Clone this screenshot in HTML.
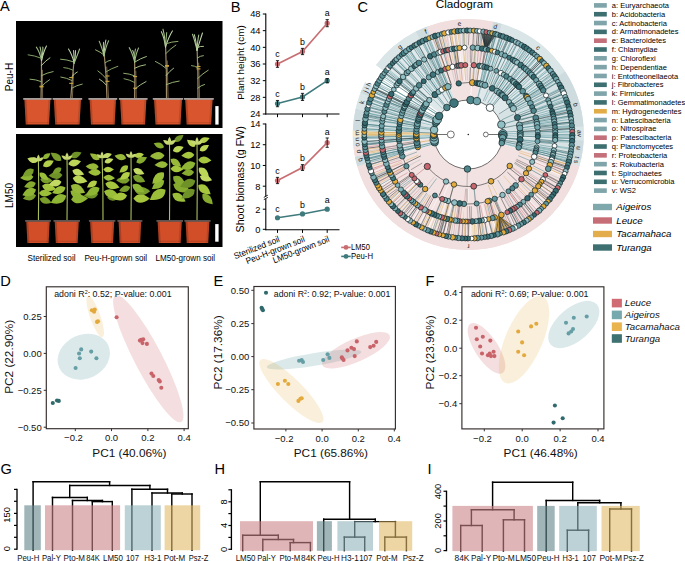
<!DOCTYPE html>
<html><head><meta charset="utf-8"><style>
html,body{margin:0;padding:0;background:#fff;}
body{width:685px;height:561px;overflow:hidden;}
svg{display:block;font-family:"Liberation Sans", sans-serif;}
</style></head><body>
<svg width="685" height="561" viewBox="0 0 685 561">
<rect width="685" height="561" fill="#fff"/>
<text x="0.1" y="11.3" font-size="14.6" text-anchor="start" fill="#000" >A</text>
<text x="230.8" y="12.3" font-size="14.6" text-anchor="start" fill="#000" >B</text>
<text x="357.4" y="11.8" font-size="14.6" text-anchor="start" fill="#000" >C</text>
<text x="0.2" y="286" font-size="14.6" text-anchor="start" fill="#000" >D</text>
<text x="213.6" y="286" font-size="14.6" text-anchor="start" fill="#000" >E</text>
<text x="425.6" y="285.8" font-size="14.6" text-anchor="start" fill="#000" >F</text>
<text x="0.6" y="474.3" font-size="14.6" text-anchor="start" fill="#000" >G</text>
<text x="214.6" y="474.3" font-size="14.6" text-anchor="start" fill="#000" >H</text>
<text x="427.6" y="474.3" font-size="14.6" text-anchor="start" fill="#000" >I</text>
<rect x="16" y="21" width="206.5" height="107" fill="#000" />
<rect x="16" y="134" width="206.5" height="113" fill="#000" />
<path d="M41 99 Q41.65 77.8 41.5 56.6" stroke="#a08c68" stroke-width="1.2" fill="none"/>
<path d="M42.6 99 L42.45 69.85" stroke="#8a7858" stroke-width="0.8" fill="none"/>
<path d="M41.5 60.6 Q39.75 51.88 36.34 47.16" stroke="#9cb982" stroke-width="1.05" fill="none" stroke-linecap="round"/>
<path d="M41.5 60.6 Q41.58 51.81 40.02 47.03" stroke="#a9c48e" stroke-width="1.05" fill="none" stroke-linecap="round"/>
<path d="M41.5 60.6 Q43.17 51.87 42.85 47.14" stroke="#b6cf9c" stroke-width="1.05" fill="none" stroke-linecap="round"/>
<path d="M41.5 60.6 Q43.76 51.34 46.44 46.08" stroke="#c2d7aa" stroke-width="1.05" fill="none" stroke-linecap="round"/>
<path d="M41.11 86.87 Q45.33 82.28 49.55 79.69" stroke="#95b274" stroke-width="0.95" fill="none" stroke-linecap="round"/>
<path d="M41.16 81.58 Q35.61 79.37 30.05 79.17" stroke="#95b274" stroke-width="0.95" fill="none" stroke-linecap="round"/>
<path d="M41.22 75.76 Q47.16 72.67 53.09 71.58" stroke="#95b274" stroke-width="0.95" fill="none" stroke-linecap="round"/>
<path d="M41.32 65.61 Q45.65 60.67 49.99 57.74" stroke="#b8cf98" stroke-width="0.95" fill="none" stroke-linecap="round"/>
<path d="M41.38 58.28 Q34.75 55.54 28.12 54.8" stroke="#88a86a" stroke-width="0.95" fill="none" stroke-linecap="round"/>
<line x1="39.5" y1="86.85" x2="43.5" y2="86.85" stroke="#c9a640" stroke-width="1.1"/>
<line x1="39.5" y1="86.24" x2="43.5" y2="86.24" stroke="#c9a640" stroke-width="1.1"/>
<path d="M70.7 99 Q72.25 79 74.2 59" stroke="#a08c68" stroke-width="1.2" fill="none"/>
<path d="M72.3 99 L73.65 71.5" stroke="#8a7858" stroke-width="0.8" fill="none"/>
<path d="M74.2 63 Q71.89 54 68.47 49" stroke="#c2d7aa" stroke-width="1.05" fill="none" stroke-linecap="round"/>
<path d="M74.2 63 Q74.03 54.76 73.57 50.53" stroke="#c2d7aa" stroke-width="1.05" fill="none" stroke-linecap="round"/>
<path d="M74.2 63 Q75.67 54.79 75.52 50.57" stroke="#b6cf9c" stroke-width="1.05" fill="none" stroke-linecap="round"/>
<path d="M74.2 63 Q77.87 54 79.58 49" stroke="#9cb982" stroke-width="1.05" fill="none" stroke-linecap="round"/>
<path d="M71.45 88.31 Q76.84 85.2 82.24 84.08" stroke="#95b274" stroke-width="0.95" fill="none" stroke-linecap="round"/>
<path d="M71.99 80.51 Q66.41 77.76 60.82 77.01" stroke="#95b274" stroke-width="0.95" fill="none" stroke-linecap="round"/>
<path d="M72.3 76.18 Q74.79 73.1 77.29 72.01" stroke="#b8cf98" stroke-width="0.95" fill="none" stroke-linecap="round"/>
<path d="M72.73 70.02 Q68.25 67.8 63.77 67.57" stroke="#88a86a" stroke-width="0.95" fill="none" stroke-linecap="round"/>
<path d="M73.3 61.79 Q66.94 59.49 60.59 59.19" stroke="#95b274" stroke-width="0.95" fill="none" stroke-linecap="round"/>
<line x1="69.2" y1="77.58" x2="73.2" y2="77.58" stroke="#c9a640" stroke-width="1.1"/>
<line x1="69.2" y1="83.33" x2="73.2" y2="83.33" stroke="#c9a640" stroke-width="1.1"/>
<path d="M107 99 Q106.6 75.4 104 51.8" stroke="#a08c68" stroke-width="1.2" fill="none"/>
<path d="M108.6 99 L106.7 66.55" stroke="#8a7858" stroke-width="0.8" fill="none"/>
<path d="M104 55.8 Q101.61 46.53 99.21 41.26" stroke="#9cb982" stroke-width="1.05" fill="none" stroke-linecap="round"/>
<path d="M104 55.8 Q103.01 47.03 103.58 42.26" stroke="#a9c48e" stroke-width="1.05" fill="none" stroke-linecap="round"/>
<path d="M104 55.8 Q104.54 45.9 105.91 40" stroke="#c2d7aa" stroke-width="1.05" fill="none" stroke-linecap="round"/>
<path d="M104 55.8 Q105.95 46.25 108.64 40.69" stroke="#9cb982" stroke-width="1.05" fill="none" stroke-linecap="round"/>
<path d="M106.29 85.04 Q102.86 81.11 99.43 79.19" stroke="#b8cf98" stroke-width="0.95" fill="none" stroke-linecap="round"/>
<path d="M105.95 78.41 Q101.94 73.68 97.93 70.94" stroke="#95b274" stroke-width="0.95" fill="none" stroke-linecap="round"/>
<path d="M105.63 72.05 Q111.73 68.17 117.83 66.29" stroke="#88a86a" stroke-width="0.95" fill="none" stroke-linecap="round"/>
<path d="M105.16 62.76 Q107.93 60.5 110.7 60.23" stroke="#95b274" stroke-width="0.95" fill="none" stroke-linecap="round"/>
<path d="M104.79 55.62 Q100.17 51.72 95.54 49.81" stroke="#9cb97a" stroke-width="0.95" fill="none" stroke-linecap="round"/>
<line x1="105.5" y1="75.99" x2="109.5" y2="75.99" stroke="#c9a640" stroke-width="1.1"/>
<line x1="105.5" y1="81.32" x2="109.5" y2="81.32" stroke="#c9a640" stroke-width="1.1"/>
<path d="M134.6 99 Q135.1 78.44 134.6 57.88" stroke="#a08c68" stroke-width="1.2" fill="none"/>
<path d="M136.2 99 L135.8 70.73" stroke="#8a7858" stroke-width="0.8" fill="none"/>
<path d="M134.6 61.88 Q132.37 52.74 129.19 47.6" stroke="#9cb982" stroke-width="1.05" fill="none" stroke-linecap="round"/>
<path d="M134.6 61.88 Q134.59 54.17 132.72 50.47" stroke="#a9c48e" stroke-width="1.05" fill="none" stroke-linecap="round"/>
<path d="M134.6 61.88 Q134.38 53.46 135.45 49.04" stroke="#9cb982" stroke-width="1.05" fill="none" stroke-linecap="round"/>
<path d="M134.6 61.88 Q136.18 52.92 138.55 47.96" stroke="#9cb982" stroke-width="1.05" fill="none" stroke-linecap="round"/>
<path d="M134.6 89.23 Q140.31 84.38 146.03 81.54" stroke="#aac78a" stroke-width="0.95" fill="none" stroke-linecap="round"/>
<path d="M134.6 82.43 Q129.3 79.57 124.01 78.7" stroke="#88a86a" stroke-width="0.95" fill="none" stroke-linecap="round"/>
<path d="M134.6 75.87 Q129.15 73.57 123.71 73.28" stroke="#95b274" stroke-width="0.95" fill="none" stroke-linecap="round"/>
<path d="M134.6 68.25 Q140.03 65.5 145.45 64.75" stroke="#aac78a" stroke-width="0.95" fill="none" stroke-linecap="round"/>
<path d="M134.6 62.18 Q140.49 58.33 146.38 56.49" stroke="#aac78a" stroke-width="0.95" fill="none" stroke-linecap="round"/>
<line x1="133.1" y1="76.58" x2="137.1" y2="76.58" stroke="#c9a640" stroke-width="1.1"/>
<line x1="133.1" y1="88.2" x2="137.1" y2="88.2" stroke="#c9a640" stroke-width="1.1"/>
<path d="M166.5 99 Q166.7 71 165.5 43" stroke="#a08c68" stroke-width="1.2" fill="none"/>
<path d="M168.1 99 L167.2 60.5" stroke="#8a7858" stroke-width="0.8" fill="none"/>
<path d="M165.5 47 Q164.16 37.33 161.37 31.66" stroke="#b6cf9c" stroke-width="1.05" fill="none" stroke-linecap="round"/>
<path d="M165.5 47 Q164.84 36.07 162.95 29.14" stroke="#a9c48e" stroke-width="1.05" fill="none" stroke-linecap="round"/>
<path d="M165.5 47 Q166.14 37.78 166.72 32.56" stroke="#9cb982" stroke-width="1.05" fill="none" stroke-linecap="round"/>
<path d="M165.5 47 Q168.53 36.96 172.39 30.92" stroke="#c2d7aa" stroke-width="1.05" fill="none" stroke-linecap="round"/>
<path d="M166.29 84.62 Q172.74 81.84 179.18 81.05" stroke="#9cb97a" stroke-width="0.95" fill="none" stroke-linecap="round"/>
<path d="M166.16 75.5 Q169.9 70.83 173.63 68.16" stroke="#aac78a" stroke-width="0.95" fill="none" stroke-linecap="round"/>
<path d="M166.06 68.37 Q160.75 63.89 155.44 61.42" stroke="#95b274" stroke-width="0.95" fill="none" stroke-linecap="round"/>
<path d="M165.85 53.53 Q170.86 48.3 175.88 45.07" stroke="#95b274" stroke-width="0.95" fill="none" stroke-linecap="round"/>
<path d="M165.71 43.86 Q171.83 41.61 177.94 41.36" stroke="#95b274" stroke-width="0.95" fill="none" stroke-linecap="round"/>
<line x1="165" y1="65.6" x2="169" y2="65.6" stroke="#c9a640" stroke-width="1.1"/>
<line x1="165" y1="66.17" x2="169" y2="66.17" stroke="#c9a640" stroke-width="1.1"/>
<path d="M198 99 Q198.2 72.6 197 46.2" stroke="#a08c68" stroke-width="1.2" fill="none"/>
<path d="M199.6 99 L198.7 62.7" stroke="#8a7858" stroke-width="0.8" fill="none"/>
<path d="M197 50.2 Q194.71 40.25 192.5 34.29" stroke="#a9c48e" stroke-width="1.05" fill="none" stroke-linecap="round"/>
<path d="M197 50.2 Q195.99 40.42 194.32 34.64" stroke="#b6cf9c" stroke-width="1.05" fill="none" stroke-linecap="round"/>
<path d="M197 50.2 Q197.55 40.62 198.73 35.05" stroke="#a9c48e" stroke-width="1.05" fill="none" stroke-linecap="round"/>
<path d="M197 50.2 Q200.37 39.6 202.48 33" stroke="#c2d7aa" stroke-width="1.05" fill="none" stroke-linecap="round"/>
<path d="M197.84 88.12 Q201.16 85.3 204.48 84.48" stroke="#9cb97a" stroke-width="0.95" fill="none" stroke-linecap="round"/>
<path d="M197.69 78.46 Q202.94 73.32 208.2 70.19" stroke="#9cb97a" stroke-width="0.95" fill="none" stroke-linecap="round"/>
<path d="M197.53 67.72 Q194.51 65.65 191.49 65.58" stroke="#88a86a" stroke-width="0.95" fill="none" stroke-linecap="round"/>
<path d="M197.38 57.95 Q200.36 55.79 203.35 55.62" stroke="#9cb97a" stroke-width="0.95" fill="none" stroke-linecap="round"/>
<path d="M197.22 47.61 Q200.34 45.97 203.46 46.32" stroke="#b8cf98" stroke-width="0.95" fill="none" stroke-linecap="round"/>
<line x1="196.5" y1="66.5" x2="200.5" y2="66.5" stroke="#c9a640" stroke-width="1.1"/>
<line x1="196.5" y1="68.88" x2="200.5" y2="68.88" stroke="#c9a640" stroke-width="1.1"/>
<path d="M24.4 99 L50.4 99 L49.04 124.4 L25.76 124.4 Z" fill="#d9552d"/>
<path d="M24.4 99 L26.4 99 L27.76 124.4 L25.76 124.4 Z" fill="#000" opacity="0.18"/>
<path d="M48.4 99 L50.4 99 L49.04 124.4 L47.04 124.4 Z" fill="#000" opacity="0.12"/>
<rect x="26.26" y="122.2" width="22.29" height="1" fill="#000" opacity="0.12"/>
<path d="M23.2 98.9 L51.6 98.9" stroke="#a59e9b" stroke-width="1.8"/>
<path d="M53.8 99 L81 99 L79.54 124.4 L55.26 124.4 Z" fill="#d9552d"/>
<path d="M53.8 99 L55.8 99 L57.26 124.4 L55.26 124.4 Z" fill="#000" opacity="0.18"/>
<path d="M79 99 L81 99 L79.54 124.4 L77.54 124.4 Z" fill="#000" opacity="0.12"/>
<rect x="55.76" y="122.2" width="23.27" height="1" fill="#000" opacity="0.12"/>
<path d="M52.6 98.9 L82.2 98.9" stroke="#a59e9b" stroke-width="1.8"/>
<path d="M89.6 99 L116 99 L114.61 124.4 L90.99 124.4 Z" fill="#d9552d"/>
<path d="M89.6 99 L91.6 99 L92.99 124.4 L90.99 124.4 Z" fill="#000" opacity="0.18"/>
<path d="M114 99 L116 99 L114.61 124.4 L112.61 124.4 Z" fill="#000" opacity="0.12"/>
<rect x="91.49" y="122.2" width="22.62" height="1" fill="#000" opacity="0.12"/>
<path d="M88.4 98.9 L117.2 98.9" stroke="#a59e9b" stroke-width="1.8"/>
<path d="M120.1 99 L146.4 99 L145.02 124.4 L121.48 124.4 Z" fill="#d9552d"/>
<path d="M120.1 99 L122.1 99 L123.48 124.4 L121.48 124.4 Z" fill="#000" opacity="0.18"/>
<path d="M144.4 99 L146.4 99 L145.02 124.4 L143.02 124.4 Z" fill="#000" opacity="0.12"/>
<rect x="121.98" y="122.2" width="22.53" height="1" fill="#000" opacity="0.12"/>
<path d="M118.9 98.9 L147.6 98.9" stroke="#a59e9b" stroke-width="1.8"/>
<path d="M154 99 L182 99 L180.46 124.4 L155.54 124.4 Z" fill="#d9552d"/>
<path d="M154 99 L156 99 L157.54 124.4 L155.54 124.4 Z" fill="#000" opacity="0.18"/>
<path d="M180 99 L182 99 L180.46 124.4 L178.46 124.4 Z" fill="#000" opacity="0.12"/>
<rect x="156.04" y="122.2" width="23.93" height="1" fill="#000" opacity="0.12"/>
<path d="M152.8 98.9 L183.2 98.9" stroke="#a59e9b" stroke-width="1.8"/>
<path d="M185.2 99 L212.6 99 L211.12 124.4 L186.68 124.4 Z" fill="#d9552d"/>
<path d="M185.2 99 L187.2 99 L188.68 124.4 L186.68 124.4 Z" fill="#000" opacity="0.18"/>
<path d="M210.6 99 L212.6 99 L211.12 124.4 L209.12 124.4 Z" fill="#000" opacity="0.12"/>
<rect x="187.18" y="122.2" width="23.44" height="1" fill="#000" opacity="0.12"/>
<path d="M184 98.9 L213.8 98.9" stroke="#a59e9b" stroke-width="1.8"/>
<path d="M38.4 221 Q39 189.5 38.4 158" stroke="#a9bf5a" stroke-width="1.1" fill="none"/>
<path d="M39.7 198.46 Q41.59 206.11 51.51 202.78 Q46.08 193.84 39.7 198.46 Z" fill="#7a9e2c"/>
<path d="M36.06 195.34 Q29.66 189.66 22.84 198.76 Q33.21 203.41 36.06 195.34 Z" fill="#7a9e2c"/>
<path d="M38.92 193.05 Q43.35 199.94 52 193.32 Q43.64 186.34 38.92 193.05 Z" fill="#9cbf3a"/>
<path d="M36 189.45 Q28.19 184.43 22.4 195.31 Q34.29 198.57 36 189.45 Z" fill="#8fb534"/>
<path d="M42.08 185.74 Q45.15 194.22 56.04 189.23 Q48.77 179.7 42.08 185.74 Z" fill="#a6c63e"/>
<path d="M35.76 182.91 Q29.52 178.34 24.16 187.08 Q33.87 190.4 35.76 182.91 Z" fill="#86ab2e"/>
<path d="M40.28 179.34 Q43.76 186.27 52.54 180.9 Q45.38 173.51 40.28 179.34 Z" fill="#7a9e2c"/>
<path d="M33.41 176.67 Q28 170.26 20.11 178.12 Q29.51 184.1 33.41 176.67 Z" fill="#8fb534"/>
<path d="M39.52 172.82 Q38.78 179.92 48.25 180.12 Q46.37 170.84 39.52 172.82 Z" fill="#9cbf3a"/>
<path d="M33.86 169.42 Q26.35 166 22.64 176.31 Q33.52 177.66 33.86 169.42 Z" fill="#7a9e2c"/>
<path d="M43.04 166.15 Q49.63 169.83 53.78 160.7 Q43.96 158.66 43.04 166.15 Z" fill="#b3cf4a"/>
<path d="M37.67 161.54 Q35.71 155.08 27.37 158.38 Q32.42 165.79 37.67 161.54 Z" fill="#c2da64"/>
<path d="M43.08 158.68 Q48.5 160.62 50.46 153.23 Q42.83 152.94 43.08 158.68 Z" fill="#8fb534"/>
<path d="M38.4 161 Q38.26 157.24 33.08 157.27 Q34.82 162.15 38.4 161 Z" fill="#c6d873"/>
<path d="M38.4 161 Q41.4 158.72 38.4 154.5 Q35.4 158.72 38.4 161 Z" fill="#c6d873"/>
<path d="M38.4 161 Q41.98 162.15 43.72 157.27 Q38.54 157.24 38.4 161 Z" fill="#c6d873"/>
<path d="M67 221 Q67.6 188.7 67 156.4" stroke="#a9bf5a" stroke-width="1.1" fill="none"/>
<path d="M71.14 199.42 Q77.64 207.83 88.07 198.31 Q76.49 190.23 71.14 199.42 Z" fill="#8fb534"/>
<path d="M66.3 195.83 Q57.25 190.15 50.71 202.76 Q64.45 206.36 66.3 195.83 Z" fill="#8fb534"/>
<path d="M70.49 191.05 Q71 200.19 83.03 198.52 Q78.76 187.14 70.49 191.05 Z" fill="#8fb534"/>
<path d="M65.53 187.56 Q57.98 182.56 52.19 193.09 Q63.73 196.43 65.53 187.56 Z" fill="#9cbf3a"/>
<path d="M70.83 185.47 Q71.99 195.48 85.11 192.84 Q79.66 180.62 70.83 185.47 Z" fill="#98b83a"/>
<path d="M61.43 181.63 Q55.42 176.09 48.75 184.65 Q58.56 189.28 61.43 181.63 Z" fill="#c2da64"/>
<path d="M72.75 177.9 Q76.03 186.8 87.45 181.5 Q79.77 171.52 72.75 177.9 Z" fill="#bcd658"/>
<path d="M62.42 174.97 Q57.2 168.05 48.61 175.71 Q57.97 182.41 62.42 174.97 Z" fill="#6f9228"/>
<path d="M72.35 170.48 Q74.35 178.07 84.17 174.6 Q78.63 165.77 72.35 170.48 Z" fill="#c2da64"/>
<path d="M61.37 167.91 Q55.32 165.26 52.48 173.55 Q61.19 174.51 61.37 167.91 Z" fill="#7a9e2c"/>
<path d="M68.29 164.32 Q74.41 169.82 81.02 161.13 Q71.08 156.59 68.29 164.32 Z" fill="#bcd658"/>
<path d="M61.35 160.44 Q61.58 152.28 50.76 152.87 Q53.71 163.3 61.35 160.44 Z" fill="#7a9e2c"/>
<path d="M70.66 156.93 Q76.81 161.03 81.57 152.44 Q72.14 149.69 70.66 156.93 Z" fill="#6f9228"/>
<path d="M67 159.4 Q66.85 155.45 61.41 155.49 Q63.24 160.61 67 159.4 Z" fill="#c6d873"/>
<path d="M67 159.4 Q70.15 157.01 67 152.58 Q63.85 157.01 67 159.4 Z" fill="#c6d873"/>
<path d="M67 159.4 Q70.76 160.61 72.59 155.49 Q67.15 155.45 67 159.4 Z" fill="#c6d873"/>
<path d="M103 221 Q103.3 188 102 155" stroke="#a9bf5a" stroke-width="1.1" fill="none"/>
<path d="M107.24 197.64 Q112.31 204.17 120.4 196.76 Q111.39 190.49 107.24 197.64 Z" fill="#6f9228"/>
<path d="M98.14 194.01 Q92.19 187.14 83.75 195.76 Q94.01 202.1 98.14 194.01 Z" fill="#6f9228"/>
<path d="M104.08 191.36 Q106.68 201.07 119.25 196.58 Q112.1 185.3 104.08 191.36 Z" fill="#9cbf3a"/>
<path d="M99.53 188.12 Q91.11 183.56 86 195.2 Q98.47 197.63 99.53 188.12 Z" fill="#8fb534"/>
<path d="M105.31 183.62 Q108.3 192.34 119.51 187.43 Q112.26 177.57 105.31 183.62 Z" fill="#a6c63e"/>
<path d="M96.98 181.35 Q90.32 178.21 86.9 187.38 Q96.59 188.71 96.98 181.35 Z" fill="#b3cf4a"/>
<path d="M103.52 177.36 Q107.06 183.63 114.97 178.26 Q107.99 171.73 103.52 177.36 Z" fill="#9cbf3a"/>
<path d="M100.9 172.69 Q96.77 165.75 88.04 171.98 Q96.03 179.13 100.9 172.69 Z" fill="#9cbf3a"/>
<path d="M103.31 169.61 Q107.09 175.12 113.97 169.52 Q107 164.04 103.31 169.61 Z" fill="#b3cf4a"/>
<path d="M98.7 166.91 Q94.51 159.87 85.65 166.18 Q93.75 173.44 98.7 166.91 Z" fill="#98b83a"/>
<path d="M104.54 162.2 Q109.32 165.67 113.39 158.97 Q105.96 156.46 104.54 162.2 Z" fill="#c2da64"/>
<path d="M99.56 159.61 Q99.35 152.48 89.94 153.53 Q93.03 162.48 99.56 159.61 Z" fill="#98b83a"/>
<path d="M103.07 156.77 Q107.65 160.33 111.85 153.88 Q104.64 151.2 103.07 156.77 Z" fill="#c2da64"/>
<path d="M102 158 Q101.86 154.24 96.68 154.27 Q98.42 159.15 102 158 Z" fill="#c6d873"/>
<path d="M102 158 Q105 155.72 102 151.5 Q99 155.72 102 158 Z" fill="#c6d873"/>
<path d="M102 158 Q105.58 159.15 107.32 154.27 Q102.14 154.24 102 158 Z" fill="#c6d873"/>
<path d="M131 221 Q131.6 187.75 131 154.5" stroke="#a9bf5a" stroke-width="1.1" fill="none"/>
<path d="M133.41 198.6 Q139.18 207.13 149.83 198.56 Q139.13 190.05 133.41 198.6 Z" fill="#a6c63e"/>
<path d="M127.08 195.4 Q120.43 188.45 111.95 198.01 Q123.14 204.18 127.08 195.4 Z" fill="#a6c63e"/>
<path d="M134.93 191.04 Q140.22 199.01 150.2 191.13 Q140.32 183.14 134.93 191.04 Z" fill="#7a9e2c"/>
<path d="M130.2 187.01 Q124.23 182.61 119.06 191 Q128.37 194.2 130.2 187.01 Z" fill="#7a9e2c"/>
<path d="M132.41 184.65 Q132.7 193.52 144.4 192.18 Q140.52 181.05 132.41 184.65 Z" fill="#8fb534"/>
<path d="M129.78 179.99 Q124.91 173.07 116.28 180.26 Q125.2 187.1 129.78 179.99 Z" fill="#7a9e2c"/>
<path d="M133.03 176.15 Q134.36 184.46 145.2 181.8 Q140.23 171.8 133.03 176.15 Z" fill="#7a9e2c"/>
<path d="M129.95 172.6 Q122.9 169.76 119.91 179.39 Q129.97 180.2 129.95 172.6 Z" fill="#b3cf4a"/>
<path d="M133.33 169.22 Q134.67 176.66 144.37 174.09 Q139.73 165.18 133.33 169.22 Z" fill="#c2da64"/>
<path d="M128.06 165.68 Q121.42 163.6 119.39 172.61 Q128.63 172.62 128.06 165.68 Z" fill="#a6c63e"/>
<path d="M136.32 162.49 Q142.74 166.29 147.07 157.37 Q137.42 155.11 136.32 162.49 Z" fill="#86ab2e"/>
<path d="M126.18 158.27 Q123.39 151.32 114.49 155.77 Q120.79 163.47 126.18 158.27 Z" fill="#98b83a"/>
<path d="M134.38 156.32 Q138.85 160.5 143.89 154.13 Q136.57 150.61 134.38 156.32 Z" fill="#b3cf4a"/>
<path d="M131 157.5 Q130.86 153.74 125.68 153.77 Q127.42 158.65 131 157.5 Z" fill="#c6d873"/>
<path d="M131 157.5 Q134 155.22 131 151 Q128 155.22 131 157.5 Z" fill="#c6d873"/>
<path d="M131 157.5 Q134.58 158.65 136.32 153.77 Q131.14 153.74 131 157.5 Z" fill="#c6d873"/>
<path d="M169.5 221 Q170.1 181.25 169.5 141.5" stroke="#a9bf5a" stroke-width="1.1" fill="none"/>
<path d="M172.37 193.87 Q173.05 203.39 185.58 201.46 Q180.95 189.66 172.37 193.87 Z" fill="#9cbf3a"/>
<path d="M165.54 189.86 Q154.77 185.15 149.71 199.91 Q165.23 201.61 165.54 189.86 Z" fill="#9cbf3a"/>
<path d="M173.24 184.3 Q175.56 195.48 190.1 191.2 Q182.72 177.95 173.24 184.3 Z" fill="#86ab2e"/>
<path d="M164.2 180.55 Q155.53 177.05 151.85 188.91 Q164.22 189.9 164.2 180.55 Z" fill="#8fb534"/>
<path d="M173.15 176.59 Q172.85 186.2 185.61 185.55 Q182.17 173.24 173.15 176.59 Z" fill="#86ab2e"/>
<path d="M163.89 172.52 Q154.04 170.38 152.29 183.66 Q165.63 182.45 163.89 172.52 Z" fill="#9cbf3a"/>
<path d="M170.61 168.45 Q174.54 175.41 183.32 169.46 Q175.58 162.19 170.61 168.45 Z" fill="#a6c63e"/>
<path d="M167.87 164.26 Q162.75 157.62 154.52 165.12 Q163.64 171.5 167.87 164.26 Z" fill="#98b83a"/>
<path d="M170.64 159.03 Q170.4 167.12 181.13 166.55 Q178.22 156.2 170.64 159.03 Z" fill="#98b83a"/>
<path d="M164.48 155.47 Q159.05 148.15 149.96 156.13 Q159.75 163.25 164.48 155.47 Z" fill="#98b83a"/>
<path d="M172.88 150.98 Q178.77 155.14 183.63 146.9 Q174.52 143.96 172.88 150.98 Z" fill="#bcd658"/>
<path d="M164.04 147.13 Q162.4 140.42 153.69 143.33 Q158.44 151.18 164.04 147.13 Z" fill="#86ab2e"/>
<path d="M174.42 141.57 Q180.98 143.99 183.47 135.05 Q174.2 134.58 174.42 141.57 Z" fill="#6f9228"/>
<path d="M169.5 144.5 Q169.33 139.99 163.11 140.03 Q165.2 145.88 169.5 144.5 Z" fill="#c6d873"/>
<path d="M169.5 144.5 Q173.1 141.77 169.5 136.7 Q165.9 141.77 169.5 144.5 Z" fill="#c6d873"/>
<path d="M169.5 144.5 Q173.8 145.88 175.89 140.03 Q169.67 139.99 169.5 144.5 Z" fill="#c6d873"/>
<path d="M197 221 Q197.6 181.25 197 141.5" stroke="#a9bf5a" stroke-width="1.1" fill="none"/>
<path d="M202.53 194.1 Q200.84 202.98 212.78 204.25 Q211.4 192.32 202.53 194.1 Z" fill="#86ab2e"/>
<path d="M194.79 189.71 Q185.59 185.77 181.37 198.38 Q194.6 199.72 194.79 189.71 Z" fill="#6f9228"/>
<path d="M198.37 184.89 Q197.81 194.56 210.67 194.25 Q207.54 181.77 198.37 184.89 Z" fill="#a6c63e"/>
<path d="M195.37 180.64 Q186.8 174.81 180.02 186.8 Q193.21 190.78 195.37 180.64 Z" fill="#6f9228"/>
<path d="M199.87 176.33 Q202.09 184.06 212.08 180.27 Q206.19 171.36 199.87 176.33 Z" fill="#c2da64"/>
<path d="M194.08 171.9 Q188.83 166.02 181.62 173.62 Q190.61 178.98 194.08 171.9 Z" fill="#86ab2e"/>
<path d="M198.9 167.68 Q197.45 176.3 209.02 177.28 Q207.43 165.78 198.9 167.68 Z" fill="#bcd658"/>
<path d="M195.37 163.04 Q187.28 157.51 180.85 168.82 Q193.29 172.62 195.37 163.04 Z" fill="#8fb534"/>
<path d="M198.25 159.68 Q202.46 166.81 211.45 160.46 Q203.28 153.09 198.25 159.68 Z" fill="#a6c63e"/>
<path d="M194.32 154.86 Q189.28 148.44 181.34 155.82 Q190.28 161.94 194.32 154.86 Z" fill="#a6c63e"/>
<path d="M199.68 150.77 Q205.91 153.63 209.01 145.07 Q199.98 143.92 199.68 150.77 Z" fill="#bcd658"/>
<path d="M195.2 146.52 Q195.78 139.9 186.96 139.86 Q188.85 148.47 195.2 146.52 Z" fill="#bcd658"/>
<path d="M199.37 141.75 Q204.9 145.77 209.62 138.02 Q201.02 135.11 199.37 141.75 Z" fill="#b3cf4a"/>
<path d="M197 144.5 Q196.84 140.17 190.88 140.21 Q192.88 145.83 197 144.5 Z" fill="#c6d873"/>
<path d="M197 144.5 Q200.45 141.88 197 137.03 Q193.55 141.88 197 144.5 Z" fill="#c6d873"/>
<path d="M197 144.5 Q201.12 145.83 203.12 140.21 Q197.16 140.17 197 144.5 Z" fill="#c6d873"/>
<path d="M26.3 221 L49.7 221 L48.58 243 L27.42 243 Z" fill="#d24e29"/>
<path d="M26.3 221 L28.3 221 L29.42 243 L27.42 243 Z" fill="#000" opacity="0.18"/>
<path d="M47.7 221 L49.7 221 L48.58 243 L46.58 243 Z" fill="#000" opacity="0.12"/>
<rect x="27.92" y="240.8" width="20.16" height="1" fill="#000" opacity="0.12"/>
<path d="M25.1 220.9 L50.9 220.9" stroke="#5e5552" stroke-width="1.8"/>
<path d="M54.7 221 L78.8 221 L77.61 243 L55.88 243 Z" fill="#d24e29"/>
<path d="M54.7 221 L56.7 221 L57.88 243 L55.88 243 Z" fill="#000" opacity="0.18"/>
<path d="M76.8 221 L78.8 221 L77.61 243 L75.61 243 Z" fill="#000" opacity="0.12"/>
<rect x="56.38" y="240.8" width="20.73" height="1" fill="#000" opacity="0.12"/>
<path d="M53.5 220.9 L80 220.9" stroke="#5e5552" stroke-width="1.8"/>
<path d="M90.1 221 L114.2 221 L113.02 243 L91.29 243 Z" fill="#d24e29"/>
<path d="M90.1 221 L92.1 221 L93.29 243 L91.29 243 Z" fill="#000" opacity="0.18"/>
<path d="M112.2 221 L114.2 221 L113.02 243 L111.02 243 Z" fill="#000" opacity="0.12"/>
<rect x="91.79" y="240.8" width="20.73" height="1" fill="#000" opacity="0.12"/>
<path d="M88.9 220.9 L115.4 220.9" stroke="#5e5552" stroke-width="1.8"/>
<path d="M118.6 221 L141.2 221 L140.15 243 L119.65 243 Z" fill="#d24e29"/>
<path d="M118.6 221 L120.6 221 L121.65 243 L119.65 243 Z" fill="#000" opacity="0.18"/>
<path d="M139.2 221 L141.2 221 L140.15 243 L138.15 243 Z" fill="#000" opacity="0.12"/>
<rect x="120.15" y="240.8" width="19.5" height="1" fill="#000" opacity="0.12"/>
<path d="M117.4 220.9 L142.4 220.9" stroke="#5e5552" stroke-width="1.8"/>
<path d="M157.6 221 L181.8 221 L180.61 243 L158.79 243 Z" fill="#d24e29"/>
<path d="M157.6 221 L159.6 221 L160.79 243 L158.79 243 Z" fill="#000" opacity="0.18"/>
<path d="M179.8 221 L181.8 221 L180.61 243 L178.61 243 Z" fill="#000" opacity="0.12"/>
<rect x="159.29" y="240.8" width="20.81" height="1" fill="#000" opacity="0.12"/>
<path d="M156.4 220.9 L183 220.9" stroke="#5e5552" stroke-width="1.8"/>
<path d="M185.6 221 L209.4 221 L208.24 243 L186.76 243 Z" fill="#d24e29"/>
<path d="M185.6 221 L187.6 221 L188.76 243 L186.76 243 Z" fill="#000" opacity="0.18"/>
<path d="M207.4 221 L209.4 221 L208.24 243 L206.24 243 Z" fill="#000" opacity="0.12"/>
<rect x="187.26" y="240.8" width="20.48" height="1" fill="#000" opacity="0.12"/>
<path d="M184.4 220.9 L210.6 220.9" stroke="#5e5552" stroke-width="1.8"/>
<rect x="215.3" y="106.1" width="3.3" height="18.5" fill="#fff" />
<rect x="215.2" y="224.1" width="3.4" height="17.6" fill="#fff" />
<text x="27.5" y="260.5" font-size="8.2" text-anchor="start" fill="#000" textLength="48" lengthAdjust="spacingAndGlyphs" >Sterilized soil</text>
<text x="84.4" y="260.5" font-size="8.2" text-anchor="start" fill="#000" textLength="62.8" lengthAdjust="spacingAndGlyphs" >Peu-H-grown soil</text>
<text x="155.6" y="260.5" font-size="8.2" text-anchor="start" fill="#000" textLength="59.5" lengthAdjust="spacingAndGlyphs" >LM50-grown soil</text>
<text x="0" y="0" font-size="10" text-anchor="middle" fill="#000" transform="translate(13.2 77) rotate(-90)">Peu-H</text>
<text x="0" y="0" font-size="10" text-anchor="middle" fill="#000" transform="translate(13.2 195.5) rotate(-90)">LM50</text>
<line x1="265.8" y1="13.5" x2="265.8" y2="114.5" stroke="#000" stroke-width="1.1" />
<line x1="265.3" y1="114" x2="339.5" y2="114" stroke="#000" stroke-width="1.1" />
<line x1="262.8" y1="114" x2="265.8" y2="114" stroke="#000" stroke-width="1" />
<text x="260.5" y="117.3" font-size="9.3" text-anchor="end" fill="#000" >24</text>
<line x1="262.8" y1="97.33" x2="265.8" y2="97.33" stroke="#000" stroke-width="1" />
<text x="260.5" y="100.63" font-size="9.3" text-anchor="end" fill="#000" >28</text>
<line x1="262.8" y1="80.67" x2="265.8" y2="80.67" stroke="#000" stroke-width="1" />
<text x="260.5" y="83.97" font-size="9.3" text-anchor="end" fill="#000" >32</text>
<line x1="262.8" y1="64" x2="265.8" y2="64" stroke="#000" stroke-width="1" />
<text x="260.5" y="67.3" font-size="9.3" text-anchor="end" fill="#000" >36</text>
<line x1="262.8" y1="47.33" x2="265.8" y2="47.33" stroke="#000" stroke-width="1" />
<text x="260.5" y="50.63" font-size="9.3" text-anchor="end" fill="#000" >40</text>
<line x1="262.8" y1="30.67" x2="265.8" y2="30.67" stroke="#000" stroke-width="1" />
<text x="260.5" y="33.97" font-size="9.3" text-anchor="end" fill="#000" >44</text>
<line x1="262.8" y1="14" x2="265.8" y2="14" stroke="#000" stroke-width="1" />
<text x="260.5" y="17.3" font-size="9.3" text-anchor="end" fill="#000" >48</text>
<line x1="277.5" y1="114" x2="277.5" y2="117.2" stroke="#000" stroke-width="1" />
<line x1="302.5" y1="114" x2="302.5" y2="117.2" stroke="#000" stroke-width="1" />
<line x1="327.2" y1="114" x2="327.2" y2="117.2" stroke="#000" stroke-width="1" />
<text x="0" y="0" font-size="9.9" text-anchor="middle" fill="#000" transform="translate(243.8 62.5) rotate(-90)">Plant height (cm)</text>
<polyline points="277.5,64 302.5,51.5 327.2,23.17" fill="none" stroke="#c86e72" stroke-width="1.6"/>
<circle cx="277.5" cy="64" r="2.6" fill="#c86e72" stroke="none" stroke-width="0" />
<line x1="277.5" y1="60.67" x2="277.5" y2="67.33" stroke="#111" stroke-width="0.9" />
<line x1="275.9" y1="60.67" x2="279.1" y2="60.67" stroke="#111" stroke-width="0.9" />
<line x1="275.9" y1="67.33" x2="279.1" y2="67.33" stroke="#111" stroke-width="0.9" />
<text x="277.5" y="57.47" font-size="8.8" text-anchor="middle" fill="#000" >c</text>
<circle cx="302.5" cy="51.5" r="2.6" fill="#c86e72" stroke="none" stroke-width="0" />
<line x1="302.5" y1="48.38" x2="302.5" y2="54.62" stroke="#111" stroke-width="0.9" />
<line x1="300.9" y1="48.38" x2="304.1" y2="48.38" stroke="#111" stroke-width="0.9" />
<line x1="300.9" y1="54.62" x2="304.1" y2="54.62" stroke="#111" stroke-width="0.9" />
<text x="302.5" y="45.17" font-size="8.8" text-anchor="middle" fill="#000" >b</text>
<circle cx="327.2" cy="23.17" r="2.6" fill="#c86e72" stroke="none" stroke-width="0" />
<line x1="327.2" y1="19.62" x2="327.2" y2="26.71" stroke="#111" stroke-width="0.9" />
<line x1="325.6" y1="19.62" x2="328.8" y2="19.62" stroke="#111" stroke-width="0.9" />
<line x1="325.6" y1="26.71" x2="328.8" y2="26.71" stroke="#111" stroke-width="0.9" />
<text x="327.2" y="16.43" font-size="8.8" text-anchor="middle" fill="#000" >a</text>
<polyline points="277.5,103.58 302.5,96.92 327.2,80.67" fill="none" stroke="#3f7a7c" stroke-width="1.6"/>
<circle cx="277.5" cy="103.58" r="2.6" fill="#3f7a7c" stroke="none" stroke-width="0" />
<line x1="277.5" y1="100.46" x2="277.5" y2="106.71" stroke="#111" stroke-width="0.9" />
<line x1="275.9" y1="100.46" x2="279.1" y2="100.46" stroke="#111" stroke-width="0.9" />
<line x1="275.9" y1="106.71" x2="279.1" y2="106.71" stroke="#111" stroke-width="0.9" />
<text x="277.5" y="97.26" font-size="8.8" text-anchor="middle" fill="#000" >c</text>
<circle cx="302.5" cy="96.92" r="2.6" fill="#3f7a7c" stroke="none" stroke-width="0" />
<line x1="302.5" y1="93.37" x2="302.5" y2="100.46" stroke="#111" stroke-width="0.9" />
<line x1="300.9" y1="93.37" x2="304.1" y2="93.37" stroke="#111" stroke-width="0.9" />
<line x1="300.9" y1="100.46" x2="304.1" y2="100.46" stroke="#111" stroke-width="0.9" />
<text x="302.5" y="90.17" font-size="8.8" text-anchor="middle" fill="#000" >b</text>
<circle cx="327.2" cy="80.67" r="2.6" fill="#3f7a7c" stroke="none" stroke-width="0" />
<line x1="327.2" y1="78.58" x2="327.2" y2="82.75" stroke="#111" stroke-width="0.9" />
<line x1="325.6" y1="78.58" x2="328.8" y2="78.58" stroke="#111" stroke-width="0.9" />
<line x1="325.6" y1="82.75" x2="328.8" y2="82.75" stroke="#111" stroke-width="0.9" />
<text x="327.2" y="75.38" font-size="8.8" text-anchor="middle" fill="#000" >a</text>
<line x1="265.8" y1="123.5" x2="265.8" y2="196.2" stroke="#000" stroke-width="1.1" />
<line x1="265.8" y1="199" x2="265.8" y2="230.2" stroke="#000" stroke-width="1.1" />
<path d="M263.8 197.4 l4 -2.2 M263.8 199.6 l4 -2.2" stroke="#000" stroke-width="0.9"/>
<line x1="265.3" y1="229.7" x2="339.5" y2="229.7" stroke="#000" stroke-width="1.1" />
<line x1="262.8" y1="123.98" x2="265.8" y2="123.98" stroke="#000" stroke-width="1" />
<text x="260.5" y="127.28" font-size="9.3" text-anchor="end" fill="#000" >14</text>
<line x1="262.8" y1="144.72" x2="265.8" y2="144.72" stroke="#000" stroke-width="1" />
<text x="260.5" y="148.02" font-size="9.3" text-anchor="end" fill="#000" >12</text>
<line x1="262.8" y1="165.46" x2="265.8" y2="165.46" stroke="#000" stroke-width="1" />
<text x="260.5" y="168.76" font-size="9.3" text-anchor="end" fill="#000" >10</text>
<line x1="262.8" y1="186.2" x2="265.8" y2="186.2" stroke="#000" stroke-width="1" />
<text x="260.5" y="189.5" font-size="9.3" text-anchor="end" fill="#000" >8</text>
<line x1="262.8" y1="209.2" x2="265.8" y2="209.2" stroke="#000" stroke-width="1" />
<text x="260.5" y="212.5" font-size="9.3" text-anchor="end" fill="#000" >2</text>
<line x1="262.8" y1="229.3" x2="265.8" y2="229.3" stroke="#000" stroke-width="1" />
<text x="260.5" y="232.6" font-size="9.3" text-anchor="end" fill="#000" >0</text>
<line x1="277.5" y1="229.7" x2="277.5" y2="232.9" stroke="#000" stroke-width="1" />
<line x1="302.5" y1="229.7" x2="302.5" y2="232.9" stroke="#000" stroke-width="1" />
<line x1="327.2" y1="229.7" x2="327.2" y2="232.9" stroke="#000" stroke-width="1" />
<text x="0" y="0" font-size="10.7" text-anchor="middle" fill="#000" transform="translate(244.4 179.3) rotate(-90)">Shoot biomass (g FW)</text>
<polyline points="277.5,180.5 302.5,167.53 327.2,142.65" fill="none" stroke="#c86e72" stroke-width="1.6"/>
<circle cx="277.5" cy="180.5" r="2.6" fill="#c86e72" stroke="none" stroke-width="0" />
<line x1="277.5" y1="177.39" x2="277.5" y2="183.61" stroke="#111" stroke-width="0.9" />
<line x1="275.9" y1="177.39" x2="279.1" y2="177.39" stroke="#111" stroke-width="0.9" />
<line x1="275.9" y1="183.61" x2="279.1" y2="183.61" stroke="#111" stroke-width="0.9" />
<text x="277.5" y="174.19" font-size="8.8" text-anchor="middle" fill="#000" >c</text>
<circle cx="302.5" cy="167.53" r="2.6" fill="#c86e72" stroke="none" stroke-width="0" />
<line x1="302.5" y1="164.63" x2="302.5" y2="170.44" stroke="#111" stroke-width="0.9" />
<line x1="300.9" y1="164.63" x2="304.1" y2="164.63" stroke="#111" stroke-width="0.9" />
<line x1="300.9" y1="170.44" x2="304.1" y2="170.44" stroke="#111" stroke-width="0.9" />
<text x="302.5" y="161.43" font-size="8.8" text-anchor="middle" fill="#000" >b</text>
<circle cx="327.2" cy="142.65" r="2.6" fill="#c86e72" stroke="none" stroke-width="0" />
<line x1="327.2" y1="137.98" x2="327.2" y2="147.31" stroke="#111" stroke-width="0.9" />
<line x1="325.6" y1="137.98" x2="328.8" y2="137.98" stroke="#111" stroke-width="0.9" />
<line x1="325.6" y1="147.31" x2="328.8" y2="147.31" stroke="#111" stroke-width="0.9" />
<text x="327.2" y="134.78" font-size="8.8" text-anchor="middle" fill="#000" >a</text>
<polyline points="277.5,217.74 302.5,213.92 327.2,209.2" fill="none" stroke="#3f7a7c" stroke-width="1.6"/>
<circle cx="277.5" cy="217.74" r="2.6" fill="#3f7a7c" stroke="none" stroke-width="0" />
<text x="277.5" y="211.94" font-size="8.8" text-anchor="middle" fill="#000" >c</text>
<circle cx="302.5" cy="213.92" r="2.6" fill="#3f7a7c" stroke="none" stroke-width="0" />
<text x="302.5" y="208.12" font-size="8.8" text-anchor="middle" fill="#000" >b</text>
<circle cx="327.2" cy="209.2" r="2.6" fill="#3f7a7c" stroke="none" stroke-width="0" />
<text x="327.2" y="203.4" font-size="8.8" text-anchor="middle" fill="#000" >a</text>
<text x="0" y="0" font-size="8.9" text-anchor="end" fill="#000" textLength="48.5" lengthAdjust="spacingAndGlyphs" transform="translate(280.3 241.4) rotate(-21.5)">Sterilized soil</text>
<text x="0" y="0" font-size="8.9" text-anchor="end" fill="#000" textLength="62.5" lengthAdjust="spacingAndGlyphs" transform="translate(305.4 241.4) rotate(-21.5)">Peu-H-grown soil</text>
<text x="0" y="0" font-size="8.9" text-anchor="end" fill="#000" textLength="60" lengthAdjust="spacingAndGlyphs" transform="translate(330 241.4) rotate(-21.5)">LM50-grown soil</text>
<line x1="341.2" y1="247.4" x2="350.7" y2="247.4" stroke="#c86e72" stroke-width="1.6" />
<circle cx="346" cy="247.4" r="2.4" fill="#c86e72" stroke="none" stroke-width="0" />
<text x="351.1" y="250.2" font-size="8.2" text-anchor="start" fill="#000" textLength="18.8" lengthAdjust="spacingAndGlyphs" >LM50</text>
<line x1="341.2" y1="256.4" x2="350.7" y2="256.4" stroke="#3f7a7c" stroke-width="1.6" />
<circle cx="346" cy="256.4" r="2.4" fill="#3f7a7c" stroke="none" stroke-width="0" />
<text x="351.1" y="259.2" font-size="8.2" text-anchor="start" fill="#000" textLength="21.9" lengthAdjust="spacingAndGlyphs" >Peu-H</text>
<path d="M583.52 126.44 A115.5 115.5 0 0 1 583.78 136.52 L502.29 135.09 A34 34 0 0 0 502.22 132.13 Z" fill="#dfe8ea"/>
<path d="M583.52 126.44 A115.5 115.5 0 0 1 583.78 136.52 L574.78 136.36 A106.5 106.5 0 0 0 574.54 127.07 Z" fill="#dae5e7"/>
<path d="M583.78 136.52 A115.5 115.5 0 0 1 583.64 140.54 L502.25 136.28 A34 34 0 0 0 502.29 135.09 Z" fill="#dfe8ea"/>
<path d="M583.78 136.52 A115.5 115.5 0 0 1 583.64 140.54 L574.65 140.07 A106.5 106.5 0 0 0 574.78 136.36 Z" fill="#dae5e7"/>
<path d="M583.64 140.54 A115.5 115.5 0 0 1 582.05 154.56 L501.78 140.4 A34 34 0 0 0 502.25 136.28 Z" fill="#d7e2e4"/>
<path d="M583.64 140.54 A115.5 115.5 0 0 1 582.05 154.56 L573.18 152.99 A106.5 106.5 0 0 0 574.65 140.07 Z" fill="#cfdcdf"/>
<path d="M582.05 154.56 A115.5 115.5 0 0 1 580.84 160.48 L501.43 142.15 A34 34 0 0 0 501.78 140.4 Z" fill="#d7e2e4"/>
<path d="M582.05 154.56 A115.5 115.5 0 0 1 580.84 160.48 L572.07 158.46 A106.5 106.5 0 0 0 573.18 152.99 Z" fill="#cfdcdf"/>
<path d="M580.84 160.48 A115.5 115.5 0 0 1 579.33 166.34 L500.98 143.87 A34 34 0 0 0 501.43 142.15 Z" fill="#dfe8ea"/>
<path d="M580.84 160.48 A115.5 115.5 0 0 1 579.33 166.34 L570.67 163.86 A106.5 106.5 0 0 0 572.07 158.46 Z" fill="#dae5e7"/>
<path d="M579.33 166.34 A115.5 115.5 0 0 1 357.27 166.34 L435.62 143.87 A34 34 0 0 0 500.98 143.87 Z" fill="#f3e2e2"/>
<path d="M579.33 166.34 A115.5 115.5 0 0 1 357.27 166.34 L365.93 163.86 A106.5 106.5 0 0 0 570.67 163.86 Z" fill="#f1dede"/>
<path d="M357.27 166.34 A115.5 115.5 0 0 1 354.92 156.54 L434.92 140.99 A34 34 0 0 0 435.62 143.87 Z" fill="#d7e2e4"/>
<path d="M357.27 166.34 A115.5 115.5 0 0 1 354.92 156.54 L363.76 154.82 A106.5 106.5 0 0 0 365.93 163.86 Z" fill="#cfdcdf"/>
<path d="M354.92 156.54 A115.5 115.5 0 0 1 353.43 146.57 L434.49 138.05 A34 34 0 0 0 434.92 140.99 Z" fill="#f3e2e2"/>
<path d="M354.92 156.54 A115.5 115.5 0 0 1 353.43 146.57 L362.38 145.63 A106.5 106.5 0 0 0 363.76 154.82 Z" fill="#f1dede"/>
<path d="M353.43 146.57 A115.5 115.5 0 0 1 352.96 140.54 L434.35 136.28 A34 34 0 0 0 434.49 138.05 Z" fill="#dfe8ea"/>
<path d="M353.43 146.57 A115.5 115.5 0 0 1 352.96 140.54 L361.95 140.07 A106.5 106.5 0 0 0 362.38 145.63 Z" fill="#dae5e7"/>
<path d="M352.96 140.54 A115.5 115.5 0 0 1 352.82 136.52 L434.31 135.09 A34 34 0 0 0 434.35 136.28 Z" fill="#dfe8ea"/>
<path d="M352.96 140.54 A115.5 115.5 0 0 1 352.82 136.52 L361.82 136.36 A106.5 106.5 0 0 0 361.95 140.07 Z" fill="#dae5e7"/>
<path d="M352.82 136.52 A115.5 115.5 0 0 1 352.87 130.47 L434.32 133.31 A34 34 0 0 0 434.31 135.09 Z" fill="#f8ebcf"/>
<path d="M352.82 136.52 A115.5 115.5 0 0 1 352.87 130.47 L361.86 130.78 A106.5 106.5 0 0 0 361.82 136.36 Z" fill="#f6e6c4"/>
<path d="M352.87 130.47 A115.5 115.5 0 0 1 355.76 108.52 L435.17 126.85 A34 34 0 0 0 434.32 133.31 Z" fill="#d7e2e4"/>
<path d="M352.87 130.47 A115.5 115.5 0 0 1 355.76 108.52 L364.53 110.54 A106.5 106.5 0 0 0 361.86 130.78 Z" fill="#cfdcdf"/>
<path d="M355.76 108.52 A115.5 115.5 0 0 1 360.47 93.11 L436.56 122.32 A34 34 0 0 0 435.17 126.85 Z" fill="#dfe8ea"/>
<path d="M355.76 108.52 A115.5 115.5 0 0 1 360.47 93.11 L368.87 96.33 A106.5 106.5 0 0 0 364.53 110.54 Z" fill="#dae5e7"/>
<path d="M360.47 93.11 A115.5 115.5 0 0 1 361.98 89.37 L437 121.22 A34 34 0 0 0 436.56 122.32 Z" fill="#d7e2e4"/>
<path d="M360.47 93.11 A115.5 115.5 0 0 1 361.98 89.37 L370.27 92.89 A106.5 106.5 0 0 0 368.87 96.33 Z" fill="#cfdcdf"/>
<path d="M361.98 89.37 A115.5 115.5 0 0 1 363.62 85.69 L437.49 120.13 A34 34 0 0 0 437 121.22 Z" fill="#dfe8ea"/>
<path d="M361.98 89.37 A115.5 115.5 0 0 1 363.62 85.69 L371.78 89.49 A106.5 106.5 0 0 0 370.27 92.89 Z" fill="#dae5e7"/>
<path d="M363.62 85.69 A115.5 115.5 0 0 1 365.39 82.06 L438.01 119.06 A34 34 0 0 0 437.49 120.13 Z" fill="#dfe8ea"/>
<path d="M363.62 85.69 A115.5 115.5 0 0 1 365.39 82.06 L373.41 86.15 A106.5 106.5 0 0 0 371.78 89.49 Z" fill="#dae5e7"/>
<path d="M365.39 82.06 A115.5 115.5 0 0 1 376.06 64.99 L441.15 114.04 A34 34 0 0 0 438.01 119.06 Z" fill="#ffffff"/>
<path d="M365.39 82.06 A115.5 115.5 0 0 1 376.06 64.99 L383.25 70.41 A106.5 106.5 0 0 0 373.41 86.15 Z" fill="#ffffff"/>
<path d="M376.06 64.99 A115.5 115.5 0 0 1 415.86 31.59 L452.86 104.21 A34 34 0 0 0 441.15 114.04 Z" fill="#dfe8ea"/>
<path d="M376.06 64.99 A115.5 115.5 0 0 1 415.86 31.59 L419.95 39.61 A106.5 106.5 0 0 0 383.25 70.41 Z" fill="#dae5e7"/>
<path d="M415.86 31.59 A115.5 115.5 0 0 1 426.91 26.67 L456.12 102.76 A34 34 0 0 0 452.86 104.21 Z" fill="#d7e2e4"/>
<path d="M415.86 31.59 A115.5 115.5 0 0 1 426.91 26.67 L430.13 35.07 A106.5 106.5 0 0 0 419.95 39.61 Z" fill="#cfdcdf"/>
<path d="M426.91 26.67 A115.5 115.5 0 0 1 493.3 21.74 L475.66 101.31 A34 34 0 0 0 456.12 102.76 Z" fill="#f3e2e2"/>
<path d="M426.91 26.67 A115.5 115.5 0 0 1 493.3 21.74 L491.35 30.52 A106.5 106.5 0 0 0 430.13 35.07 Z" fill="#f1dede"/>
<path d="M493.3 21.74 A115.5 115.5 0 0 1 502.07 24.05 L478.24 101.99 A34 34 0 0 0 475.66 101.31 Z" fill="#d7e2e4"/>
<path d="M493.3 21.74 A115.5 115.5 0 0 1 502.07 24.05 L499.44 32.65 A106.5 106.5 0 0 0 491.35 30.52 Z" fill="#cfdcdf"/>
<path d="M502.07 24.05 A115.5 115.5 0 0 1 565.17 71.59 L496.81 115.98 A34 34 0 0 0 478.24 101.99 Z" fill="#dfe8ea"/>
<path d="M502.07 24.05 A115.5 115.5 0 0 1 565.17 71.59 L557.62 76.5 A106.5 106.5 0 0 0 499.44 32.65 Z" fill="#dae5e7"/>
<path d="M565.17 71.59 A115.5 115.5 0 0 1 583.52 126.44 L502.22 132.13 A34 34 0 0 0 496.81 115.98 Z" fill="#d7e2e4"/>
<path d="M565.17 71.59 A115.5 115.5 0 0 1 583.52 126.44 L574.54 127.07 A106.5 106.5 0 0 0 557.62 76.5 Z" fill="#cfdcdf"/>
<line x1="502.79" y1="133.91" x2="520.29" y2="133.61" stroke="#6ea6ac" stroke-width="0.7"/>
<line x1="520.26" y1="132.39" x2="537.74" y2="131.67" stroke="#6ea6ac" stroke-width="0.7"/>
<line x1="520.3" y1="134.84" x2="537.8" y2="134.96" stroke="#6ea6ac" stroke-width="0.7"/>
<line x1="537.74" y1="131.67" x2="555.23" y2="130.96" stroke="#5f979d" stroke-width="0.7"/>
<line x1="537.8" y1="134.96" x2="555.3" y2="135.08" stroke="#6ea6ac" stroke-width="0.7"/>
<line x1="555.17" y1="129.66" x2="572.14" y2="128.71" stroke="#3f6f74" stroke-width="0.7"/>
<line x1="555.27" y1="132.27" x2="572.27" y2="131.83" stroke="#7fb3b8" stroke-width="0.7"/>
<line x1="555.3" y1="135.08" x2="572.3" y2="135.19" stroke="#7fb3b8" stroke-width="0.7"/>
<line x1="502.78" y1="135.63" x2="520.27" y2="136.21" stroke="#6ea6ac" stroke-width="0.7"/>
<line x1="520.27" y1="136.21" x2="537.76" y2="136.78" stroke="#3f6f74" stroke-width="0.7"/>
<line x1="537.76" y1="136.78" x2="555.25" y2="137.36" stroke="#7fb3b8" stroke-width="0.7"/>
<line x1="555.25" y1="137.36" x2="572.24" y2="137.92" stroke="#6ea6ac" stroke-width="0.7"/>
<line x1="502.64" y1="137.87" x2="520.05" y2="139.58" stroke="#3f6f74" stroke-width="0.7"/>
<line x1="520.05" y1="139.58" x2="537.47" y2="141.28" stroke="#6ea6ac" stroke-width="0.7"/>
<line x1="537.47" y1="141.28" x2="554.88" y2="142.99" stroke="#4b8086" stroke-width="0.7"/>
<line x1="555.13" y1="140.02" x2="572.09" y2="141.09" stroke="#3f6f74" stroke-width="0.7"/>
<line x1="554.54" y1="145.96" x2="571.39" y2="148.2" stroke="#7fb3b8" stroke-width="0.7"/>
<line x1="502.12" y1="141.31" x2="519.28" y2="144.77" stroke="#4b8086" stroke-width="0.7"/>
<line x1="519.42" y1="144.01" x2="536.63" y2="147.21" stroke="#5f979d" stroke-width="0.7"/>
<line x1="519.12" y1="145.52" x2="536.22" y2="149.23" stroke="#6ea6ac" stroke-width="0.7"/>
<line x1="536.63" y1="147.21" x2="553.83" y2="150.41" stroke="#6ea6ac" stroke-width="0.7"/>
<line x1="536.22" y1="149.23" x2="553.32" y2="152.94" stroke="#5f979d" stroke-width="0.7"/>
<line x1="553.83" y1="150.41" x2="570.55" y2="153.52" stroke="#6ea6ac" stroke-width="0.7"/>
<line x1="553.32" y1="152.94" x2="569.94" y2="156.54" stroke="#3f6f74" stroke-width="0.7"/>
<line x1="501.71" y1="143.1" x2="518.66" y2="147.47" stroke="#7fb3b8" stroke-width="0.7"/>
<line x1="518.66" y1="147.47" x2="535.6" y2="151.83" stroke="#3f6f74" stroke-width="0.7"/>
<line x1="535.81" y1="151" x2="552.81" y2="155.15" stroke="#4b8086" stroke-width="0.7"/>
<line x1="535.38" y1="152.66" x2="552.28" y2="157.24" stroke="#7fb3b8" stroke-width="0.7"/>
<line x1="552.81" y1="155.15" x2="569.33" y2="159.19" stroke="#6ea6ac" stroke-width="0.7"/>
<line x1="552.28" y1="157.24" x2="568.69" y2="161.68" stroke="#3f6f74" stroke-width="0.7"/>
<line x1="467.43" y1="168.99" x2="466.99" y2="186.48" stroke="#a0a0a0" stroke-width="0.7"/>
<line x1="509.72" y1="165.94" x2="523.65" y2="176.53" stroke="#c9858a" stroke-width="0.7"/>
<line x1="491.05" y1="181.26" x2="498.71" y2="196.99" stroke="#ffffff" stroke-width="0.7"/>
<line x1="473.74" y1="186.21" x2="475.58" y2="203.62" stroke="#a0a0a0" stroke-width="0.7"/>
<line x1="453.97" y1="184.49" x2="449.14" y2="201.31" stroke="#a0a0a0" stroke-width="0.7"/>
<line x1="446.01" y1="181.48" x2="438.5" y2="197.29" stroke="#c9858a" stroke-width="0.7"/>
<line x1="427.3" y1="166.48" x2="413.5" y2="177.24" stroke="#c9858a" stroke-width="0.7"/>
<line x1="534.17" y1="156.68" x2="550.75" y2="162.26" stroke="#6d6262" stroke-width="0.7"/>
<line x1="532.18" y1="161.88" x2="548.27" y2="168.77" stroke="#ffffff" stroke-width="0.7"/>
<line x1="528.91" y1="168.51" x2="544.17" y2="177.08" stroke="#5c8e93" stroke-width="0.7"/>
<line x1="526.01" y1="173.23" x2="540.54" y2="182.98" stroke="#ffffff" stroke-width="0.7"/>
<line x1="521.47" y1="179.25" x2="534.86" y2="190.52" stroke="#d8b060" stroke-width="0.7"/>
<line x1="515.57" y1="185.44" x2="527.48" y2="198.27" stroke="#ffffff" stroke-width="0.7"/>
<line x1="512.34" y1="188.27" x2="523.43" y2="201.81" stroke="#6d6262" stroke-width="0.7"/>
<line x1="508.38" y1="191.28" x2="518.48" y2="205.57" stroke="#c9858a" stroke-width="0.7"/>
<line x1="502.55" y1="194.97" x2="511.18" y2="210.2" stroke="#a0a0a0" stroke-width="0.7"/>
<line x1="494.75" y1="198.77" x2="501.41" y2="214.95" stroke="#6d6262" stroke-width="0.7"/>
<line x1="489.44" y1="200.71" x2="494.76" y2="217.38" stroke="#a0a0a0" stroke-width="0.7"/>
<line x1="487.74" y1="201.22" x2="492.64" y2="218.03" stroke="#c9858a" stroke-width="0.7"/>
<line x1="476.61" y1="203.5" x2="478.7" y2="220.88" stroke="#a0a0a0" stroke-width="0.7"/>
<line x1="463.99" y1="203.87" x2="462.9" y2="221.33" stroke="#d8b060" stroke-width="0.7"/>
<line x1="459.58" y1="203.45" x2="457.38" y2="220.81" stroke="#6d6262" stroke-width="0.7"/>
<line x1="454.41" y1="202.6" x2="450.91" y2="219.74" stroke="#3f3f3f" stroke-width="0.7"/>
<line x1="448.02" y1="200.97" x2="442.91" y2="217.71" stroke="#ffffff" stroke-width="0.7"/>
<line x1="445.09" y1="200.01" x2="439.25" y2="216.51" stroke="#ffffff" stroke-width="0.7"/>
<line x1="442.19" y1="198.91" x2="435.62" y2="215.13" stroke="#5c8e93" stroke-width="0.7"/>
<line x1="434.91" y1="195.46" x2="426.51" y2="210.81" stroke="#6d6262" stroke-width="0.7"/>
<line x1="425.18" y1="189" x2="414.32" y2="202.73" stroke="#a0a0a0" stroke-width="0.7"/>
<line x1="420.28" y1="184.74" x2="408.19" y2="197.39" stroke="#a0a0a0" stroke-width="0.7"/>
<line x1="417.86" y1="182.31" x2="405.16" y2="194.35" stroke="#d8b060" stroke-width="0.7"/>
<line x1="416.64" y1="181" x2="403.64" y2="192.7" stroke="#ffffff" stroke-width="0.7"/>
<line x1="414.44" y1="178.43" x2="400.88" y2="189.49" stroke="#a0a0a0" stroke-width="0.7"/>
<line x1="411.77" y1="174.94" x2="397.54" y2="185.12" stroke="#6d6262" stroke-width="0.7"/>
<line x1="406.44" y1="166.19" x2="390.87" y2="174.17" stroke="#d8b060" stroke-width="0.7"/>
<line x1="402.32" y1="156.32" x2="385.7" y2="161.82" stroke="#6d6262" stroke-width="0.7"/>
<line x1="551.6" y1="159.61" x2="567.87" y2="164.52" stroke="#d8b060" stroke-width="0.7"/>
<line x1="550.83" y1="162.03" x2="566.96" y2="167.4" stroke="#3f3f3f" stroke-width="0.7"/>
<line x1="549.74" y1="165.11" x2="565.65" y2="171.09" stroke="#6d6262" stroke-width="0.7"/>
<line x1="548.27" y1="168.77" x2="563.89" y2="175.47" stroke="#d8b060" stroke-width="0.7"/>
<line x1="545.32" y1="174.96" x2="560.37" y2="182.87" stroke="#6d6262" stroke-width="0.7"/>
<line x1="542.96" y1="179.16" x2="557.55" y2="187.89" stroke="#6d6262" stroke-width="0.7"/>
<line x1="541.44" y1="181.61" x2="555.73" y2="190.81" stroke="#3f3f3f" stroke-width="0.7"/>
<line x1="539.62" y1="184.33" x2="553.55" y2="194.07" stroke="#3f3f3f" stroke-width="0.7"/>
<line x1="538.24" y1="186.24" x2="551.91" y2="196.35" stroke="#c9858a" stroke-width="0.7"/>
<line x1="534.88" y1="190.5" x2="547.89" y2="201.44" stroke="#6d6262" stroke-width="0.7"/>
<line x1="531.19" y1="194.62" x2="543.48" y2="206.36" stroke="#3f3f3f" stroke-width="0.7"/>
<line x1="527.48" y1="198.27" x2="539.04" y2="210.73" stroke="#ffffff" stroke-width="0.7"/>
<line x1="523.43" y1="201.81" x2="534.2" y2="214.96" stroke="#3f3f3f" stroke-width="0.7"/>
<line x1="519.88" y1="204.56" x2="529.96" y2="218.25" stroke="#5c8e93" stroke-width="0.7"/>
<line x1="517.06" y1="206.55" x2="526.58" y2="220.63" stroke="#c9858a" stroke-width="0.7"/>
<line x1="514.7" y1="208.09" x2="523.77" y2="222.47" stroke="#3f3f3f" stroke-width="0.7"/>
<line x1="512.49" y1="209.44" x2="521.13" y2="224.08" stroke="#c9858a" stroke-width="0.7"/>
<line x1="510.17" y1="210.76" x2="518.35" y2="225.67" stroke="#5c8e93" stroke-width="0.7"/>
<line x1="507.24" y1="212.3" x2="514.85" y2="227.5" stroke="#ffffff" stroke-width="0.7"/>
<line x1="501.41" y1="214.95" x2="507.89" y2="230.67" stroke="#a0a0a0" stroke-width="0.7"/>
<line x1="494.76" y1="217.38" x2="499.93" y2="233.57" stroke="#d8b060" stroke-width="0.7"/>
<line x1="492.64" y1="218.03" x2="497.39" y2="234.35" stroke="#ffffff" stroke-width="0.7"/>
<line x1="488.52" y1="219.12" x2="492.47" y2="235.65" stroke="#5c8e93" stroke-width="0.7"/>
<line x1="484.51" y1="219.98" x2="487.68" y2="236.68" stroke="#5c8e93" stroke-width="0.7"/>
<line x1="482.01" y1="220.41" x2="484.69" y2="237.2" stroke="#d8b060" stroke-width="0.7"/>
<line x1="479.29" y1="220.8" x2="481.43" y2="237.67" stroke="#d8b060" stroke-width="0.7"/>
<line x1="476.03" y1="221.16" x2="477.54" y2="238.09" stroke="#ffffff" stroke-width="0.7"/>
<line x1="472.32" y1="221.41" x2="473.1" y2="238.39" stroke="#d8b060" stroke-width="0.7"/>
<line x1="467.99" y1="221.5" x2="467.93" y2="238.5" stroke="#3f3f3f" stroke-width="0.7"/>
<line x1="465.83" y1="221.46" x2="465.34" y2="238.46" stroke="#c9858a" stroke-width="0.7"/>
<line x1="462.97" y1="221.34" x2="461.93" y2="238.3" stroke="#5c8e93" stroke-width="0.7"/>
<line x1="459.9" y1="221.09" x2="458.26" y2="238.01" stroke="#5c8e93" stroke-width="0.7"/>
<line x1="457.38" y1="220.81" x2="455.25" y2="237.68" stroke="#a0a0a0" stroke-width="0.7"/>
<line x1="455.14" y1="220.5" x2="452.57" y2="237.3" stroke="#ffffff" stroke-width="0.7"/>
<line x1="451.76" y1="219.91" x2="448.53" y2="236.6" stroke="#3f3f3f" stroke-width="0.7"/>
<line x1="449.72" y1="219.49" x2="446.09" y2="236.1" stroke="#6d6262" stroke-width="0.7"/>
<line x1="447.05" y1="218.87" x2="442.9" y2="235.35" stroke="#3f3f3f" stroke-width="0.7"/>
<line x1="444.04" y1="218.05" x2="439.3" y2="234.37" stroke="#a0a0a0" stroke-width="0.7"/>
<line x1="441.79" y1="217.36" x2="436.61" y2="233.55" stroke="#6d6262" stroke-width="0.7"/>
<line x1="439.25" y1="216.51" x2="433.57" y2="232.53" stroke="#5c8e93" stroke-width="0.7"/>
<line x1="436.88" y1="215.63" x2="430.74" y2="231.48" stroke="#ffffff" stroke-width="0.7"/>
<line x1="434.36" y1="214.61" x2="427.73" y2="230.26" stroke="#ffffff" stroke-width="0.7"/>
<line x1="431.52" y1="213.34" x2="424.33" y2="228.75" stroke="#3f3f3f" stroke-width="0.7"/>
<line x1="429.33" y1="212.28" x2="421.72" y2="227.48" stroke="#d8b060" stroke-width="0.7"/>
<line x1="426.67" y1="210.9" x2="418.54" y2="225.82" stroke="#ffffff" stroke-width="0.7"/>
<line x1="424.48" y1="209.66" x2="415.92" y2="224.34" stroke="#6d6262" stroke-width="0.7"/>
<line x1="420.79" y1="207.38" x2="411.51" y2="221.62" stroke="#ffffff" stroke-width="0.7"/>
<line x1="417.59" y1="205.19" x2="407.68" y2="219.01" stroke="#5c8e93" stroke-width="0.7"/>
<line x1="415.36" y1="203.53" x2="405.01" y2="217.02" stroke="#ffffff" stroke-width="0.7"/>
<line x1="413.05" y1="201.7" x2="402.25" y2="214.84" stroke="#6d6262" stroke-width="0.7"/>
<line x1="411.4" y1="200.32" x2="400.29" y2="213.18" stroke="#5c8e93" stroke-width="0.7"/>
<line x1="409.4" y1="198.53" x2="397.89" y2="211.04" stroke="#a0a0a0" stroke-width="0.7"/>
<line x1="407" y1="196.24" x2="395.02" y2="208.3" stroke="#3f3f3f" stroke-width="0.7"/>
<line x1="405.16" y1="194.35" x2="392.82" y2="206.05" stroke="#6d6262" stroke-width="0.7"/>
<line x1="403.64" y1="192.7" x2="391" y2="204.08" stroke="#a0a0a0" stroke-width="0.7"/>
<line x1="400.88" y1="189.49" x2="387.71" y2="200.23" stroke="#d8b060" stroke-width="0.7"/>
<line x1="397.54" y1="185.12" x2="383.71" y2="195.01" stroke="#3f3f3f" stroke-width="0.7"/>
<line x1="395.09" y1="181.5" x2="380.78" y2="190.68" stroke="#6d6262" stroke-width="0.7"/>
<line x1="393.06" y1="178.18" x2="378.36" y2="186.71" stroke="#ffffff" stroke-width="0.7"/>
<line x1="391.22" y1="174.85" x2="376.16" y2="182.73" stroke="#6d6262" stroke-width="0.7"/>
<line x1="390.12" y1="172.66" x2="374.84" y2="180.12" stroke="#5c8e93" stroke-width="0.7"/>
<line x1="388.99" y1="170.26" x2="373.49" y2="177.25" stroke="#5c8e93" stroke-width="0.7"/>
<line x1="387.63" y1="167.08" x2="371.87" y2="173.45" stroke="#c9858a" stroke-width="0.7"/>
<line x1="386.33" y1="163.66" x2="370.31" y2="169.36" stroke="#c9858a" stroke-width="0.7"/>
<line x1="385.11" y1="159.97" x2="368.86" y2="164.94" stroke="#3f3f3f" stroke-width="0.7"/>
<line x1="434.66" y1="142.18" x2="417.6" y2="146.07" stroke="#4b8086" stroke-width="0.7"/>
<line x1="417.87" y1="147.18" x2="400.9" y2="151.45" stroke="#3f6f74" stroke-width="0.7"/>
<line x1="417.36" y1="144.95" x2="400.22" y2="148.47" stroke="#4b8086" stroke-width="0.7"/>
<line x1="401.16" y1="152.45" x2="384.25" y2="156.97" stroke="#6ea6ac" stroke-width="0.7"/>
<line x1="400.65" y1="150.44" x2="383.62" y2="154.45" stroke="#4b8086" stroke-width="0.7"/>
<line x1="400.22" y1="148.47" x2="383.08" y2="151.99" stroke="#3f6f74" stroke-width="0.7"/>
<line x1="384.25" y1="156.97" x2="367.83" y2="161.36" stroke="#3f6f74" stroke-width="0.7"/>
<line x1="383.62" y1="154.45" x2="367.07" y2="158.35" stroke="#7fb3b8" stroke-width="0.7"/>
<line x1="383.08" y1="151.99" x2="366.42" y2="155.4" stroke="#6ea6ac" stroke-width="0.7"/>
<line x1="434.22" y1="139.84" x2="416.93" y2="142.55" stroke="#d8b060" stroke-width="0.7"/>
<line x1="416.93" y1="142.55" x2="399.64" y2="145.26" stroke="#6d6262" stroke-width="0.7"/>
<line x1="399.64" y1="145.26" x2="382.35" y2="147.97" stroke="#5c8e93" stroke-width="0.7"/>
<line x1="382.63" y1="149.66" x2="365.89" y2="152.62" stroke="#d8b060" stroke-width="0.7"/>
<line x1="382.1" y1="146.29" x2="365.26" y2="148.59" stroke="#3f3f3f" stroke-width="0.7"/>
<line x1="433.91" y1="137.3" x2="416.47" y2="138.72" stroke="#5f979d" stroke-width="0.7"/>
<line x1="416.53" y1="139.4" x2="399.11" y2="141.05" stroke="#6ea6ac" stroke-width="0.7"/>
<line x1="416.42" y1="138.04" x2="398.96" y2="139.24" stroke="#4b8086" stroke-width="0.7"/>
<line x1="399.11" y1="141.05" x2="381.69" y2="142.71" stroke="#4b8086" stroke-width="0.7"/>
<line x1="398.96" y1="139.24" x2="381.5" y2="140.43" stroke="#5f979d" stroke-width="0.7"/>
<line x1="381.69" y1="142.71" x2="364.76" y2="144.31" stroke="#3f6f74" stroke-width="0.7"/>
<line x1="381.5" y1="140.43" x2="364.54" y2="141.59" stroke="#5f979d" stroke-width="0.7"/>
<line x1="433.82" y1="135.54" x2="416.32" y2="136.07" stroke="#7fb3b8" stroke-width="0.7"/>
<line x1="416.32" y1="136.07" x2="398.83" y2="136.6" stroke="#3f6f74" stroke-width="0.7"/>
<line x1="398.83" y1="136.6" x2="381.34" y2="137.13" stroke="#5f979d" stroke-width="0.7"/>
<line x1="381.34" y1="137.13" x2="364.35" y2="137.64" stroke="#6ea6ac" stroke-width="0.7"/>
<line x1="433.8" y1="134.2" x2="416.3" y2="134.04" stroke="#d8a850" stroke-width="0.7"/>
<line x1="416.3" y1="134.04" x2="398.8" y2="133.89" stroke="#d8a850" stroke-width="0.7"/>
<line x1="398.8" y1="134.92" x2="381.3" y2="135.02" stroke="#d8a850" stroke-width="0.7"/>
<line x1="398.82" y1="132.86" x2="381.32" y2="132.45" stroke="#d8a850" stroke-width="0.7"/>
<line x1="381.3" y1="135.02" x2="364.3" y2="135.13" stroke="#d8a850" stroke-width="0.7"/>
<line x1="381.32" y1="132.45" x2="364.33" y2="132.04" stroke="#d8a850" stroke-width="0.7"/>
<line x1="434.1" y1="129.93" x2="416.76" y2="127.61" stroke="#5f979d" stroke-width="0.7"/>
<line x1="416.38" y1="131.68" x2="398.9" y2="130.73" stroke="#4b8086" stroke-width="0.7"/>
<line x1="416.56" y1="129.34" x2="399.14" y2="127.6" stroke="#4b8086" stroke-width="0.7"/>
<line x1="417.02" y1="125.87" x2="399.76" y2="122.96" stroke="#6ea6ac" stroke-width="0.7"/>
<line x1="417.45" y1="123.6" x2="400.34" y2="119.94" stroke="#4b8086" stroke-width="0.7"/>
<line x1="398.9" y1="130.73" x2="381.43" y2="129.79" stroke="#7fb3b8" stroke-width="0.7"/>
<line x1="399.14" y1="127.6" x2="381.73" y2="125.86" stroke="#4b8086" stroke-width="0.7"/>
<line x1="399.58" y1="124.1" x2="382.28" y2="121.48" stroke="#7fb3b8" stroke-width="0.7"/>
<line x1="399.97" y1="121.83" x2="382.76" y2="118.63" stroke="#3f6f74" stroke-width="0.7"/>
<line x1="400.34" y1="119.94" x2="383.23" y2="116.27" stroke="#7fb3b8" stroke-width="0.7"/>
<line x1="381.43" y1="129.79" x2="364.45" y2="128.86" stroke="#7fb3b8" stroke-width="0.7"/>
<line x1="381.73" y1="125.86" x2="364.81" y2="124.18" stroke="#4b8086" stroke-width="0.7"/>
<line x1="382.28" y1="121.48" x2="365.47" y2="118.93" stroke="#3f6f74" stroke-width="0.7"/>
<line x1="382.76" y1="118.63" x2="366.04" y2="115.53" stroke="#4b8086" stroke-width="0.7"/>
<line x1="383.23" y1="116.27" x2="366.61" y2="112.71" stroke="#6ea6ac" stroke-width="0.7"/>
<line x1="435.43" y1="124.01" x2="418.76" y2="118.69" stroke="#3f6f74" stroke-width="0.7"/>
<line x1="418.13" y1="120.81" x2="401.25" y2="116.2" stroke="#4b8086" stroke-width="0.7"/>
<line x1="418.81" y1="118.55" x2="402.15" y2="113.18" stroke="#6ea6ac" stroke-width="0.7"/>
<line x1="419.43" y1="116.73" x2="402.98" y2="110.75" stroke="#7fb3b8" stroke-width="0.7"/>
<line x1="401.25" y1="116.2" x2="384.37" y2="111.6" stroke="#7fb3b8" stroke-width="0.7"/>
<line x1="402.15" y1="113.18" x2="385.49" y2="107.82" stroke="#3f6f74" stroke-width="0.7"/>
<line x1="402.98" y1="110.75" x2="386.54" y2="104.77" stroke="#6ea6ac" stroke-width="0.7"/>
<line x1="384.37" y1="111.6" x2="367.97" y2="107.12" stroke="#3f6f74" stroke-width="0.7"/>
<line x1="385.49" y1="107.82" x2="369.31" y2="102.6" stroke="#3f6f74" stroke-width="0.7"/>
<line x1="386.54" y1="104.77" x2="370.56" y2="98.96" stroke="#6ea6ac" stroke-width="0.7"/>
<line x1="436.35" y1="121.48" x2="420.14" y2="114.88" stroke="#7fb3b8" stroke-width="0.7"/>
<line x1="420.14" y1="114.88" x2="403.94" y2="108.28" stroke="#5f979d" stroke-width="0.7"/>
<line x1="403.94" y1="108.28" x2="387.73" y2="101.67" stroke="#3f6f74" stroke-width="0.7"/>
<line x1="387.73" y1="101.67" x2="371.99" y2="95.26" stroke="#4b8086" stroke-width="0.7"/>
<line x1="436.81" y1="120.41" x2="420.84" y2="113.26" stroke="#3f6f74" stroke-width="0.7"/>
<line x1="420.84" y1="113.26" x2="404.86" y2="106.11" stroke="#5f979d" stroke-width="0.7"/>
<line x1="404.86" y1="106.11" x2="388.89" y2="98.96" stroke="#4b8086" stroke-width="0.7"/>
<line x1="388.89" y1="98.96" x2="373.37" y2="92.01" stroke="#4b8086" stroke-width="0.7"/>
<line x1="437.23" y1="119.5" x2="421.47" y2="111.9" stroke="#3f6f74" stroke-width="0.7"/>
<line x1="421.47" y1="111.9" x2="405.71" y2="104.29" stroke="#7fb3b8" stroke-width="0.7"/>
<line x1="405.71" y1="104.29" x2="389.95" y2="96.69" stroke="#7fb3b8" stroke-width="0.7"/>
<line x1="389.95" y1="96.69" x2="374.64" y2="89.3" stroke="#6ea6ac" stroke-width="0.7"/>
<line x1="439.15" y1="116.04" x2="424.37" y2="106.68" stroke="#5f979d" stroke-width="0.7"/>
<line x1="422.26" y1="110.32" x2="406.77" y2="102.18" stroke="#4b8086" stroke-width="0.7"/>
<line x1="423.78" y1="107.63" x2="408.8" y2="98.59" stroke="#5f979d" stroke-width="0.7"/>
<line x1="425.41" y1="105.09" x2="410.98" y2="95.2" stroke="#3f6f74" stroke-width="0.7"/>
<line x1="426.3" y1="103.84" x2="412.16" y2="93.53" stroke="#6ea6ac" stroke-width="0.7"/>
<line x1="406.77" y1="102.18" x2="391.28" y2="94.05" stroke="#3f6f74" stroke-width="0.7"/>
<line x1="408.8" y1="98.59" x2="393.81" y2="89.55" stroke="#4b8086" stroke-width="0.7"/>
<line x1="410.98" y1="95.2" x2="396.55" y2="85.3" stroke="#3f6f74" stroke-width="0.7"/>
<line x1="412.16" y1="93.53" x2="398.03" y2="83.21" stroke="#7fb3b8" stroke-width="0.7"/>
<line x1="391.28" y1="94.05" x2="376.23" y2="86.14" stroke="#4b8086" stroke-width="0.7"/>
<line x1="393.81" y1="89.55" x2="379.26" y2="80.76" stroke="#3f6f74" stroke-width="0.7"/>
<line x1="396.55" y1="85.3" x2="382.53" y2="75.69" stroke="#4b8086" stroke-width="0.7"/>
<line x1="398.03" y1="83.21" x2="384.29" y2="73.19" stroke="#6ea6ac" stroke-width="0.7"/>
<line x1="446.87" y1="107.47" x2="435.99" y2="93.75" stroke="#4b8086" stroke-width="0.7"/>
<line x1="429.3" y1="100.11" x2="416.17" y2="88.53" stroke="#6ea6ac" stroke-width="0.7"/>
<line x1="434.93" y1="94.62" x2="423.7" y2="81.2" stroke="#7fb3b8" stroke-width="0.7"/>
<line x1="438.75" y1="91.71" x2="428.81" y2="77.31" stroke="#4b8086" stroke-width="0.7"/>
<line x1="441.91" y1="89.7" x2="433.03" y2="74.62" stroke="#7fb3b8" stroke-width="0.7"/>
<line x1="413.36" y1="91.93" x2="399.53" y2="81.21" stroke="#6ea6ac" stroke-width="0.7"/>
<line x1="416.2" y1="88.5" x2="403.08" y2="76.92" stroke="#7fb3b8" stroke-width="0.7"/>
<line x1="419.16" y1="85.35" x2="406.78" y2="72.98" stroke="#7fb3b8" stroke-width="0.7"/>
<line x1="423.7" y1="81.2" x2="412.47" y2="67.77" stroke="#5f979d" stroke-width="0.7"/>
<line x1="428.81" y1="77.31" x2="418.86" y2="62.91" stroke="#4b8086" stroke-width="0.7"/>
<line x1="433.03" y1="74.62" x2="424.14" y2="59.54" stroke="#7fb3b8" stroke-width="0.7"/>
<line x1="399.53" y1="81.21" x2="386.09" y2="70.8" stroke="#4b8086" stroke-width="0.7"/>
<line x1="403.08" y1="76.92" x2="390.34" y2="65.66" stroke="#5f979d" stroke-width="0.7"/>
<line x1="406.78" y1="72.98" x2="394.76" y2="60.96" stroke="#4b8086" stroke-width="0.7"/>
<line x1="408.24" y1="71.56" x2="396.5" y2="59.26" stroke="#4b8086" stroke-width="0.7"/>
<line x1="411.37" y1="68.72" x2="400.24" y2="55.86" stroke="#4b8086" stroke-width="0.7"/>
<line x1="414.27" y1="66.31" x2="403.71" y2="52.99" stroke="#5f979d" stroke-width="0.7"/>
<line x1="416.25" y1="64.78" x2="406.08" y2="51.16" stroke="#6ea6ac" stroke-width="0.7"/>
<line x1="418.86" y1="62.91" x2="409.2" y2="48.92" stroke="#6ea6ac" stroke-width="0.7"/>
<line x1="424.14" y1="59.54" x2="415.52" y2="44.89" stroke="#7fb3b8" stroke-width="0.7"/>
<line x1="453.98" y1="103.11" x2="446.72" y2="87.19" stroke="#7fb3b8" stroke-width="0.7"/>
<line x1="445.49" y1="87.77" x2="437.81" y2="72.04" stroke="#5f979d" stroke-width="0.7"/>
<line x1="447.97" y1="86.64" x2="441.13" y2="70.53" stroke="#3f6f74" stroke-width="0.7"/>
<line x1="437.81" y1="72.04" x2="430.13" y2="56.32" stroke="#3f6f74" stroke-width="0.7"/>
<line x1="441.13" y1="70.53" x2="434.28" y2="54.43" stroke="#5f979d" stroke-width="0.7"/>
<line x1="430.13" y1="56.32" x2="422.68" y2="41.04" stroke="#7fb3b8" stroke-width="0.7"/>
<line x1="434.28" y1="54.43" x2="427.64" y2="38.78" stroke="#7fb3b8" stroke-width="0.7"/>
<line x1="470.53" y1="100.07" x2="471.66" y2="82.61" stroke="#ffffff" stroke-width="0.7"/>
<line x1="458.69" y1="83.4" x2="455.46" y2="66.2" stroke="#a0a0a0" stroke-width="0.7"/>
<line x1="472.44" y1="82.67" x2="473.84" y2="65.22" stroke="#d8b060" stroke-width="0.7"/>
<line x1="476.57" y1="83.16" x2="479.35" y2="65.88" stroke="#6d6262" stroke-width="0.7"/>
<line x1="478.9" y1="83.59" x2="482.47" y2="66.46" stroke="#ffffff" stroke-width="0.7"/>
<line x1="445.28" y1="68.92" x2="439.48" y2="52.41" stroke="#c9858a" stroke-width="0.7"/>
<line x1="448.25" y1="67.96" x2="443.2" y2="51.2" stroke="#5c8e93" stroke-width="0.7"/>
<line x1="452.57" y1="66.8" x2="448.61" y2="49.76" stroke="#c9858a" stroke-width="0.7"/>
<line x1="456.97" y1="65.93" x2="454.12" y2="48.66" stroke="#3f3f3f" stroke-width="0.7"/>
<line x1="459.03" y1="65.62" x2="456.69" y2="48.28" stroke="#6d6262" stroke-width="0.7"/>
<line x1="461.25" y1="65.36" x2="459.47" y2="47.95" stroke="#ffffff" stroke-width="0.7"/>
<line x1="465.31" y1="65.06" x2="464.56" y2="47.58" stroke="#ffffff" stroke-width="0.7"/>
<line x1="473.84" y1="65.22" x2="475.23" y2="47.78" stroke="#5c8e93" stroke-width="0.7"/>
<line x1="479.35" y1="65.88" x2="482.13" y2="48.61" stroke="#c9858a" stroke-width="0.7"/>
<line x1="482.47" y1="66.46" x2="486.04" y2="49.33" stroke="#6d6262" stroke-width="0.7"/>
<line x1="438.3" y1="52.83" x2="432.44" y2="36.88" stroke="#a0a0a0" stroke-width="0.7"/>
<line x1="440.67" y1="52" x2="435.27" y2="35.88" stroke="#5c8e93" stroke-width="0.7"/>
<line x1="443.2" y1="51.2" x2="438.29" y2="34.92" stroke="#a0a0a0" stroke-width="0.7"/>
<line x1="446.04" y1="50.4" x2="441.69" y2="33.96" stroke="#5c8e93" stroke-width="0.7"/>
<line x1="448.25" y1="49.84" x2="444.34" y2="33.3" stroke="#c9858a" stroke-width="0.7"/>
<line x1="451.56" y1="49.13" x2="448.29" y2="32.44" stroke="#ffffff" stroke-width="0.7"/>
<line x1="454.12" y1="48.66" x2="451.35" y2="31.89" stroke="#d8b060" stroke-width="0.7"/>
<line x1="456.69" y1="48.28" x2="454.42" y2="31.43" stroke="#d8b060" stroke-width="0.7"/>
<line x1="459.47" y1="47.95" x2="457.75" y2="31.04" stroke="#d8b060" stroke-width="0.7"/>
<line x1="464.56" y1="47.58" x2="463.83" y2="30.6" stroke="#5c8e93" stroke-width="0.7"/>
<line x1="472.77" y1="47.61" x2="473.64" y2="30.64" stroke="#6d6262" stroke-width="0.7"/>
<line x1="477.7" y1="48.01" x2="479.53" y2="31.11" stroke="#a0a0a0" stroke-width="0.7"/>
<line x1="482.13" y1="48.61" x2="484.83" y2="31.82" stroke="#d8b060" stroke-width="0.7"/>
<line x1="486.04" y1="49.33" x2="489.51" y2="32.68" stroke="#5c8e93" stroke-width="0.7"/>
<line x1="476.92" y1="101.09" x2="481.29" y2="84.15" stroke="#5f979d" stroke-width="0.7"/>
<line x1="480.25" y1="83.89" x2="484.27" y2="66.86" stroke="#6ea6ac" stroke-width="0.7"/>
<line x1="482.32" y1="84.43" x2="487.04" y2="67.57" stroke="#5f979d" stroke-width="0.7"/>
<line x1="484.27" y1="66.86" x2="488.29" y2="49.83" stroke="#4b8086" stroke-width="0.7"/>
<line x1="487.04" y1="67.57" x2="491.76" y2="50.72" stroke="#5f979d" stroke-width="0.7"/>
<line x1="488.29" y1="49.83" x2="492.19" y2="33.28" stroke="#3f6f74" stroke-width="0.7"/>
<line x1="491.76" y1="50.72" x2="496.34" y2="34.35" stroke="#3f6f74" stroke-width="0.7"/>
<line x1="489.98" y1="107.66" x2="500.97" y2="94.04" stroke="#5f979d" stroke-width="0.7"/>
<line x1="484.99" y1="85.25" x2="490.61" y2="68.68" stroke="#3f6f74" stroke-width="0.7"/>
<line x1="492.28" y1="88.36" x2="500.35" y2="72.83" stroke="#5f979d" stroke-width="0.7"/>
<line x1="496.89" y1="91.06" x2="506.51" y2="76.45" stroke="#3f6f74" stroke-width="0.7"/>
<line x1="499.58" y1="92.96" x2="510.11" y2="78.98" stroke="#3f6f74" stroke-width="0.7"/>
<line x1="501.56" y1="94.53" x2="512.75" y2="81.07" stroke="#4b8086" stroke-width="0.7"/>
<line x1="502.71" y1="95.51" x2="514.29" y2="82.39" stroke="#6ea6ac" stroke-width="0.7"/>
<line x1="505.13" y1="97.79" x2="517.53" y2="85.44" stroke="#7fb3b8" stroke-width="0.7"/>
<line x1="508.98" y1="102.11" x2="522.67" y2="91.21" stroke="#5f979d" stroke-width="0.7"/>
<line x1="511.43" y1="105.45" x2="525.94" y2="95.67" stroke="#3f6f74" stroke-width="0.7"/>
<line x1="490.61" y1="68.68" x2="496.22" y2="52.1" stroke="#5f979d" stroke-width="0.7"/>
<line x1="496.25" y1="70.87" x2="503.29" y2="54.84" stroke="#4b8086" stroke-width="0.7"/>
<line x1="500.94" y1="73.14" x2="509.16" y2="57.69" stroke="#7fb3b8" stroke-width="0.7"/>
<line x1="503.73" y1="74.71" x2="512.65" y2="59.65" stroke="#4b8086" stroke-width="0.7"/>
<line x1="506.51" y1="76.45" x2="516.13" y2="61.83" stroke="#6ea6ac" stroke-width="0.7"/>
<line x1="510.11" y1="78.98" x2="520.64" y2="65" stroke="#3f6f74" stroke-width="0.7"/>
<line x1="512.75" y1="81.07" x2="523.94" y2="67.62" stroke="#7fb3b8" stroke-width="0.7"/>
<line x1="514.29" y1="82.39" x2="525.87" y2="69.27" stroke="#6ea6ac" stroke-width="0.7"/>
<line x1="516.12" y1="84.07" x2="528.17" y2="71.37" stroke="#6ea6ac" stroke-width="0.7"/>
<line x1="517.5" y1="85.42" x2="529.89" y2="73.06" stroke="#3f6f74" stroke-width="0.7"/>
<line x1="518.91" y1="86.87" x2="531.65" y2="74.87" stroke="#7fb3b8" stroke-width="0.7"/>
<line x1="522.67" y1="91.21" x2="536.36" y2="80.31" stroke="#5f979d" stroke-width="0.7"/>
<line x1="525.94" y1="95.67" x2="540.45" y2="85.89" stroke="#6ea6ac" stroke-width="0.7"/>
<line x1="495.03" y1="51.71" x2="500.25" y2="35.53" stroke="#4b8086" stroke-width="0.7"/>
<line x1="497.41" y1="52.51" x2="503.1" y2="36.49" stroke="#4b8086" stroke-width="0.7"/>
<line x1="501.57" y1="54.11" x2="508.07" y2="38.41" stroke="#3f6f74" stroke-width="0.7"/>
<line x1="504.99" y1="55.61" x2="512.16" y2="40.2" stroke="#5f979d" stroke-width="0.7"/>
<line x1="509.16" y1="57.69" x2="517.14" y2="42.68" stroke="#6ea6ac" stroke-width="0.7"/>
<line x1="512.65" y1="59.65" x2="521.32" y2="45.03" stroke="#6ea6ac" stroke-width="0.7"/>
<line x1="515.06" y1="61.13" x2="524.19" y2="46.8" stroke="#6ea6ac" stroke-width="0.7"/>
<line x1="517.2" y1="62.54" x2="526.76" y2="48.48" stroke="#7fb3b8" stroke-width="0.7"/>
<line x1="520.64" y1="65" x2="530.87" y2="51.42" stroke="#3f6f74" stroke-width="0.7"/>
<line x1="523.94" y1="67.62" x2="534.82" y2="54.55" stroke="#6ea6ac" stroke-width="0.7"/>
<line x1="525.87" y1="69.27" x2="537.11" y2="56.52" stroke="#3f6f74" stroke-width="0.7"/>
<line x1="528.17" y1="71.37" x2="539.86" y2="59.04" stroke="#3f6f74" stroke-width="0.7"/>
<line x1="529.89" y1="73.06" x2="541.93" y2="61.05" stroke="#5f979d" stroke-width="0.7"/>
<line x1="531.65" y1="74.87" x2="544.03" y2="63.22" stroke="#5f979d" stroke-width="0.7"/>
<line x1="533.64" y1="77.06" x2="546.41" y2="65.83" stroke="#4b8086" stroke-width="0.7"/>
<line x1="536.22" y1="80.14" x2="549.5" y2="69.51" stroke="#7fb3b8" stroke-width="0.7"/>
<line x1="539.05" y1="83.87" x2="552.87" y2="73.98" stroke="#5f979d" stroke-width="0.7"/>
<line x1="540.45" y1="85.89" x2="554.55" y2="76.39" stroke="#4b8086" stroke-width="0.7"/>
<line x1="501.36" y1="124.62" x2="518.12" y2="119.61" stroke="#4b8086" stroke-width="0.7"/>
<line x1="513.4" y1="108.62" x2="528.58" y2="99.91" stroke="#4b8086" stroke-width="0.7"/>
<line x1="517.46" y1="117.54" x2="534" y2="111.83" stroke="#4b8086" stroke-width="0.7"/>
<line x1="519.44" y1="125.1" x2="536.66" y2="121.94" stroke="#3f6f74" stroke-width="0.7"/>
<line x1="519.89" y1="127.95" x2="537.25" y2="125.74" stroke="#5f979d" stroke-width="0.7"/>
<line x1="527.02" y1="97.32" x2="541.8" y2="87.95" stroke="#3f6f74" stroke-width="0.7"/>
<line x1="528.17" y1="99.21" x2="543.25" y2="90.32" stroke="#7fb3b8" stroke-width="0.7"/>
<line x1="530.4" y1="103.28" x2="546.03" y2="95.42" stroke="#5f979d" stroke-width="0.7"/>
<line x1="532.16" y1="107.07" x2="548.24" y2="100.16" stroke="#5f979d" stroke-width="0.7"/>
<line x1="533.62" y1="110.77" x2="550.07" y2="104.8" stroke="#4b8086" stroke-width="0.7"/>
<line x1="535.76" y1="117.8" x2="552.75" y2="113.59" stroke="#5f979d" stroke-width="0.7"/>
<line x1="536.66" y1="121.94" x2="553.87" y2="118.78" stroke="#4b8086" stroke-width="0.7"/>
<line x1="537.03" y1="124.18" x2="554.33" y2="121.58" stroke="#5f979d" stroke-width="0.7"/>
<line x1="537.43" y1="127.32" x2="554.83" y2="125.51" stroke="#3f6f74" stroke-width="0.7"/>
<line x1="541.8" y1="87.95" x2="556.16" y2="78.86" stroke="#3f6f74" stroke-width="0.7"/>
<line x1="543.25" y1="90.32" x2="557.89" y2="81.68" stroke="#5f979d" stroke-width="0.7"/>
<line x1="546.03" y1="95.42" x2="561.22" y2="87.79" stroke="#6ea6ac" stroke-width="0.7"/>
<line x1="548.24" y1="100.16" x2="563.86" y2="93.45" stroke="#3f6f74" stroke-width="0.7"/>
<line x1="549.41" y1="103.04" x2="565.26" y2="96.9" stroke="#7fb3b8" stroke-width="0.7"/>
<line x1="550.69" y1="106.57" x2="566.79" y2="101.11" stroke="#4b8086" stroke-width="0.7"/>
<line x1="552.06" y1="110.98" x2="568.43" y2="106.38" stroke="#4b8086" stroke-width="0.7"/>
<line x1="552.74" y1="113.54" x2="569.24" y2="109.44" stroke="#4b8086" stroke-width="0.7"/>
<line x1="553.37" y1="116.29" x2="570" y2="112.73" stroke="#3f6f74" stroke-width="0.7"/>
<line x1="553.87" y1="118.78" x2="570.59" y2="115.7" stroke="#3f6f74" stroke-width="0.7"/>
<line x1="554.33" y1="121.58" x2="571.15" y2="119.05" stroke="#6ea6ac" stroke-width="0.7"/>
<line x1="554.67" y1="124.08" x2="571.55" y2="122.05" stroke="#3f6f74" stroke-width="0.7"/>
<line x1="554.97" y1="126.93" x2="571.91" y2="125.45" stroke="#7fb3b8" stroke-width="0.7"/>
<line x1="504.91" y1="131.97" x2="518" y2="131.39" stroke="#467f85" stroke-width="0.55"/>
<line x1="504.84" y1="137.97" x2="517.9" y2="138.93" stroke="#3a6c71" stroke-width="0.55"/>
<line x1="504.51" y1="140.48" x2="517.48" y2="142.35" stroke="#2f5a5e" stroke-width="0.55"/>
<line x1="503.98" y1="143.1" x2="516.71" y2="146.2" stroke="#70a8ae" stroke-width="0.55"/>
<line x1="432.87" y1="144.06" x2="420.24" y2="147.56" stroke="#467f85" stroke-width="0.55"/>
<line x1="431.67" y1="136.76" x2="418.59" y2="137.46" stroke="#70a8ae" stroke-width="0.55"/>
<line x1="431.63" y1="133.07" x2="418.54" y2="132.48" stroke="#2f5a5e" stroke-width="0.55"/>
<line x1="432.09" y1="128.52" x2="419.15" y2="126.47" stroke="#5a949a" stroke-width="0.55"/>
<line x1="432.72" y1="125.51" x2="419.98" y2="122.47" stroke="#70a8ae" stroke-width="0.55"/>
<line x1="433.31" y1="123.42" x2="420.88" y2="119.28" stroke="#3a6c71" stroke-width="0.55"/>
<line x1="434.82" y1="119.47" x2="422.84" y2="114.16" stroke="#5a949a" stroke-width="0.55"/>
<line x1="436" y1="117.07" x2="424.4" y2="110.99" stroke="#3a6c71" stroke-width="0.55"/>
<line x1="437.33" y1="114.81" x2="426.25" y2="107.82" stroke="#5a949a" stroke-width="0.55"/>
<line x1="438.19" y1="113.52" x2="427.45" y2="106.02" stroke="#3a6c71" stroke-width="0.55"/>
<line x1="442.35" y1="108.55" x2="433.14" y2="99.23" stroke="#70a8ae" stroke-width="0.55"/>
<line x1="444.56" y1="106.51" x2="436.27" y2="96.37" stroke="#467f85" stroke-width="0.55"/>
<line x1="448.74" y1="103.45" x2="441.64" y2="92.44" stroke="#3a6c71" stroke-width="0.55"/>
<line x1="451.47" y1="101.89" x2="445.6" y2="90.17" stroke="#2f5a5e" stroke-width="0.55"/>
<line x1="453.09" y1="101.1" x2="447.45" y2="89.27" stroke="#2f5a5e" stroke-width="0.55"/>
<line x1="483.24" y1="100.98" x2="488.48" y2="88.97" stroke="#5a949a" stroke-width="0.55"/>
<line x1="484.73" y1="101.68" x2="490.48" y2="89.91" stroke="#70a8ae" stroke-width="0.55"/>
<line x1="487.51" y1="103.23" x2="494.35" y2="92.06" stroke="#467f85" stroke-width="0.55"/>
<line x1="489.4" y1="104.47" x2="496.68" y2="93.58" stroke="#70a8ae" stroke-width="0.55"/>
<line x1="492.38" y1="106.81" x2="500.81" y2="96.77" stroke="#2f5a5e" stroke-width="0.55"/>
<line x1="498.82" y1="114.12" x2="509.87" y2="107.08" stroke="#3a6c71" stroke-width="0.55"/>
<line x1="501.92" y1="119.78" x2="513.8" y2="114.26" stroke="#467f85" stroke-width="0.55"/>
<line x1="504.36" y1="127.67" x2="517.2" y2="125.08" stroke="#2f5a5e" stroke-width="0.55"/>
<line x1="522.4" y1="131.27" x2="535.5" y2="130.86" stroke="#467f85" stroke-width="0.55"/>
<line x1="522.49" y1="133.23" x2="535.58" y2="133.05" stroke="#5a949a" stroke-width="0.55"/>
<line x1="522.19" y1="140.3" x2="535.22" y2="141.63" stroke="#5a949a" stroke-width="0.55"/>
<line x1="522.04" y1="141.54" x2="535" y2="143.48" stroke="#467f85" stroke-width="0.55"/>
<line x1="521.76" y1="143.41" x2="534.75" y2="145.13" stroke="#467f85" stroke-width="0.55"/>
<line x1="520.99" y1="147.22" x2="533.74" y2="150.19" stroke="#3a6c71" stroke-width="0.55"/>
<line x1="519.93" y1="151" x2="532.46" y2="154.83" stroke="#e0c080" stroke-width="0.55"/>
<line x1="519.35" y1="152.71" x2="531.69" y2="157.11" stroke="#d8b060" stroke-width="0.55"/>
<line x1="518.18" y1="155.7" x2="530.33" y2="160.61" stroke="#5c8e93" stroke-width="0.55"/>
<line x1="516.47" y1="159.35" x2="528.24" y2="165.1" stroke="#6d6262" stroke-width="0.55"/>
<line x1="515.77" y1="160.66" x2="527.4" y2="166.7" stroke="#6d6262" stroke-width="0.55"/>
<line x1="514.86" y1="162.25" x2="526" y2="169.14" stroke="#6d6262" stroke-width="0.55"/>
<line x1="514.22" y1="163.29" x2="525.3" y2="170.28" stroke="#5c8e93" stroke-width="0.55"/>
<line x1="512" y1="166.57" x2="522.42" y2="174.5" stroke="#bdbdbd" stroke-width="0.55"/>
<line x1="507.33" y1="172.11" x2="516.8" y2="181.16" stroke="#3f3f3f" stroke-width="0.55"/>
<line x1="503.42" y1="175.78" x2="512.16" y2="185.54" stroke="#e0c080" stroke-width="0.55"/>
<line x1="497.69" y1="180.04" x2="504.65" y2="191.14" stroke="#5c8e93" stroke-width="0.55"/>
<line x1="491.58" y1="183.45" x2="497.45" y2="195.16" stroke="#d8b060" stroke-width="0.55"/>
<line x1="488.26" y1="184.89" x2="493.01" y2="197.1" stroke="#d8b060" stroke-width="0.55"/>
<line x1="474.28" y1="188.37" x2="475.39" y2="201.43" stroke="#5c8e93" stroke-width="0.55"/>
<line x1="468.38" y1="188.7" x2="468.17" y2="201.8" stroke="#ffffff" stroke-width="0.55"/>
<line x1="466.99" y1="188.68" x2="467.05" y2="201.79" stroke="#6d6262" stroke-width="0.55"/>
<line x1="465.65" y1="188.64" x2="464.76" y2="201.71" stroke="#c9858a" stroke-width="0.55"/>
<line x1="448.23" y1="184.85" x2="443.18" y2="196.94" stroke="#ffffff" stroke-width="0.55"/>
<line x1="444.81" y1="183.34" x2="439.22" y2="195.2" stroke="#3f3f3f" stroke-width="0.55"/>
<line x1="436.62" y1="178.48" x2="428.84" y2="189.02" stroke="#5c8e93" stroke-width="0.55"/>
<line x1="434.36" y1="176.76" x2="425.95" y2="186.8" stroke="#bdbdbd" stroke-width="0.55"/>
<line x1="422.22" y1="163.03" x2="410.98" y2="169.76" stroke="#6d6262" stroke-width="0.55"/>
<line x1="420.27" y1="159.61" x2="408.71" y2="165.78" stroke="#bdbdbd" stroke-width="0.55"/>
<line x1="418.24" y1="155.29" x2="406.23" y2="160.52" stroke="#d8b060" stroke-width="0.55"/>
<line x1="416.98" y1="151.94" x2="404.72" y2="156.57" stroke="#5c8e93" stroke-width="0.55"/>
<line x1="416.3" y1="149.79" x2="403.7" y2="153.38" stroke="#ffffff" stroke-width="0.55"/>
<line x1="415.57" y1="147.06" x2="402.84" y2="150.14" stroke="#3a6c71" stroke-width="0.55"/>
<line x1="415.19" y1="145.34" x2="402.36" y2="147.95" stroke="#70a8ae" stroke-width="0.55"/>
<line x1="414.79" y1="143.09" x2="401.92" y2="145.61" stroke="#5c8e93" stroke-width="0.55"/>
<line x1="414.56" y1="141.56" x2="401.61" y2="143.53" stroke="#6d6262" stroke-width="0.55"/>
<line x1="414.29" y1="139.07" x2="401.28" y2="140.64" stroke="#5a949a" stroke-width="0.55"/>
<line x1="414.2" y1="137.75" x2="401.12" y2="138.49" stroke="#5a949a" stroke-width="0.55"/>
<line x1="414.11" y1="135.61" x2="401.01" y2="135.69" stroke="#70a8ae" stroke-width="0.55"/>
<line x1="414.12" y1="132.89" x2="401.02" y2="132.77" stroke="#c89840" stroke-width="0.55"/>
<line x1="414.26" y1="130.38" x2="401.22" y2="129.08" stroke="#467f85" stroke-width="0.55"/>
<line x1="414.38" y1="128.97" x2="401.38" y2="127.35" stroke="#70a8ae" stroke-width="0.55"/>
<line x1="414.6" y1="127.15" x2="401.65" y2="125.15" stroke="#5a949a" stroke-width="0.55"/>
<line x1="414.9" y1="125.25" x2="401.97" y2="123.14" stroke="#2f5a5e" stroke-width="0.55"/>
<line x1="415.16" y1="123.82" x2="402.25" y2="121.59" stroke="#5a949a" stroke-width="0.55"/>
<line x1="415.75" y1="121.23" x2="403.14" y2="117.67" stroke="#70a8ae" stroke-width="0.55"/>
<line x1="415.97" y1="120.4" x2="403.38" y2="116.75" stroke="#3a6c71" stroke-width="0.55"/>
<line x1="416.44" y1="118.75" x2="403.88" y2="115.03" stroke="#3a6c71" stroke-width="0.55"/>
<line x1="416.99" y1="117.04" x2="404.59" y2="112.81" stroke="#2f5a5e" stroke-width="0.55"/>
<line x1="417.73" y1="115.01" x2="405.42" y2="110.51" stroke="#2f5a5e" stroke-width="0.55"/>
<line x1="418.52" y1="113.06" x2="406.62" y2="107.57" stroke="#467f85" stroke-width="0.55"/>
<line x1="419.33" y1="111.27" x2="407.52" y2="105.6" stroke="#3a6c71" stroke-width="0.55"/>
<line x1="420.03" y1="109.86" x2="408.46" y2="103.7" stroke="#70a8ae" stroke-width="0.55"/>
<line x1="420.95" y1="108.12" x2="409.45" y2="101.85" stroke="#2f5a5e" stroke-width="0.55"/>
<line x1="421.57" y1="107.04" x2="410.5" y2="100.02" stroke="#3a6c71" stroke-width="0.55"/>
<line x1="422.67" y1="105.25" x2="411.88" y2="97.8" stroke="#467f85" stroke-width="0.55"/>
<line x1="423.47" y1="104.04" x2="412.51" y2="96.87" stroke="#2f5a5e" stroke-width="0.55"/>
<line x1="424.59" y1="102.46" x2="414.29" y2="94.34" stroke="#5a949a" stroke-width="0.55"/>
<line x1="425.51" y1="101.23" x2="415.38" y2="92.92" stroke="#467f85" stroke-width="0.55"/>
<line x1="426.72" y1="99.73" x2="416.97" y2="90.97" stroke="#5a949a" stroke-width="0.55"/>
<line x1="427.98" y1="98.28" x2="418.44" y2="89.29" stroke="#3a6c71" stroke-width="0.55"/>
<line x1="430.49" y1="95.67" x2="421.45" y2="86.19" stroke="#467f85" stroke-width="0.55"/>
<line x1="431.76" y1="94.47" x2="423.11" y2="84.63" stroke="#5a949a" stroke-width="0.55"/>
<line x1="433.1" y1="93.29" x2="424.62" y2="83.3" stroke="#467f85" stroke-width="0.55"/>
<line x1="434.52" y1="92.11" x2="426.4" y2="81.83" stroke="#70a8ae" stroke-width="0.55"/>
<line x1="436.32" y1="90.74" x2="428.33" y2="80.36" stroke="#5a949a" stroke-width="0.55"/>
<line x1="437.25" y1="90.08" x2="429.57" y2="79.46" stroke="#3a6c71" stroke-width="0.55"/>
<line x1="438.74" y1="89.07" x2="431.58" y2="78.1" stroke="#70a8ae" stroke-width="0.55"/>
<line x1="440.51" y1="87.97" x2="433.51" y2="76.89" stroke="#5a949a" stroke-width="0.55"/>
<line x1="442.38" y1="86.9" x2="435.77" y2="75.58" stroke="#467f85" stroke-width="0.55"/>
<line x1="443.44" y1="86.34" x2="437.67" y2="74.57" stroke="#3a6c71" stroke-width="0.55"/>
<line x1="445.19" y1="85.47" x2="439.86" y2="73.5" stroke="#3a6c71" stroke-width="0.55"/>
<line x1="446.9" y1="84.71" x2="441.82" y2="72.63" stroke="#5a949a" stroke-width="0.55"/>
<line x1="448.25" y1="84.15" x2="443.22" y2="72.05" stroke="#467f85" stroke-width="0.55"/>
<line x1="450.68" y1="83.25" x2="446.71" y2="70.76" stroke="#6d6262" stroke-width="0.55"/>
<line x1="454.88" y1="81.99" x2="451.87" y2="69.24" stroke="#bdbdbd" stroke-width="0.55"/>
<line x1="456.61" y1="81.58" x2="454.14" y2="68.71" stroke="#c9858a" stroke-width="0.55"/>
<line x1="460.63" y1="80.85" x2="459.05" y2="67.84" stroke="#e0c080" stroke-width="0.55"/>
<line x1="462.27" y1="80.64" x2="461.12" y2="67.58" stroke="#c9858a" stroke-width="0.55"/>
<line x1="464.63" y1="80.42" x2="464.06" y2="67.33" stroke="#ffffff" stroke-width="0.55"/>
<line x1="465.68" y1="80.36" x2="464.6" y2="67.3" stroke="#d8b060" stroke-width="0.55"/>
<line x1="467.45" y1="80.31" x2="467.12" y2="67.21" stroke="#bdbdbd" stroke-width="0.55"/>
<line x1="469.87" y1="80.32" x2="470.38" y2="67.23" stroke="#3f3f3f" stroke-width="0.55"/>
<line x1="473.28" y1="80.53" x2="474.26" y2="67.46" stroke="#5c8e93" stroke-width="0.55"/>
<line x1="475.15" y1="80.74" x2="477.04" y2="67.77" stroke="#bdbdbd" stroke-width="0.55"/>
<line x1="476.86" y1="80.98" x2="478.57" y2="67.99" stroke="#d8b060" stroke-width="0.55"/>
<line x1="478.3" y1="81.23" x2="480.28" y2="68.27" stroke="#ffffff" stroke-width="0.55"/>
<line x1="480.19" y1="81.62" x2="482.91" y2="68.8" stroke="#5a949a" stroke-width="0.55"/>
<line x1="482.29" y1="82.14" x2="485.23" y2="69.36" stroke="#467f85" stroke-width="0.55"/>
<line x1="483.48" y1="82.47" x2="486.79" y2="69.79" stroke="#70a8ae" stroke-width="0.55"/>
<line x1="485.3" y1="83.03" x2="489.16" y2="70.51" stroke="#3a6c71" stroke-width="0.55"/>
<line x1="487.34" y1="83.76" x2="492.22" y2="71.6" stroke="#5a949a" stroke-width="0.55"/>
<line x1="488.91" y1="84.37" x2="493.74" y2="72.19" stroke="#467f85" stroke-width="0.55"/>
<line x1="490.65" y1="85.12" x2="495.64" y2="73" stroke="#2f5a5e" stroke-width="0.55"/>
<line x1="492.14" y1="85.82" x2="498.02" y2="74.12" stroke="#467f85" stroke-width="0.55"/>
<line x1="493.72" y1="86.63" x2="499.81" y2="75.03" stroke="#2f5a5e" stroke-width="0.55"/>
<line x1="495.3" y1="87.5" x2="501.88" y2="76.17" stroke="#5a949a" stroke-width="0.55"/>
<line x1="496.37" y1="88.13" x2="503.35" y2="77.05" stroke="#3a6c71" stroke-width="0.55"/>
<line x1="498.38" y1="89.41" x2="505.55" y2="78.45" stroke="#467f85" stroke-width="0.55"/>
<line x1="499.6" y1="90.25" x2="506.81" y2="79.31" stroke="#5a949a" stroke-width="0.55"/>
<line x1="501.17" y1="91.41" x2="508.96" y2="80.87" stroke="#5a949a" stroke-width="0.55"/>
<line x1="502.63" y1="92.56" x2="510.68" y2="82.22" stroke="#3a6c71" stroke-width="0.55"/>
<line x1="503.79" y1="93.53" x2="512.45" y2="83.71" stroke="#467f85" stroke-width="0.55"/>
<line x1="505.44" y1="95.03" x2="514.35" y2="85.42" stroke="#467f85" stroke-width="0.55"/>
<line x1="506.74" y1="96.29" x2="515.77" y2="86.8" stroke="#467f85" stroke-width="0.55"/>
<line x1="508.05" y1="97.65" x2="517.93" y2="89.05" stroke="#5a949a" stroke-width="0.55"/>
<line x1="509.21" y1="98.95" x2="519.4" y2="90.71" stroke="#5a949a" stroke-width="0.55"/>
<line x1="511.18" y1="101.34" x2="521.45" y2="93.22" stroke="#467f85" stroke-width="0.55"/>
<line x1="512.37" y1="102.95" x2="522.85" y2="95.09" stroke="#70a8ae" stroke-width="0.55"/>
<line x1="513.64" y1="104.8" x2="524.4" y2="97.32" stroke="#3a6c71" stroke-width="0.55"/>
<line x1="514.5" y1="106.16" x2="525.54" y2="99.1" stroke="#3a6c71" stroke-width="0.55"/>
<line x1="515.45" y1="107.77" x2="526.87" y2="101.34" stroke="#5a949a" stroke-width="0.55"/>
<line x1="516.28" y1="109.28" x2="527.81" y2="103.08" stroke="#5a949a" stroke-width="0.55"/>
<line x1="516.87" y1="110.44" x2="528.79" y2="105" stroke="#467f85" stroke-width="0.55"/>
<line x1="518.29" y1="113.55" x2="530.49" y2="108.79" stroke="#5a949a" stroke-width="0.55"/>
<line x1="519.06" y1="115.5" x2="531.19" y2="110.54" stroke="#2f5a5e" stroke-width="0.55"/>
<line x1="519.57" y1="116.92" x2="532.08" y2="113.01" stroke="#2f5a5e" stroke-width="0.55"/>
<line x1="520.36" y1="119.41" x2="533.07" y2="116.22" stroke="#3a6c71" stroke-width="0.55"/>
<line x1="520.57" y1="120.15" x2="533.15" y2="116.52" stroke="#2f5a5e" stroke-width="0.55"/>
<line x1="521.24" y1="122.86" x2="533.97" y2="119.78" stroke="#467f85" stroke-width="0.55"/>
<line x1="521.44" y1="123.81" x2="534.31" y2="121.41" stroke="#3a6c71" stroke-width="0.55"/>
<line x1="521.74" y1="125.43" x2="534.61" y2="123.01" stroke="#70a8ae" stroke-width="0.55"/>
<line x1="522.08" y1="127.8" x2="535.05" y2="125.9" stroke="#5a949a" stroke-width="0.55"/>
<line x1="522.28" y1="129.67" x2="535.32" y2="128.38" stroke="#70a8ae" stroke-width="0.55"/>
<line x1="539.88" y1="130.35" x2="552.93" y2="129.08" stroke="#70a8ae" stroke-width="0.55"/>
<line x1="539.95" y1="131.8" x2="553.04" y2="131.2" stroke="#3a6c71" stroke-width="0.55"/>
<line x1="539.99" y1="133.32" x2="553.08" y2="132.62" stroke="#5a949a" stroke-width="0.55"/>
<line x1="539.99" y1="135.79" x2="553.08" y2="136.12" stroke="#70a8ae" stroke-width="0.55"/>
<line x1="539.96" y1="136.98" x2="553.03" y2="137.97" stroke="#5a949a" stroke-width="0.55"/>
<line x1="539.83" y1="139.43" x2="552.86" y2="140.84" stroke="#3a6c71" stroke-width="0.55"/>
<line x1="539.73" y1="140.74" x2="552.81" y2="141.55" stroke="#2f5a5e" stroke-width="0.55"/>
<line x1="539.56" y1="142.42" x2="552.61" y2="143.61" stroke="#3a6c71" stroke-width="0.55"/>
<line x1="539.24" y1="144.89" x2="552.18" y2="146.98" stroke="#5a949a" stroke-width="0.55"/>
<line x1="538.95" y1="146.72" x2="551.88" y2="148.86" stroke="#467f85" stroke-width="0.55"/>
<line x1="538.63" y1="148.45" x2="551.51" y2="150.87" stroke="#70a8ae" stroke-width="0.55"/>
<line x1="538.31" y1="149.98" x2="551.01" y2="153.21" stroke="#5a949a" stroke-width="0.55"/>
<line x1="537.95" y1="151.51" x2="550.69" y2="154.57" stroke="#467f85" stroke-width="0.55"/>
<line x1="537.5" y1="153.27" x2="550.18" y2="156.56" stroke="#2f5a5e" stroke-width="0.55"/>
<line x1="536.83" y1="155.57" x2="549.18" y2="159.98" stroke="#6d6262" stroke-width="0.55"/>
<line x1="536.24" y1="157.4" x2="548.82" y2="161.11" stroke="#d8b060" stroke-width="0.55"/>
<line x1="535.71" y1="158.93" x2="547.96" y2="163.58" stroke="#6d6262" stroke-width="0.55"/>
<line x1="534.86" y1="161.17" x2="546.8" y2="166.58" stroke="#ffffff" stroke-width="0.55"/>
<line x1="534.38" y1="162.32" x2="546.44" y2="167.45" stroke="#c9858a" stroke-width="0.55"/>
<line x1="532.86" y1="165.7" x2="544.57" y2="171.57" stroke="#5c8e93" stroke-width="0.55"/>
<line x1="532.01" y1="167.4" x2="543.65" y2="173.41" stroke="#d8b060" stroke-width="0.55"/>
<line x1="529.03" y1="172.61" x2="539.95" y2="179.86" stroke="#bdbdbd" stroke-width="0.55"/>
<line x1="528.21" y1="173.89" x2="539.18" y2="181.06" stroke="#c9858a" stroke-width="0.55"/>
<line x1="527.33" y1="175.2" x2="538.2" y2="182.51" stroke="#3f3f3f" stroke-width="0.55"/>
<line x1="525.93" y1="177.16" x2="536.8" y2="184.49" stroke="#3f3f3f" stroke-width="0.55"/>
<line x1="525.18" y1="178.16" x2="535.23" y2="186.58" stroke="#c9858a" stroke-width="0.55"/>
<line x1="524.12" y1="179.5" x2="534.59" y2="187.38" stroke="#5c8e93" stroke-width="0.55"/>
<line x1="521.58" y1="182.48" x2="531.1" y2="191.49" stroke="#5c8e93" stroke-width="0.55"/>
<line x1="520.27" y1="183.89" x2="529.37" y2="193.34" stroke="#e0c080" stroke-width="0.55"/>
<line x1="518.03" y1="186.15" x2="526.86" y2="195.84" stroke="#d8b060" stroke-width="0.55"/>
<line x1="516.69" y1="187.41" x2="525.81" y2="196.82" stroke="#c9858a" stroke-width="0.55"/>
<line x1="513.9" y1="189.83" x2="522.02" y2="200.11" stroke="#ffffff" stroke-width="0.55"/>
<line x1="512.47" y1="190.98" x2="520.98" y2="200.95" stroke="#c9858a" stroke-width="0.55"/>
<line x1="510.71" y1="192.32" x2="518.41" y2="202.91" stroke="#6d6262" stroke-width="0.55"/>
<line x1="509.3" y1="193.32" x2="517.07" y2="203.87" stroke="#c9858a" stroke-width="0.55"/>
<line x1="507.53" y1="194.51" x2="514.31" y2="205.73" stroke="#5c8e93" stroke-width="0.55"/>
<line x1="505.99" y1="195.5" x2="512.42" y2="206.92" stroke="#c9858a" stroke-width="0.55"/>
<line x1="504.66" y1="196.3" x2="511.05" y2="207.73" stroke="#bdbdbd" stroke-width="0.55"/>
<line x1="501.05" y1="198.28" x2="506.88" y2="210.02" stroke="#3f3f3f" stroke-width="0.55"/>
<line x1="496.32" y1="200.5" x2="501.55" y2="212.51" stroke="#5c8e93" stroke-width="0.55"/>
<line x1="494.47" y1="201.25" x2="499.76" y2="213.25" stroke="#3f3f3f" stroke-width="0.55"/>
<line x1="492.94" y1="201.83" x2="497.17" y2="214.23" stroke="#e0c080" stroke-width="0.55"/>
<line x1="490.95" y1="202.53" x2="494.98" y2="214.99" stroke="#c9858a" stroke-width="0.55"/>
<line x1="489.96" y1="202.85" x2="493.4" y2="215.5" stroke="#3f3f3f" stroke-width="0.55"/>
<line x1="487.19" y1="203.67" x2="490.25" y2="216.41" stroke="#5c8e93" stroke-width="0.55"/>
<line x1="485.79" y1="204.03" x2="489.19" y2="216.69" stroke="#e0c080" stroke-width="0.55"/>
<line x1="484.53" y1="204.34" x2="487.67" y2="217.06" stroke="#c9858a" stroke-width="0.55"/>
<line x1="482.63" y1="204.75" x2="484.89" y2="217.66" stroke="#ffffff" stroke-width="0.55"/>
<line x1="480.35" y1="205.18" x2="483.03" y2="218.01" stroke="#c9858a" stroke-width="0.55"/>
<line x1="479.15" y1="205.37" x2="480.74" y2="218.38" stroke="#3f3f3f" stroke-width="0.55"/>
<line x1="477.38" y1="205.62" x2="479.45" y2="218.56" stroke="#bdbdbd" stroke-width="0.55"/>
<line x1="471.24" y1="206.14" x2="471.27" y2="219.25" stroke="#6d6262" stroke-width="0.55"/>
<line x1="469.41" y1="206.19" x2="469.95" y2="219.28" stroke="#6d6262" stroke-width="0.55"/>
<line x1="467.34" y1="206.19" x2="467.36" y2="219.29" stroke="#c9858a" stroke-width="0.55"/>
<line x1="463.82" y1="206.06" x2="462.7" y2="219.11" stroke="#ffffff" stroke-width="0.55"/>
<line x1="461.86" y1="205.91" x2="460.21" y2="218.91" stroke="#c9858a" stroke-width="0.55"/>
<line x1="459.99" y1="205.72" x2="458.64" y2="218.75" stroke="#c9858a" stroke-width="0.55"/>
<line x1="458.31" y1="205.5" x2="456.26" y2="218.44" stroke="#c9858a" stroke-width="0.55"/>
<line x1="456.26" y1="205.18" x2="454.15" y2="218.11" stroke="#d8b060" stroke-width="0.55"/>
<line x1="454.54" y1="204.87" x2="451.59" y2="217.64" stroke="#e0c080" stroke-width="0.55"/>
<line x1="453.2" y1="204.59" x2="449.95" y2="217.29" stroke="#5c8e93" stroke-width="0.55"/>
<line x1="451.12" y1="204.11" x2="447.99" y2="216.83" stroke="#ffffff" stroke-width="0.55"/>
<line x1="449.52" y1="203.7" x2="446.03" y2="216.32" stroke="#d8b060" stroke-width="0.55"/>
<line x1="447.47" y1="203.11" x2="444.22" y2="215.81" stroke="#d8b060" stroke-width="0.55"/>
<line x1="445.85" y1="202.59" x2="441.41" y2="214.92" stroke="#ffffff" stroke-width="0.55"/>
<line x1="444.32" y1="202.07" x2="439.98" y2="214.43" stroke="#d8b060" stroke-width="0.55"/>
<line x1="442.56" y1="201.42" x2="438.05" y2="213.72" stroke="#e0c080" stroke-width="0.55"/>
<line x1="441.11" y1="200.84" x2="435.89" y2="212.86" stroke="#6d6262" stroke-width="0.55"/>
<line x1="437.15" y1="199.08" x2="431.23" y2="210.77" stroke="#ffffff" stroke-width="0.55"/>
<line x1="434.51" y1="197.74" x2="428.3" y2="209.27" stroke="#ffffff" stroke-width="0.55"/>
<line x1="432.6" y1="196.68" x2="425.82" y2="207.89" stroke="#c9858a" stroke-width="0.55"/>
<line x1="430.84" y1="195.64" x2="424.35" y2="207.02" stroke="#3f3f3f" stroke-width="0.55"/>
<line x1="429.39" y1="194.72" x2="422.44" y2="205.83" stroke="#d8b060" stroke-width="0.55"/>
<line x1="427.97" y1="193.78" x2="420.74" y2="204.71" stroke="#bdbdbd" stroke-width="0.55"/>
<line x1="426.77" y1="192.95" x2="419.46" y2="203.82" stroke="#5c8e93" stroke-width="0.55"/>
<line x1="424.62" y1="191.36" x2="416.78" y2="201.86" stroke="#d8b060" stroke-width="0.55"/>
<line x1="423.26" y1="190.28" x2="414.66" y2="200.18" stroke="#3f3f3f" stroke-width="0.55"/>
<line x1="421.9" y1="189.17" x2="413.02" y2="198.81" stroke="#bdbdbd" stroke-width="0.55"/>
<line x1="420.58" y1="188.02" x2="411.44" y2="197.41" stroke="#c9858a" stroke-width="0.55"/>
<line x1="417.96" y1="185.56" x2="408.94" y2="195.06" stroke="#bdbdbd" stroke-width="0.55"/>
<line x1="416.65" y1="184.23" x2="407.56" y2="193.68" stroke="#6d6262" stroke-width="0.55"/>
<line x1="415.6" y1="183.11" x2="405.96" y2="191.99" stroke="#ffffff" stroke-width="0.55"/>
<line x1="414.46" y1="181.85" x2="404.34" y2="190.18" stroke="#c9858a" stroke-width="0.55"/>
<line x1="412.99" y1="180.13" x2="402.86" y2="188.43" stroke="#bdbdbd" stroke-width="0.55"/>
<line x1="412" y1="178.9" x2="401.51" y2="186.75" stroke="#5c8e93" stroke-width="0.55"/>
<line x1="410.77" y1="177.29" x2="400.36" y2="185.25" stroke="#5c8e93" stroke-width="0.55"/>
<line x1="409.39" y1="175.38" x2="398.59" y2="182.78" stroke="#3f3f3f" stroke-width="0.55"/>
<line x1="407.61" y1="172.67" x2="396.25" y2="179.22" stroke="#c9858a" stroke-width="0.55"/>
<line x1="405.52" y1="169.14" x2="394.23" y2="175.79" stroke="#3f3f3f" stroke-width="0.55"/>
<line x1="404.98" y1="168.13" x2="393.65" y2="174.73" stroke="#c9858a" stroke-width="0.55"/>
<line x1="404.22" y1="166.66" x2="392.7" y2="172.92" stroke="#c9858a" stroke-width="0.55"/>
<line x1="403.28" y1="164.71" x2="391.6" y2="170.68" stroke="#3f3f3f" stroke-width="0.55"/>
<line x1="402.45" y1="162.86" x2="390.24" y2="167.62" stroke="#c9858a" stroke-width="0.55"/>
<line x1="401.82" y1="161.36" x2="389.86" y2="166.73" stroke="#e0c080" stroke-width="0.55"/>
<line x1="401.31" y1="160.05" x2="388.9" y2="164.27" stroke="#c9858a" stroke-width="0.55"/>
<line x1="400.63" y1="158.21" x2="388.33" y2="162.72" stroke="#bdbdbd" stroke-width="0.55"/>
<line x1="399.78" y1="155.62" x2="387.11" y2="158.97" stroke="#d8b060" stroke-width="0.55"/>
<line x1="399.29" y1="153.94" x2="386.83" y2="158.04" stroke="#3a6c71" stroke-width="0.55"/>
<line x1="398.83" y1="152.23" x2="386.11" y2="155.39" stroke="#5a949a" stroke-width="0.55"/>
<line x1="398.52" y1="150.96" x2="385.69" y2="153.66" stroke="#467f85" stroke-width="0.55"/>
<line x1="397.8" y1="147.58" x2="384.83" y2="149.44" stroke="#6d6262" stroke-width="0.55"/>
<line x1="397.44" y1="145.44" x2="384.55" y2="147.81" stroke="#c9858a" stroke-width="0.55"/>
<line x1="396.93" y1="141.38" x2="383.85" y2="142.24" stroke="#3a6c71" stroke-width="0.55"/>
<line x1="396.81" y1="140.03" x2="383.76" y2="141.17" stroke="#467f85" stroke-width="0.55"/>
<line x1="396.7" y1="138.3" x2="383.62" y2="138.96" stroke="#70a8ae" stroke-width="0.55"/>
<line x1="396.62" y1="136.17" x2="383.52" y2="136.3" stroke="#3a6c71" stroke-width="0.55"/>
<line x1="396.6" y1="134.71" x2="383.5" y2="135.05" stroke="#c89840" stroke-width="0.55"/>
<line x1="396.62" y1="132.83" x2="383.52" y2="132.89" stroke="#c89840" stroke-width="0.55"/>
<line x1="396.71" y1="130.58" x2="383.63" y2="129.77" stroke="#5a949a" stroke-width="0.55"/>
<line x1="396.8" y1="129.19" x2="383.72" y2="128.46" stroke="#70a8ae" stroke-width="0.55"/>
<line x1="397.02" y1="126.75" x2="383.94" y2="125.89" stroke="#467f85" stroke-width="0.55"/>
<line x1="397.51" y1="123.08" x2="384.53" y2="121.33" stroke="#3a6c71" stroke-width="0.55"/>
<line x1="397.79" y1="121.49" x2="384.94" y2="118.92" stroke="#5a949a" stroke-width="0.55"/>
<line x1="398.23" y1="119.31" x2="385.4" y2="116.66" stroke="#467f85" stroke-width="0.55"/>
<line x1="398.51" y1="118.05" x2="385.69" y2="115.35" stroke="#467f85" stroke-width="0.55"/>
<line x1="398.95" y1="116.3" x2="386.3" y2="112.87" stroke="#2f5a5e" stroke-width="0.55"/>
<line x1="399.34" y1="114.86" x2="386.88" y2="110.8" stroke="#5a949a" stroke-width="0.55"/>
<line x1="400.01" y1="112.65" x2="387.38" y2="109.14" stroke="#467f85" stroke-width="0.55"/>
<line x1="400.47" y1="111.27" x2="388.22" y2="106.61" stroke="#467f85" stroke-width="0.55"/>
<line x1="401.39" y1="108.73" x2="389.35" y2="103.54" stroke="#467f85" stroke-width="0.55"/>
<line x1="402.02" y1="107.15" x2="389.71" y2="102.66" stroke="#467f85" stroke-width="0.55"/>
<line x1="402.45" y1="106.14" x2="390.6" y2="100.54" stroke="#2f5a5e" stroke-width="0.55"/>
<line x1="403.55" y1="103.71" x2="391.65" y2="98.22" stroke="#2f5a5e" stroke-width="0.55"/>
<line x1="403.98" y1="102.81" x2="392.46" y2="96.56" stroke="#5a949a" stroke-width="0.55"/>
<line x1="405.26" y1="100.33" x2="393.85" y2="93.91" stroke="#5a949a" stroke-width="0.55"/>
<line x1="405.79" y1="99.38" x2="394.15" y2="93.35" stroke="#5a949a" stroke-width="0.55"/>
<line x1="406.84" y1="97.58" x2="395.57" y2="90.89" stroke="#5a949a" stroke-width="0.55"/>
<line x1="410.11" y1="92.61" x2="399.78" y2="84.54" stroke="#2f5a5e" stroke-width="0.55"/>
<line x1="410.93" y1="91.5" x2="400.32" y2="83.8" stroke="#5a949a" stroke-width="0.55"/>
<line x1="411.78" y1="90.39" x2="401.74" y2="81.96" stroke="#5a949a" stroke-width="0.55"/>
<line x1="413.18" y1="88.65" x2="403.37" y2="79.96" stroke="#3a6c71" stroke-width="0.55"/>
<line x1="414.06" y1="87.6" x2="404.13" y2="79.06" stroke="#2f5a5e" stroke-width="0.55"/>
<line x1="415.27" y1="86.24" x2="405.51" y2="77.51" stroke="#5a949a" stroke-width="0.55"/>
<line x1="418.11" y1="83.29" x2="409.34" y2="73.55" stroke="#5a949a" stroke-width="0.55"/>
<line x1="419.3" y1="82.16" x2="410.34" y2="72.6" stroke="#2f5a5e" stroke-width="0.55"/>
<line x1="422.15" y1="79.63" x2="414.15" y2="69.24" stroke="#70a8ae" stroke-width="0.55"/>
<line x1="423.5" y1="78.52" x2="415.2" y2="68.39" stroke="#3a6c71" stroke-width="0.55"/>
<line x1="424.94" y1="77.39" x2="416.71" y2="67.2" stroke="#467f85" stroke-width="0.55"/>
<line x1="426.99" y1="75.9" x2="419.36" y2="65.25" stroke="#5a949a" stroke-width="0.55"/>
<line x1="428.23" y1="75.04" x2="421.36" y2="63.88" stroke="#3a6c71" stroke-width="0.55"/>
<line x1="429.44" y1="74.24" x2="422.7" y2="63.01" stroke="#2f5a5e" stroke-width="0.55"/>
<line x1="430.94" y1="73.31" x2="424.6" y2="61.83" stroke="#70a8ae" stroke-width="0.55"/>
<line x1="433.09" y1="72.04" x2="426.47" y2="60.73" stroke="#5a949a" stroke-width="0.55"/>
<line x1="434.53" y1="71.25" x2="428.83" y2="59.45" stroke="#70a8ae" stroke-width="0.55"/>
<line x1="436.22" y1="70.38" x2="429.83" y2="58.93" stroke="#3a6c71" stroke-width="0.55"/>
<line x1="437.79" y1="69.61" x2="432.67" y2="57.55" stroke="#5a949a" stroke-width="0.55"/>
<line x1="439.56" y1="68.81" x2="434.49" y2="56.73" stroke="#3a6c71" stroke-width="0.55"/>
<line x1="440.86" y1="68.26" x2="436" y2="56.09" stroke="#3a6c71" stroke-width="0.55"/>
<line x1="442.35" y1="67.66" x2="437.77" y2="55.39" stroke="#5a949a" stroke-width="0.55"/>
<line x1="444.68" y1="66.8" x2="440.12" y2="54.52" stroke="#e0c080" stroke-width="0.55"/>
<line x1="445.81" y1="66.42" x2="441.19" y2="54.15" stroke="#ffffff" stroke-width="0.55"/>
<line x1="448.35" y1="65.63" x2="445.17" y2="52.92" stroke="#c9858a" stroke-width="0.55"/>
<line x1="449.73" y1="65.25" x2="446.85" y2="52.46" stroke="#e0c080" stroke-width="0.55"/>
<line x1="451.98" y1="64.68" x2="448.78" y2="51.98" stroke="#3f3f3f" stroke-width="0.55"/>
<line x1="453.84" y1="64.27" x2="451.42" y2="51.4" stroke="#e0c080" stroke-width="0.55"/>
<line x1="455.52" y1="63.95" x2="453.67" y2="50.97" stroke="#5c8e93" stroke-width="0.55"/>
<line x1="457.32" y1="63.65" x2="455.68" y2="50.64" stroke="#d8b060" stroke-width="0.55"/>
<line x1="458.4" y1="63.49" x2="456.84" y2="50.48" stroke="#6d6262" stroke-width="0.55"/>
<line x1="462.49" y1="63.04" x2="461.77" y2="49.95" stroke="#ffffff" stroke-width="0.55"/>
<line x1="464.78" y1="62.89" x2="463.63" y2="49.83" stroke="#d8b060" stroke-width="0.55"/>
<line x1="465.71" y1="62.85" x2="465.68" y2="49.74" stroke="#bdbdbd" stroke-width="0.55"/>
<line x1="467.71" y1="62.8" x2="467.93" y2="49.7" stroke="#bdbdbd" stroke-width="0.55"/>
<line x1="470.36" y1="62.83" x2="470.29" y2="49.72" stroke="#6d6262" stroke-width="0.55"/>
<line x1="471.59" y1="62.88" x2="472.07" y2="49.78" stroke="#6d6262" stroke-width="0.55"/>
<line x1="473.57" y1="62.99" x2="474.7" y2="49.94" stroke="#e0c080" stroke-width="0.55"/>
<line x1="475.03" y1="63.12" x2="475.71" y2="50.02" stroke="#d8b060" stroke-width="0.55"/>
<line x1="477.15" y1="63.35" x2="478.46" y2="50.31" stroke="#c9858a" stroke-width="0.55"/>
<line x1="479.19" y1="63.63" x2="480.96" y2="50.65" stroke="#bdbdbd" stroke-width="0.55"/>
<line x1="482.35" y1="64.19" x2="484.45" y2="51.25" stroke="#3f3f3f" stroke-width="0.55"/>
<line x1="484.85" y1="64.74" x2="487.64" y2="51.93" stroke="#5a949a" stroke-width="0.55"/>
<line x1="486.31" y1="65.1" x2="489.91" y2="52.5" stroke="#70a8ae" stroke-width="0.55"/>
<line x1="487.54" y1="65.43" x2="491.62" y2="52.97" stroke="#5a949a" stroke-width="0.55"/>
<line x1="489.23" y1="65.92" x2="493.09" y2="53.4" stroke="#3a6c71" stroke-width="0.55"/>
<line x1="491.73" y1="66.74" x2="495.78" y2="54.27" stroke="#5a949a" stroke-width="0.55"/>
<line x1="493.06" y1="67.21" x2="497.47" y2="54.87" stroke="#70a8ae" stroke-width="0.55"/>
<line x1="494.45" y1="67.74" x2="499.26" y2="55.55" stroke="#2f5a5e" stroke-width="0.55"/>
<line x1="496.64" y1="68.64" x2="502.28" y2="56.8" stroke="#3a6c71" stroke-width="0.55"/>
<line x1="499.88" y1="70.13" x2="505.56" y2="58.33" stroke="#2f5a5e" stroke-width="0.55"/>
<line x1="501.64" y1="71.03" x2="508.2" y2="59.67" stroke="#70a8ae" stroke-width="0.55"/>
<line x1="503.29" y1="71.92" x2="509.18" y2="60.2" stroke="#5a949a" stroke-width="0.55"/>
<line x1="504.51" y1="72.61" x2="510.67" y2="61.04" stroke="#467f85" stroke-width="0.55"/>
<line x1="506.08" y1="73.56" x2="513.27" y2="62.6" stroke="#5a949a" stroke-width="0.55"/>
<line x1="508.13" y1="74.88" x2="515.67" y2="64.16" stroke="#2f5a5e" stroke-width="0.55"/>
<line x1="510.54" y1="76.56" x2="518.69" y2="66.29" stroke="#467f85" stroke-width="0.55"/>
<line x1="512.79" y1="78.27" x2="520.5" y2="67.67" stroke="#5a949a" stroke-width="0.55"/>
<line x1="513.4" y1="78.76" x2="521.75" y2="68.67" stroke="#467f85" stroke-width="0.55"/>
<line x1="515.65" y1="80.66" x2="524.55" y2="71.04" stroke="#467f85" stroke-width="0.55"/>
<line x1="516.53" y1="81.45" x2="525.5" y2="71.9" stroke="#5a949a" stroke-width="0.55"/>
<line x1="519.31" y1="84.11" x2="528.69" y2="74.97" stroke="#3a6c71" stroke-width="0.55"/>
<line x1="521.7" y1="86.65" x2="531.15" y2="77.57" stroke="#467f85" stroke-width="0.55"/>
<line x1="523.24" y1="88.43" x2="533.34" y2="80.09" stroke="#70a8ae" stroke-width="0.55"/>
<line x1="524.45" y1="89.92" x2="534.59" y2="81.62" stroke="#5a949a" stroke-width="0.55"/>
<line x1="525.11" y1="90.75" x2="535.49" y2="82.77" stroke="#3a6c71" stroke-width="0.55"/>
<line x1="526.54" y1="92.69" x2="536.97" y2="84.75" stroke="#5a949a" stroke-width="0.55"/>
<line x1="527.63" y1="94.24" x2="538.44" y2="86.83" stroke="#70a8ae" stroke-width="0.55"/>
<line x1="528.57" y1="95.66" x2="539.54" y2="88.49" stroke="#467f85" stroke-width="0.55"/>
<line x1="529.52" y1="97.18" x2="540.58" y2="90.16" stroke="#5a949a" stroke-width="0.55"/>
<line x1="530.36" y1="98.6" x2="541.93" y2="92.43" stroke="#3a6c71" stroke-width="0.55"/>
<line x1="531.37" y1="100.4" x2="542.9" y2="94.17" stroke="#3a6c71" stroke-width="0.55"/>
<line x1="532.83" y1="103.25" x2="544.67" y2="97.65" stroke="#5a949a" stroke-width="0.55"/>
<line x1="533.8" y1="105.34" x2="545.74" y2="99.95" stroke="#2f5a5e" stroke-width="0.55"/>
<line x1="534.38" y1="106.67" x2="546.26" y2="101.13" stroke="#5a949a" stroke-width="0.55"/>
<line x1="535.34" y1="109.08" x2="547.68" y2="104.66" stroke="#5a949a" stroke-width="0.55"/>
<line x1="535.92" y1="110.66" x2="548.25" y2="106.22" stroke="#5a949a" stroke-width="0.55"/>
<line x1="536.43" y1="112.16" x2="548.84" y2="107.97" stroke="#467f85" stroke-width="0.55"/>
<line x1="537.02" y1="114.06" x2="549.58" y2="110.32" stroke="#5a949a" stroke-width="0.55"/>
<line x1="537.55" y1="115.91" x2="550.17" y2="112.38" stroke="#5a949a" stroke-width="0.55"/>
<line x1="538.04" y1="117.85" x2="550.74" y2="114.63" stroke="#70a8ae" stroke-width="0.55"/>
<line x1="538.35" y1="119.22" x2="551.2" y2="116.66" stroke="#5a949a" stroke-width="0.55"/>
<line x1="538.69" y1="120.83" x2="551.44" y2="117.79" stroke="#5a949a" stroke-width="0.55"/>
<line x1="539" y1="122.55" x2="552" y2="120.9" stroke="#70a8ae" stroke-width="0.55"/>
<line x1="539.35" y1="124.84" x2="552.4" y2="123.61" stroke="#70a8ae" stroke-width="0.55"/>
<line x1="539.5" y1="126.02" x2="552.56" y2="124.93" stroke="#2f5a5e" stroke-width="0.55"/>
<line x1="539.72" y1="128.2" x2="552.82" y2="127.6" stroke="#2f5a5e" stroke-width="0.55"/>
<line x1="557.29" y1="128.44" x2="569.86" y2="127.53" stroke="#5a949a" stroke-width="0.55"/>
<line x1="557.42" y1="130.77" x2="569.98" y2="129.56" stroke="#70a8ae" stroke-width="0.55"/>
<line x1="557.48" y1="132.4" x2="570.06" y2="131.51" stroke="#70a8ae" stroke-width="0.55"/>
<line x1="557.5" y1="134.49" x2="570.1" y2="134.29" stroke="#467f85" stroke-width="0.55"/>
<line x1="557.48" y1="136.17" x2="570.09" y2="136.21" stroke="#5a949a" stroke-width="0.55"/>
<line x1="557.42" y1="138.19" x2="570.02" y2="138.56" stroke="#3a6c71" stroke-width="0.55"/>
<line x1="557.35" y1="139.65" x2="569.9" y2="140.9" stroke="#5a949a" stroke-width="0.55"/>
<line x1="557.22" y1="141.62" x2="569.82" y2="142.09" stroke="#5a949a" stroke-width="0.55"/>
<line x1="556.62" y1="146.98" x2="569.07" y2="148.97" stroke="#70a8ae" stroke-width="0.55"/>
<line x1="556.19" y1="149.71" x2="568.56" y2="152.15" stroke="#2f5a5e" stroke-width="0.55"/>
<line x1="555.97" y1="150.96" x2="568.24" y2="153.85" stroke="#3a6c71" stroke-width="0.55"/>
<line x1="555.05" y1="155.26" x2="567.38" y2="157.89" stroke="#5a949a" stroke-width="0.55"/>
<line x1="554.58" y1="157.15" x2="566.86" y2="159.97" stroke="#5a949a" stroke-width="0.55"/>
<line x1="554.28" y1="158.23" x2="566.27" y2="162.16" stroke="#3a6c71" stroke-width="0.55"/>
<line x1="553.58" y1="160.64" x2="565.76" y2="163.9" stroke="#d8b060" stroke-width="0.55"/>
<line x1="553.16" y1="161.98" x2="565.22" y2="165.65" stroke="#3f3f3f" stroke-width="0.55"/>
<line x1="552.42" y1="164.17" x2="564.37" y2="168.18" stroke="#5c8e93" stroke-width="0.55"/>
<line x1="551.93" y1="165.53" x2="563.57" y2="170.38" stroke="#c9858a" stroke-width="0.55"/>
<line x1="551.15" y1="167.56" x2="562.62" y2="172.81" stroke="#6d6262" stroke-width="0.55"/>
<line x1="549.88" y1="170.57" x2="561.35" y2="175.8" stroke="#ffffff" stroke-width="0.55"/>
<line x1="548.46" y1="173.62" x2="559.99" y2="178.74" stroke="#bdbdbd" stroke-width="0.55"/>
<line x1="547.61" y1="175.32" x2="558.7" y2="181.31" stroke="#6d6262" stroke-width="0.55"/>
<line x1="546.51" y1="177.39" x2="557.52" y2="183.52" stroke="#3f3f3f" stroke-width="0.55"/>
<line x1="544.38" y1="181.06" x2="555.49" y2="187.05" stroke="#3f3f3f" stroke-width="0.55"/>
<line x1="543.76" y1="182.06" x2="554.6" y2="188.5" stroke="#c9858a" stroke-width="0.55"/>
<line x1="541.47" y1="185.52" x2="551.77" y2="192.78" stroke="#e0c080" stroke-width="0.55"/>
<line x1="540.37" y1="187.05" x2="550.63" y2="194.38" stroke="#ffffff" stroke-width="0.55"/>
<line x1="539.48" y1="188.26" x2="549.58" y2="195.79" stroke="#5c8e93" stroke-width="0.55"/>
<line x1="538.39" y1="189.67" x2="548.39" y2="197.34" stroke="#6d6262" stroke-width="0.55"/>
<line x1="536.98" y1="191.41" x2="546.96" y2="199.12" stroke="#e0c080" stroke-width="0.55"/>
<line x1="535.72" y1="192.9" x2="545.29" y2="201.1" stroke="#ffffff" stroke-width="0.55"/>
<line x1="534.63" y1="194.14" x2="543.92" y2="202.65" stroke="#5c8e93" stroke-width="0.55"/>
<line x1="533.69" y1="195.17" x2="542.47" y2="204.23" stroke="#ffffff" stroke-width="0.55"/>
<line x1="532.06" y1="196.88" x2="540.71" y2="206.06" stroke="#3f3f3f" stroke-width="0.55"/>
<line x1="528.32" y1="200.48" x2="536.66" y2="209.94" stroke="#c9858a" stroke-width="0.55"/>
<line x1="526.68" y1="201.94" x2="534.5" y2="211.84" stroke="#6d6262" stroke-width="0.55"/>
<line x1="525.14" y1="203.25" x2="533.2" y2="212.93" stroke="#5c8e93" stroke-width="0.55"/>
<line x1="523.6" y1="204.49" x2="531.47" y2="214.33" stroke="#3f3f3f" stroke-width="0.55"/>
<line x1="521.84" y1="205.84" x2="529.27" y2="216.02" stroke="#6d6262" stroke-width="0.55"/>
<line x1="521.03" y1="206.44" x2="528.81" y2="216.36" stroke="#c9858a" stroke-width="0.55"/>
<line x1="519.5" y1="207.55" x2="527.1" y2="217.6" stroke="#c9858a" stroke-width="0.55"/>
<line x1="517.27" y1="209.06" x2="524.56" y2="219.34" stroke="#5c8e93" stroke-width="0.55"/>
<line x1="515.01" y1="210.49" x2="522.04" y2="220.96" stroke="#5c8e93" stroke-width="0.55"/>
<line x1="512.82" y1="211.79" x2="518.64" y2="222.98" stroke="#3f3f3f" stroke-width="0.55"/>
<line x1="511.03" y1="212.8" x2="516.76" y2="224.03" stroke="#3f3f3f" stroke-width="0.55"/>
<line x1="509.55" y1="213.59" x2="514.82" y2="225.05" stroke="#6d6262" stroke-width="0.55"/>
<line x1="507.65" y1="214.55" x2="512.72" y2="226.1" stroke="#bdbdbd" stroke-width="0.55"/>
<line x1="506.45" y1="215.13" x2="511.95" y2="226.47" stroke="#6d6262" stroke-width="0.55"/>
<line x1="504.9" y1="215.84" x2="509.53" y2="227.58" stroke="#c9858a" stroke-width="0.55"/>
<line x1="503.37" y1="216.52" x2="508.67" y2="227.95" stroke="#bdbdbd" stroke-width="0.55"/>
<line x1="500.74" y1="217.59" x2="505.82" y2="229.13" stroke="#ffffff" stroke-width="0.55"/>
<line x1="498.99" y1="218.25" x2="503.99" y2="229.84" stroke="#ffffff" stroke-width="0.55"/>
<line x1="497.7" y1="218.71" x2="501.81" y2="230.63" stroke="#6d6262" stroke-width="0.55"/>
<line x1="496.33" y1="219.18" x2="500.14" y2="231.19" stroke="#3f3f3f" stroke-width="0.55"/>
<line x1="494.26" y1="219.84" x2="497.73" y2="231.95" stroke="#d8b060" stroke-width="0.55"/>
<line x1="490.37" y1="220.93" x2="493.31" y2="233.18" stroke="#e0c080" stroke-width="0.55"/>
<line x1="489.07" y1="221.25" x2="492.58" y2="233.36" stroke="#6d6262" stroke-width="0.55"/>
<line x1="487.31" y1="221.65" x2="490.38" y2="233.88" stroke="#ffffff" stroke-width="0.55"/>
<line x1="484.94" y1="222.13" x2="486.93" y2="234.58" stroke="#6d6262" stroke-width="0.55"/>
<line x1="481.64" y1="222.7" x2="482.97" y2="235.24" stroke="#5c8e93" stroke-width="0.55"/>
<line x1="479.12" y1="223.04" x2="481.23" y2="235.47" stroke="#6d6262" stroke-width="0.55"/>
<line x1="478.09" y1="223.16" x2="478.78" y2="235.76" stroke="#6d6262" stroke-width="0.55"/>
<line x1="475.72" y1="223.39" x2="477.22" y2="235.91" stroke="#e0c080" stroke-width="0.55"/>
<line x1="474.4" y1="223.49" x2="475.06" y2="236.08" stroke="#d8b060" stroke-width="0.55"/>
<line x1="472.58" y1="223.6" x2="472.77" y2="236.2" stroke="#ffffff" stroke-width="0.55"/>
<line x1="470.62" y1="223.67" x2="470.94" y2="236.27" stroke="#ffffff" stroke-width="0.55"/>
<line x1="468.92" y1="223.7" x2="468.31" y2="236.3" stroke="#6d6262" stroke-width="0.55"/>
<line x1="466.84" y1="223.69" x2="467.33" y2="236.3" stroke="#ffffff" stroke-width="0.55"/>
<line x1="464.86" y1="223.63" x2="464.14" y2="236.22" stroke="#d8b060" stroke-width="0.55"/>
<line x1="462.89" y1="223.54" x2="462.31" y2="236.12" stroke="#c9858a" stroke-width="0.55"/>
<line x1="459.28" y1="223.24" x2="457.65" y2="235.74" stroke="#c9858a" stroke-width="0.55"/>
<line x1="456.96" y1="222.98" x2="455.8" y2="235.53" stroke="#ffffff" stroke-width="0.55"/>
<line x1="454.93" y1="222.69" x2="453.39" y2="235.2" stroke="#c9858a" stroke-width="0.55"/>
<line x1="453.22" y1="222.42" x2="451.28" y2="234.87" stroke="#bdbdbd" stroke-width="0.55"/>
<line x1="451.1" y1="222.03" x2="448.45" y2="234.35" stroke="#d8b060" stroke-width="0.55"/>
<line x1="450.08" y1="221.82" x2="448.08" y2="234.27" stroke="#6d6262" stroke-width="0.55"/>
<line x1="448.06" y1="221.37" x2="445.61" y2="233.74" stroke="#ffffff" stroke-width="0.55"/>
<line x1="446.51" y1="221" x2="442.94" y2="233.09" stroke="#6d6262" stroke-width="0.55"/>
<line x1="444.63" y1="220.5" x2="441.02" y2="232.58" stroke="#5c8e93" stroke-width="0.55"/>
<line x1="442.53" y1="219.9" x2="439.06" y2="232.01" stroke="#3f3f3f" stroke-width="0.55"/>
<line x1="438.83" y1="218.69" x2="434.47" y2="230.52" stroke="#e0c080" stroke-width="0.55"/>
<line x1="436.75" y1="217.93" x2="432.87" y2="229.94" stroke="#5c8e93" stroke-width="0.55"/>
<line x1="435.21" y1="217.33" x2="430.58" y2="229.05" stroke="#e0c080" stroke-width="0.55"/>
<line x1="433.34" y1="216.56" x2="428.64" y2="228.26" stroke="#ffffff" stroke-width="0.55"/>
<line x1="432.34" y1="216.13" x2="426.9" y2="227.5" stroke="#d8b060" stroke-width="0.55"/>
<line x1="429.96" y1="215.04" x2="423.95" y2="226.13" stroke="#d8b060" stroke-width="0.55"/>
<line x1="428.58" y1="214.37" x2="423.56" y2="225.94" stroke="#ffffff" stroke-width="0.55"/>
<line x1="426.69" y1="213.4" x2="421.19" y2="224.75" stroke="#3f3f3f" stroke-width="0.55"/>
<line x1="422.18" y1="210.85" x2="415.45" y2="221.5" stroke="#e0c080" stroke-width="0.55"/>
<line x1="420.22" y1="209.63" x2="413.89" y2="220.54" stroke="#6d6262" stroke-width="0.55"/>
<line x1="417.36" y1="207.73" x2="410.57" y2="218.35" stroke="#3f3f3f" stroke-width="0.55"/>
<line x1="416.26" y1="206.94" x2="408.53" y2="216.91" stroke="#3f3f3f" stroke-width="0.55"/>
<line x1="414.05" y1="205.3" x2="406.21" y2="215.18" stroke="#3f3f3f" stroke-width="0.55"/>
<line x1="412.61" y1="204.18" x2="404.65" y2="213.95" stroke="#6d6262" stroke-width="0.55"/>
<line x1="411.34" y1="203.14" x2="403.52" y2="213.03" stroke="#bdbdbd" stroke-width="0.55"/>
<line x1="409.95" y1="201.97" x2="402.23" y2="211.95" stroke="#e0c080" stroke-width="0.55"/>
<line x1="408.37" y1="200.57" x2="399.47" y2="209.51" stroke="#d8b060" stroke-width="0.55"/>
<line x1="406.23" y1="198.56" x2="397.28" y2="207.43" stroke="#bdbdbd" stroke-width="0.55"/>
<line x1="404.95" y1="197.29" x2="396.08" y2="206.25" stroke="#bdbdbd" stroke-width="0.55"/>
<line x1="403.4" y1="195.69" x2="394.25" y2="204.35" stroke="#ffffff" stroke-width="0.55"/>
<line x1="401.92" y1="194.08" x2="392.94" y2="202.94" stroke="#c9858a" stroke-width="0.55"/>
<line x1="401.15" y1="193.22" x2="392.06" y2="201.96" stroke="#d8b060" stroke-width="0.55"/>
<line x1="399.65" y1="191.45" x2="390.32" y2="199.94" stroke="#5c8e93" stroke-width="0.55"/>
<line x1="398.25" y1="189.72" x2="388.54" y2="197.75" stroke="#3f3f3f" stroke-width="0.55"/>
<line x1="397.37" y1="188.58" x2="387.15" y2="195.96" stroke="#6d6262" stroke-width="0.55"/>
<line x1="395.92" y1="186.63" x2="386" y2="194.42" stroke="#d8b060" stroke-width="0.55"/>
<line x1="395.34" y1="185.81" x2="384.84" y2="192.79" stroke="#d8b060" stroke-width="0.55"/>
<line x1="394.22" y1="184.18" x2="383.67" y2="191.07" stroke="#6d6262" stroke-width="0.55"/>
<line x1="391.91" y1="180.56" x2="381.44" y2="187.59" stroke="#6d6262" stroke-width="0.55"/>
<line x1="390.82" y1="178.69" x2="379.94" y2="185.06" stroke="#5c8e93" stroke-width="0.55"/>
<line x1="389.99" y1="177.2" x2="379.14" y2="183.64" stroke="#e0c080" stroke-width="0.55"/>
<line x1="389.38" y1="176.08" x2="378.43" y2="182.32" stroke="#c9858a" stroke-width="0.55"/>
<line x1="388.47" y1="174.3" x2="377.22" y2="179.97" stroke="#d8b060" stroke-width="0.55"/>
<line x1="387.7" y1="172.72" x2="376.07" y2="177.6" stroke="#6d6262" stroke-width="0.55"/>
<line x1="386.69" y1="170.51" x2="374.97" y2="175.15" stroke="#bdbdbd" stroke-width="0.55"/>
<line x1="386.2" y1="169.38" x2="374.71" y2="174.55" stroke="#d8b060" stroke-width="0.55"/>
<line x1="385.35" y1="167.3" x2="373.77" y2="172.27" stroke="#ffffff" stroke-width="0.55"/>
<line x1="384.57" y1="165.26" x2="372.88" y2="169.98" stroke="#c9858a" stroke-width="0.55"/>
<line x1="383.6" y1="162.48" x2="371.64" y2="166.43" stroke="#e0c080" stroke-width="0.55"/>
<line x1="382.97" y1="160.49" x2="371.05" y2="164.6" stroke="#5c8e93" stroke-width="0.55"/>
<line x1="382.52" y1="158.95" x2="370.36" y2="162.27" stroke="#5a949a" stroke-width="0.55"/>
<line x1="381.79" y1="156.22" x2="369.46" y2="158.89" stroke="#3a6c71" stroke-width="0.55"/>
<line x1="381.5" y1="155.03" x2="369.27" y2="158.11" stroke="#3a6c71" stroke-width="0.55"/>
<line x1="381" y1="152.8" x2="368.74" y2="155.73" stroke="#3a6c71" stroke-width="0.55"/>
<line x1="380.72" y1="151.44" x2="368.27" y2="153.41" stroke="#d8b060" stroke-width="0.55"/>
<line x1="380.3" y1="149.06" x2="367.83" y2="150.91" stroke="#bdbdbd" stroke-width="0.55"/>
<line x1="380.09" y1="147.72" x2="367.53" y2="148.93" stroke="#d8b060" stroke-width="0.55"/>
<line x1="379.75" y1="145.27" x2="367.27" y2="146.97" stroke="#c9858a" stroke-width="0.55"/>
<line x1="379.57" y1="143.66" x2="367.03" y2="144.91" stroke="#2f5a5e" stroke-width="0.55"/>
<line x1="379.46" y1="142.49" x2="366.88" y2="143.25" stroke="#467f85" stroke-width="0.55"/>
<line x1="379.17" y1="138.07" x2="366.57" y2="138.15" stroke="#3a6c71" stroke-width="0.55"/>
<line x1="379.11" y1="136.09" x2="366.52" y2="136.34" stroke="#467f85" stroke-width="0.55"/>
<line x1="379.1" y1="134.41" x2="366.5" y2="134.64" stroke="#d8a850" stroke-width="0.55"/>
<line x1="379.11" y1="133.24" x2="366.5" y2="133.66" stroke="#d8a850" stroke-width="0.55"/>
<line x1="379.16" y1="131.12" x2="366.57" y2="130.65" stroke="#70a8ae" stroke-width="0.55"/>
<line x1="379.24" y1="129.48" x2="366.65" y2="128.98" stroke="#467f85" stroke-width="0.55"/>
<line x1="379.39" y1="127.25" x2="366.88" y2="125.71" stroke="#5a949a" stroke-width="0.55"/>
<line x1="379.54" y1="125.66" x2="367.02" y2="124.23" stroke="#467f85" stroke-width="0.55"/>
<line x1="379.98" y1="121.98" x2="367.44" y2="120.7" stroke="#70a8ae" stroke-width="0.55"/>
<line x1="380.35" y1="119.6" x2="368.04" y2="116.86" stroke="#3a6c71" stroke-width="0.55"/>
<line x1="380.7" y1="117.69" x2="368.4" y2="114.92" stroke="#2f5a5e" stroke-width="0.55"/>
<line x1="380.95" y1="116.43" x2="368.72" y2="113.36" stroke="#5a949a" stroke-width="0.55"/>
<line x1="381.51" y1="113.92" x2="369.28" y2="110.87" stroke="#3a6c71" stroke-width="0.55"/>
<line x1="381.77" y1="112.82" x2="369.4" y2="110.38" stroke="#467f85" stroke-width="0.55"/>
<line x1="382.51" y1="110.07" x2="370.24" y2="107.15" stroke="#467f85" stroke-width="0.55"/>
<line x1="382.88" y1="108.82" x2="370.72" y2="105.49" stroke="#5a949a" stroke-width="0.55"/>
<line x1="383.39" y1="107.17" x2="371.53" y2="102.9" stroke="#5a949a" stroke-width="0.55"/>
<line x1="384.04" y1="105.23" x2="372.33" y2="100.55" stroke="#467f85" stroke-width="0.55"/>
<line x1="384.51" y1="103.92" x2="372.8" y2="99.24" stroke="#5a949a" stroke-width="0.55"/>
<line x1="385.45" y1="101.45" x2="373.65" y2="97.01" stroke="#2f5a5e" stroke-width="0.55"/>
<line x1="385.92" y1="100.3" x2="374.15" y2="95.79" stroke="#2f5a5e" stroke-width="0.55"/>
<line x1="386.77" y1="98.31" x2="375.31" y2="93.07" stroke="#5a949a" stroke-width="0.55"/>
<line x1="387.58" y1="96.54" x2="375.88" y2="91.82" stroke="#467f85" stroke-width="0.55"/>
<line x1="388.54" y1="94.56" x2="377.06" y2="89.35" stroke="#2f5a5e" stroke-width="0.55"/>
<line x1="389.47" y1="92.76" x2="378.51" y2="86.54" stroke="#3a6c71" stroke-width="0.55"/>
<line x1="390.34" y1="91.15" x2="379.07" y2="85.5" stroke="#467f85" stroke-width="0.55"/>
<line x1="390.98" y1="90.02" x2="379.77" y2="84.25" stroke="#5a949a" stroke-width="0.55"/>
<line x1="391.95" y1="88.37" x2="381.06" y2="82.03" stroke="#467f85" stroke-width="0.55"/>
<line x1="392.82" y1="86.96" x2="382.19" y2="80.2" stroke="#70a8ae" stroke-width="0.55"/>
<line x1="393.93" y1="85.25" x2="383.4" y2="78.33" stroke="#70a8ae" stroke-width="0.55"/>
<line x1="395.21" y1="83.37" x2="385.25" y2="75.63" stroke="#70a8ae" stroke-width="0.55"/>
<line x1="396.41" y1="81.69" x2="385.97" y2="74.63" stroke="#5a949a" stroke-width="0.55"/>
<line x1="397.14" y1="80.72" x2="386.68" y2="73.66" stroke="#5a949a" stroke-width="0.55"/>
<line x1="398.63" y1="78.8" x2="388.55" y2="71.23" stroke="#70a8ae" stroke-width="0.55"/>
<line x1="399.2" y1="78.1" x2="389.32" y2="70.27" stroke="#70a8ae" stroke-width="0.55"/>
<line x1="402.11" y1="74.7" x2="392.6" y2="66.43" stroke="#467f85" stroke-width="0.55"/>
<line x1="404.73" y1="71.92" x2="395.98" y2="62.86" stroke="#5a949a" stroke-width="0.55"/>
<line x1="405.61" y1="71.05" x2="396.72" y2="62.12" stroke="#5a949a" stroke-width="0.55"/>
<line x1="407.39" y1="69.34" x2="398.73" y2="60.18" stroke="#70a8ae" stroke-width="0.55"/>
<line x1="410.37" y1="66.67" x2="401.71" y2="57.5" stroke="#70a8ae" stroke-width="0.55"/>
<line x1="411.48" y1="65.74" x2="403.94" y2="55.63" stroke="#467f85" stroke-width="0.55"/>
<line x1="413.15" y1="64.39" x2="405.85" y2="54.11" stroke="#467f85" stroke-width="0.55"/>
<line x1="413.98" y1="63.74" x2="406.24" y2="53.8" stroke="#5a949a" stroke-width="0.55"/>
<line x1="415.98" y1="62.25" x2="409.05" y2="51.72" stroke="#5a949a" stroke-width="0.55"/>
<line x1="416.91" y1="61.59" x2="410.13" y2="50.95" stroke="#3a6c71" stroke-width="0.55"/>
<line x1="420.79" y1="59.01" x2="413.97" y2="48.41" stroke="#3a6c71" stroke-width="0.55"/>
<line x1="422.26" y1="58.1" x2="415.43" y2="47.51" stroke="#5a949a" stroke-width="0.55"/>
<line x1="423.91" y1="57.13" x2="417.36" y2="46.36" stroke="#70a8ae" stroke-width="0.55"/>
<line x1="425.17" y1="56.42" x2="418.82" y2="45.53" stroke="#5a949a" stroke-width="0.55"/>
<line x1="428.66" y1="54.59" x2="422.55" y2="43.56" stroke="#5a949a" stroke-width="0.55"/>
<line x1="429.81" y1="54.03" x2="424.11" y2="42.79" stroke="#5a949a" stroke-width="0.55"/>
<line x1="431.69" y1="53.16" x2="426.65" y2="41.61" stroke="#2f5a5e" stroke-width="0.55"/>
<line x1="434.07" y1="52.13" x2="429.16" y2="40.53" stroke="#5a949a" stroke-width="0.55"/>
<line x1="435.05" y1="51.73" x2="430.23" y2="40.09" stroke="#5a949a" stroke-width="0.55"/>
<line x1="438.79" y1="50.32" x2="434.47" y2="38.49" stroke="#d8b060" stroke-width="0.55"/>
<line x1="440.86" y1="49.62" x2="437.03" y2="37.62" stroke="#6d6262" stroke-width="0.55"/>
<line x1="442.82" y1="49.02" x2="439.27" y2="36.93" stroke="#6d6262" stroke-width="0.55"/>
<line x1="444.36" y1="48.57" x2="440.3" y2="36.63" stroke="#d8b060" stroke-width="0.55"/>
<line x1="446.49" y1="48.01" x2="443.95" y2="35.65" stroke="#e0c080" stroke-width="0.55"/>
<line x1="447.45" y1="47.77" x2="444.94" y2="35.42" stroke="#ffffff" stroke-width="0.55"/>
<line x1="449.15" y1="47.38" x2="446.77" y2="35" stroke="#bdbdbd" stroke-width="0.55"/>
<line x1="452.03" y1="46.8" x2="449.68" y2="34.42" stroke="#6d6262" stroke-width="0.55"/>
<line x1="453.46" y1="46.54" x2="450.77" y2="34.22" stroke="#e0c080" stroke-width="0.55"/>
<line x1="455.19" y1="46.27" x2="452.78" y2="33.89" stroke="#ffffff" stroke-width="0.55"/>
<line x1="457.54" y1="45.95" x2="455.95" y2="33.45" stroke="#bdbdbd" stroke-width="0.55"/>
<line x1="458.97" y1="45.79" x2="457.21" y2="33.31" stroke="#ffffff" stroke-width="0.55"/>
<line x1="460.67" y1="45.63" x2="459.5" y2="33.08" stroke="#bdbdbd" stroke-width="0.55"/>
<line x1="463.13" y1="45.45" x2="462.98" y2="32.84" stroke="#5c8e93" stroke-width="0.55"/>
<line x1="464.74" y1="45.37" x2="464.82" y2="32.76" stroke="#e0c080" stroke-width="0.55"/>
<line x1="466.49" y1="45.32" x2="466.93" y2="32.71" stroke="#bdbdbd" stroke-width="0.55"/>
<line x1="468.41" y1="45.3" x2="469.04" y2="32.7" stroke="#6d6262" stroke-width="0.55"/>
<line x1="474.26" y1="45.5" x2="475.02" y2="32.92" stroke="#bdbdbd" stroke-width="0.55"/>
<line x1="476.23" y1="45.65" x2="477.31" y2="33.1" stroke="#3f3f3f" stroke-width="0.55"/>
<line x1="477.86" y1="45.81" x2="478.89" y2="33.25" stroke="#3f3f3f" stroke-width="0.55"/>
<line x1="479.69" y1="46.03" x2="480.95" y2="33.49" stroke="#5c8e93" stroke-width="0.55"/>
<line x1="480.91" y1="46.2" x2="482.15" y2="33.65" stroke="#6d6262" stroke-width="0.55"/>
<line x1="483.58" y1="46.62" x2="486.23" y2="34.29" stroke="#3f3f3f" stroke-width="0.55"/>
<line x1="487.04" y1="47.29" x2="490.16" y2="35.07" stroke="#6d6262" stroke-width="0.55"/>
<line x1="488.49" y1="47.62" x2="491.69" y2="35.42" stroke="#5a949a" stroke-width="0.55"/>
<line x1="490.85" y1="48.2" x2="493.96" y2="35.99" stroke="#2f5a5e" stroke-width="0.55"/>
<line x1="491.9" y1="48.48" x2="495.15" y2="36.3" stroke="#5a949a" stroke-width="0.55"/>
<line x1="496.23" y1="49.79" x2="500.58" y2="37.96" stroke="#3a6c71" stroke-width="0.55"/>
<line x1="498.04" y1="50.41" x2="502.17" y2="38.5" stroke="#5a949a" stroke-width="0.55"/>
<line x1="499.56" y1="50.96" x2="504.62" y2="39.4" stroke="#467f85" stroke-width="0.55"/>
<line x1="501.43" y1="51.68" x2="506.72" y2="40.23" stroke="#2f5a5e" stroke-width="0.55"/>
<line x1="502.9" y1="52.29" x2="508.19" y2="40.84" stroke="#2f5a5e" stroke-width="0.55"/>
<line x1="504.9" y1="53.15" x2="510.37" y2="41.8" stroke="#5a949a" stroke-width="0.55"/>
<line x1="508.05" y1="54.64" x2="514.28" y2="43.68" stroke="#2f5a5e" stroke-width="0.55"/>
<line x1="511.19" y1="56.29" x2="516.71" y2="44.95" stroke="#3a6c71" stroke-width="0.55"/>
<line x1="514.56" y1="58.24" x2="521.54" y2="47.73" stroke="#5a949a" stroke-width="0.55"/>
<line x1="517.75" y1="60.26" x2="524.72" y2="49.77" stroke="#3a6c71" stroke-width="0.55"/>
<line x1="519.24" y1="61.28" x2="526.76" y2="51.16" stroke="#467f85" stroke-width="0.55"/>
<line x1="520.65" y1="62.27" x2="527.92" y2="51.99" stroke="#5a949a" stroke-width="0.55"/>
<line x1="522.23" y1="63.45" x2="529.35" y2="53.04" stroke="#5a949a" stroke-width="0.55"/>
<line x1="523.57" y1="64.48" x2="531.58" y2="54.76" stroke="#5a949a" stroke-width="0.55"/>
<line x1="525.18" y1="65.78" x2="533.48" y2="56.3" stroke="#5a949a" stroke-width="0.55"/>
<line x1="526.62" y1="67.01" x2="535.18" y2="57.75" stroke="#70a8ae" stroke-width="0.55"/>
<line x1="528.04" y1="68.26" x2="536.56" y2="58.98" stroke="#70a8ae" stroke-width="0.55"/>
<line x1="530.51" y1="70.57" x2="539.08" y2="61.33" stroke="#3a6c71" stroke-width="0.55"/>
<line x1="532.27" y1="72.33" x2="541.5" y2="63.75" stroke="#70a8ae" stroke-width="0.55"/>
<line x1="532.95" y1="73.04" x2="541.87" y2="64.14" stroke="#2f5a5e" stroke-width="0.55"/>
<line x1="534.92" y1="75.18" x2="544.15" y2="66.6" stroke="#3a6c71" stroke-width="0.55"/>
<line x1="535.46" y1="75.79" x2="545.17" y2="67.76" stroke="#5a949a" stroke-width="0.55"/>
<line x1="537.19" y1="77.83" x2="546.98" y2="69.9" stroke="#5a949a" stroke-width="0.55"/>
<line x1="538.12" y1="78.99" x2="547.88" y2="71.02" stroke="#70a8ae" stroke-width="0.55"/>
<line x1="539.32" y1="80.53" x2="549.76" y2="73.45" stroke="#3a6c71" stroke-width="0.55"/>
<line x1="540.64" y1="82.31" x2="550.46" y2="74.39" stroke="#5a949a" stroke-width="0.55"/>
<line x1="541.33" y1="83.28" x2="551.73" y2="76.17" stroke="#70a8ae" stroke-width="0.55"/>
<line x1="542.78" y1="85.41" x2="553.35" y2="78.55" stroke="#467f85" stroke-width="0.55"/>
<line x1="543.81" y1="87.02" x2="554.29" y2="80.02" stroke="#70a8ae" stroke-width="0.55"/>
<line x1="544.33" y1="87.85" x2="554.75" y2="80.74" stroke="#5a949a" stroke-width="0.55"/>
<line x1="545.53" y1="89.86" x2="556.24" y2="83.21" stroke="#2f5a5e" stroke-width="0.55"/>
<line x1="548.36" y1="95.17" x2="559.67" y2="89.61" stroke="#3a6c71" stroke-width="0.55"/>
<line x1="548.98" y1="96.46" x2="560.24" y2="90.79" stroke="#2f5a5e" stroke-width="0.55"/>
<line x1="549.77" y1="98.19" x2="561.39" y2="93.29" stroke="#5a949a" stroke-width="0.55"/>
<line x1="550.43" y1="99.7" x2="561.99" y2="94.67" stroke="#2f5a5e" stroke-width="0.55"/>
<line x1="551.32" y1="101.89" x2="563.01" y2="97.17" stroke="#5a949a" stroke-width="0.55"/>
<line x1="552.01" y1="103.7" x2="563.93" y2="99.6" stroke="#70a8ae" stroke-width="0.55"/>
<line x1="552.46" y1="104.95" x2="564.29" y2="100.59" stroke="#467f85" stroke-width="0.55"/>
<line x1="553.54" y1="108.22" x2="565.7" y2="104.88" stroke="#3a6c71" stroke-width="0.55"/>
<line x1="554.06" y1="109.98" x2="566" y2="105.9" stroke="#5a949a" stroke-width="0.55"/>
<line x1="554.64" y1="112.08" x2="567.01" y2="109.59" stroke="#70a8ae" stroke-width="0.55"/>
<line x1="555.06" y1="113.78" x2="567.2" y2="110.37" stroke="#5a949a" stroke-width="0.55"/>
<line x1="555.46" y1="115.52" x2="567.74" y2="112.72" stroke="#5a949a" stroke-width="0.55"/>
<line x1="556" y1="118.22" x2="568.47" y2="116.38" stroke="#5a949a" stroke-width="0.55"/>
<line x1="556.23" y1="119.49" x2="568.61" y2="117.16" stroke="#5a949a" stroke-width="0.55"/>
<line x1="556.82" y1="123.48" x2="569.35" y2="122.19" stroke="#2f5a5e" stroke-width="0.55"/>
<line x1="556.97" y1="124.78" x2="569.49" y2="123.41" stroke="#3a6c71" stroke-width="0.55"/>
<line x1="557.22" y1="127.44" x2="569.79" y2="126.5" stroke="#5a949a" stroke-width="0.55"/>
<line x1="421.25" y1="112.36" x2="374.75" y2="89.07" stroke="#3a3a3a" stroke-width="0.6"/>
<line x1="519.13" y1="123.52" x2="569.69" y2="111.36" stroke="#3a3a3a" stroke-width="0.6"/>
<line x1="420.89" y1="155.87" x2="374.24" y2="178.87" stroke="#3a3a3a" stroke-width="0.6"/>
<line x1="442.47" y1="89.37" x2="417.8" y2="43.58" stroke="#3a3a3a" stroke-width="0.6"/>
<line x1="429.69" y1="99.66" x2="389.99" y2="66.06" stroke="#3a3a3a" stroke-width="0.6"/>
<line x1="451.63" y1="85.25" x2="434.06" y2="36.3" stroke="#3a3a3a" stroke-width="0.6"/>
<line x1="426.84" y1="103.12" x2="384.78" y2="72.53" stroke="#3a3a3a" stroke-width="0.6"/>
<line x1="508.52" y1="167.46" x2="549.19" y2="199.86" stroke="#3a3a3a" stroke-width="0.6"/>
<line x1="505.11" y1="97.77" x2="540.89" y2="60.03" stroke="#3a3a3a" stroke-width="0.6"/>
<line x1="416.41" y1="137.95" x2="364.54" y2="141.61" stroke="#3a3a3a" stroke-width="0.6"/>
<line x1="505.02" y1="97.68" x2="541.93" y2="61.05" stroke="#3a3a3a" stroke-width="0.6"/>
<line x1="421.79" y1="111.24" x2="374.91" y2="88.74" stroke="#3a3a3a" stroke-width="0.6"/>
<line x1="453.94" y1="184.48" x2="440.01" y2="234.58" stroke="#3a3a3a" stroke-width="0.6"/>
<line x1="520.22" y1="131.59" x2="572.13" y2="128.49" stroke="#3a3a3a" stroke-width="0.6"/>
<line x1="485.65" y1="49.25" x2="480.97" y2="31.28" stroke="#1f2e30" stroke-width="0.7"/>
<line x1="485.65" y1="49.25" x2="481.7" y2="31.37" stroke="#3a3a3a" stroke-width="0.7"/>
<line x1="485.65" y1="49.25" x2="482.43" y2="31.46" stroke="#2f4f52" stroke-width="0.7"/>
<line x1="485.65" y1="49.25" x2="483.16" y2="31.57" stroke="#1f2e30" stroke-width="0.7"/>
<line x1="485.65" y1="49.25" x2="483.89" y2="31.67" stroke="#1f2e30" stroke-width="0.7"/>
<line x1="485.65" y1="49.25" x2="484.61" y2="31.79" stroke="#1f2e30" stroke-width="0.7"/>
<line x1="485.65" y1="49.25" x2="485.34" y2="31.9" stroke="#2f4f52" stroke-width="0.7"/>
<line x1="485.65" y1="49.25" x2="486.06" y2="32.03" stroke="#2f4f52" stroke-width="0.7"/>
<line x1="485.65" y1="49.25" x2="486.78" y2="32.16" stroke="#1f2e30" stroke-width="0.7"/>
<line x1="485.65" y1="49.25" x2="487.51" y2="32.29" stroke="#3a3a3a" stroke-width="0.7"/>
<line x1="485.65" y1="49.25" x2="488.23" y2="32.43" stroke="#1f2e30" stroke-width="0.7"/>
<line x1="485.65" y1="49.25" x2="488.95" y2="32.57" stroke="#3a3a3a" stroke-width="0.7"/>
<line x1="485.65" y1="49.25" x2="489.67" y2="32.72" stroke="#3a3a3a" stroke-width="0.7"/>
<line x1="485.65" y1="49.25" x2="490.39" y2="32.87" stroke="#2f4f52" stroke-width="0.7"/>
<line x1="485.65" y1="49.25" x2="491.1" y2="33.03" stroke="#2f4f52" stroke-width="0.7"/>
<line x1="485.65" y1="49.25" x2="491.82" y2="33.19" stroke="#1f2e30" stroke-width="0.7"/>
<line x1="485.65" y1="49.25" x2="492.54" y2="33.36" stroke="#3a3a3a" stroke-width="0.7"/>
<line x1="485.65" y1="49.25" x2="493.25" y2="33.54" stroke="#1f2e30" stroke-width="0.7"/>
<line x1="485.65" y1="49.25" x2="493.96" y2="33.72" stroke="#1f2e30" stroke-width="0.7"/>
<line x1="485.65" y1="49.25" x2="494.67" y2="33.9" stroke="#3a3a3a" stroke-width="0.7"/>
<line x1="485.65" y1="49.25" x2="495.38" y2="34.09" stroke="#2f4f52" stroke-width="0.7"/>
<line x1="485.65" y1="49.25" x2="496.09" y2="34.28" stroke="#3a3a3a" stroke-width="0.7"/>
<line x1="498.77" y1="215.99" x2="514.7" y2="227.57" stroke="#3a3a3a" stroke-width="0.7"/>
<line x1="498.77" y1="215.99" x2="513.74" y2="228.05" stroke="#b08a30" stroke-width="0.7"/>
<line x1="498.77" y1="215.99" x2="512.76" y2="228.52" stroke="#b08a30" stroke-width="0.7"/>
<line x1="498.77" y1="215.99" x2="511.78" y2="228.97" stroke="#2a2a2a" stroke-width="0.7"/>
<line x1="498.77" y1="215.99" x2="510.8" y2="229.42" stroke="#3a3a3a" stroke-width="0.7"/>
<line x1="498.77" y1="215.99" x2="509.81" y2="229.86" stroke="#b08a30" stroke-width="0.7"/>
<line x1="498.77" y1="215.99" x2="508.82" y2="230.28" stroke="#2a2a2a" stroke-width="0.7"/>
<line x1="498.77" y1="215.99" x2="507.82" y2="230.7" stroke="#b08a30" stroke-width="0.7"/>
<line x1="498.77" y1="215.99" x2="506.82" y2="231.1" stroke="#b08a30" stroke-width="0.7"/>
<line x1="498.77" y1="215.99" x2="505.81" y2="231.5" stroke="#3a3a3a" stroke-width="0.7"/>
<line x1="498.77" y1="215.99" x2="504.8" y2="231.88" stroke="#2a2a2a" stroke-width="0.7"/>
<line x1="498.77" y1="215.99" x2="503.79" y2="232.26" stroke="#d8a840" stroke-width="0.7"/>
<line x1="498.77" y1="215.99" x2="502.77" y2="232.62" stroke="#3a3a3a" stroke-width="0.7"/>
<line x1="498.77" y1="215.99" x2="501.75" y2="232.97" stroke="#3a3a3a" stroke-width="0.7"/>
<line x1="498.77" y1="215.99" x2="500.73" y2="233.32" stroke="#2a2a2a" stroke-width="0.7"/>
<line x1="498.77" y1="215.99" x2="499.7" y2="233.65" stroke="#2a2a2a" stroke-width="0.7"/>
<line x1="498.77" y1="215.99" x2="498.67" y2="233.97" stroke="#b08a30" stroke-width="0.7"/>
<line x1="498.77" y1="215.99" x2="497.63" y2="234.28" stroke="#d8a840" stroke-width="0.7"/>
<line x1="498.77" y1="215.99" x2="496.59" y2="234.58" stroke="#b08a30" stroke-width="0.7"/>
<line x1="498.77" y1="215.99" x2="495.55" y2="234.87" stroke="#2a2a2a" stroke-width="0.7"/>
<line x1="498.77" y1="215.99" x2="494.51" y2="235.14" stroke="#d8a840" stroke-width="0.7"/>
<line x1="498.77" y1="215.99" x2="493.46" y2="235.41" stroke="#b08a30" stroke-width="0.7"/>
<circle cx="468.3" cy="134.5" r="34.5" fill="#ffffff" stroke="#333" stroke-width="0.7" />
<path d="M520.26 132.39 A52 52 0 0 1 520.3 134.84" fill="none" stroke="#333" stroke-width="0.6"/>
<path d="M555.17 129.66 A87 87 0 0 1 555.27 132.27" fill="none" stroke="#333" stroke-width="0.6"/>
<path d="M555.13 140.02 A87 87 0 0 1 554.54 145.96" fill="none" stroke="#333" stroke-width="0.6"/>
<path d="M571.75 145.15 A104 104 0 0 1 570.96 151.14" fill="none" stroke="#333" stroke-width="0.6"/>
<path d="M519.42 144.01 A52 52 0 0 1 519.12 145.52" fill="none" stroke="#333" stroke-width="0.6"/>
<path d="M535.81 151 A69.5 69.5 0 0 1 535.38 152.66" fill="none" stroke="#333" stroke-width="0.6"/>
<path d="M509.72 165.94 A52 52 0 0 1 427.3 166.48" fill="none" stroke="#333" stroke-width="0.6"/>
<path d="M534.17 156.68 A69.5 69.5 0 0 1 508.38 191.28" fill="none" stroke="#333" stroke-width="0.6"/>
<path d="M502.55 194.97 A69.5 69.5 0 0 1 494.75 198.77" fill="none" stroke="#333" stroke-width="0.6"/>
<path d="M489.44 200.71 A69.5 69.5 0 0 1 459.58 203.45" fill="none" stroke="#333" stroke-width="0.6"/>
<path d="M454.41 202.6 A69.5 69.5 0 0 1 445.09 200.01" fill="none" stroke="#333" stroke-width="0.6"/>
<path d="M442.19 198.91 A69.5 69.5 0 0 1 434.91 195.46" fill="none" stroke="#333" stroke-width="0.6"/>
<path d="M425.18 189 A69.5 69.5 0 0 1 402.32 156.32" fill="none" stroke="#333" stroke-width="0.6"/>
<path d="M551.6 159.61 A87 87 0 0 1 549.74 165.11" fill="none" stroke="#333" stroke-width="0.6"/>
<path d="M545.32 174.96 A87 87 0 0 1 542.96 179.16" fill="none" stroke="#333" stroke-width="0.6"/>
<path d="M541.44 181.61 A87 87 0 0 1 539.62 184.33" fill="none" stroke="#333" stroke-width="0.6"/>
<path d="M538.24 186.24 A87 87 0 0 1 531.19 194.62" fill="none" stroke="#333" stroke-width="0.6"/>
<path d="M519.88 204.56 A87 87 0 0 1 517.06 206.55" fill="none" stroke="#333" stroke-width="0.6"/>
<path d="M514.7 208.09 A87 87 0 0 1 507.24 212.3" fill="none" stroke="#333" stroke-width="0.6"/>
<path d="M488.52 219.12 A87 87 0 0 1 467.99 221.5" fill="none" stroke="#333" stroke-width="0.6"/>
<path d="M465.83 221.46 A87 87 0 0 1 459.9 221.09" fill="none" stroke="#333" stroke-width="0.6"/>
<path d="M455.14 220.5 A87 87 0 0 1 447.05 218.87" fill="none" stroke="#333" stroke-width="0.6"/>
<path d="M444.04 218.05 A87 87 0 0 1 441.79 217.36" fill="none" stroke="#333" stroke-width="0.6"/>
<path d="M436.88 215.63 A87 87 0 0 1 434.36 214.61" fill="none" stroke="#333" stroke-width="0.6"/>
<path d="M431.52 213.34 A87 87 0 0 1 420.79 207.38" fill="none" stroke="#333" stroke-width="0.6"/>
<path d="M417.59 205.19 A87 87 0 0 1 411.4 200.32" fill="none" stroke="#333" stroke-width="0.6"/>
<path d="M409.4 198.53 A87 87 0 0 1 407 196.24" fill="none" stroke="#333" stroke-width="0.6"/>
<path d="M395.09 181.5 A87 87 0 0 1 387.63 167.08" fill="none" stroke="#333" stroke-width="0.6"/>
<path d="M386.33 163.66 A87 87 0 0 1 385.11 159.97" fill="none" stroke="#333" stroke-width="0.6"/>
<path d="M564.6 173.77 A104 104 0 0 1 563.15 177.15" fill="none" stroke="#333" stroke-width="0.6"/>
<path d="M561.98 179.68 A104 104 0 0 1 558.76 185.81" fill="none" stroke="#333" stroke-width="0.6"/>
<path d="M549.64 199.31 A104 104 0 0 1 546.04 203.58" fill="none" stroke="#333" stroke-width="0.6"/>
<path d="M541.1 208.77 A104 104 0 0 1 536.85 212.71" fill="none" stroke="#333" stroke-width="0.6"/>
<path d="M531.17 217.34 A104 104 0 0 1 528.73 219.14" fill="none" stroke="#333" stroke-width="0.6"/>
<path d="M512.48 228.65 A104 104 0 0 1 503.49 232.36" fill="none" stroke="#333" stroke-width="0.6"/>
<path d="M493.79 235.33 A104 104 0 0 1 491.14 235.96" fill="none" stroke="#333" stroke-width="0.6"/>
<path d="M474.48 238.32 A104 104 0 0 1 471.73 238.44" fill="none" stroke="#333" stroke-width="0.6"/>
<path d="M413.08 222.63 A104 104 0 0 1 409.96 220.59" fill="none" stroke="#333" stroke-width="0.6"/>
<path d="M388.91 201.68 A104 104 0 0 1 386.53 198.76" fill="none" stroke="#333" stroke-width="0.6"/>
<path d="M384.45 196.03 A104 104 0 0 1 382.99 193.98" fill="none" stroke="#333" stroke-width="0.6"/>
<path d="M379.11 187.99 A104 104 0 0 1 377.62 185.42" fill="none" stroke="#333" stroke-width="0.6"/>
<path d="M370.95 171.09 A104 104 0 0 1 369.71 167.61" fill="none" stroke="#333" stroke-width="0.6"/>
<path d="M417.87 147.18 A52 52 0 0 1 417.36 144.95" fill="none" stroke="#333" stroke-width="0.6"/>
<path d="M401.16 152.45 A69.5 69.5 0 0 1 400.65 150.44" fill="none" stroke="#333" stroke-width="0.6"/>
<path d="M382.63 149.66 A87 87 0 0 1 382.1 146.29" fill="none" stroke="#333" stroke-width="0.6"/>
<path d="M365.44 149.88 A104 104 0 0 1 365.09 147.3" fill="none" stroke="#333" stroke-width="0.6"/>
<path d="M416.53 139.4 A52 52 0 0 1 416.42 138.04" fill="none" stroke="#333" stroke-width="0.6"/>
<path d="M398.8 134.92 A69.5 69.5 0 0 1 398.82 132.86" fill="none" stroke="#333" stroke-width="0.6"/>
<path d="M416.38 131.68 A52 52 0 0 1 417.45 123.6" fill="none" stroke="#333" stroke-width="0.6"/>
<path d="M399.58 124.1 A69.5 69.5 0 0 1 399.97 121.83" fill="none" stroke="#333" stroke-width="0.6"/>
<path d="M364.69 125.49 A104 104 0 0 1 364.95 122.87" fill="none" stroke="#333" stroke-width="0.6"/>
<path d="M418.13 120.81 A52 52 0 0 1 419.43 116.73" fill="none" stroke="#333" stroke-width="0.6"/>
<path d="M367.51 108.86 A104 104 0 0 1 368.46 105.39" fill="none" stroke="#333" stroke-width="0.6"/>
<path d="M422.26 110.32 A52 52 0 0 1 426.3 103.84" fill="none" stroke="#333" stroke-width="0.6"/>
<path d="M377.65 83.53 A104 104 0 0 1 380.88 78.16" fill="none" stroke="#333" stroke-width="0.6"/>
<path d="M429.3 100.11 A52 52 0 0 1 441.91 89.7" fill="none" stroke="#333" stroke-width="0.6"/>
<path d="M413.36 91.93 A69.5 69.5 0 0 1 419.16 85.35" fill="none" stroke="#333" stroke-width="0.6"/>
<path d="M408.24 71.56 A87 87 0 0 1 416.25 64.78" fill="none" stroke="#333" stroke-width="0.6"/>
<path d="M388.42 67.9 A104 104 0 0 1 392.64 63.14" fill="none" stroke="#333" stroke-width="0.6"/>
<path d="M398.89 57.05 A104 104 0 0 1 401.61 54.69" fill="none" stroke="#333" stroke-width="0.6"/>
<path d="M411.49 47.38 A104 104 0 0 1 419.61 42.6" fill="none" stroke="#333" stroke-width="0.6"/>
<path d="M445.49 87.77 A52 52 0 0 1 447.97 86.64" fill="none" stroke="#333" stroke-width="0.6"/>
<path d="M426.01 39.48 A104 104 0 0 1 429.27 38.1" fill="none" stroke="#333" stroke-width="0.6"/>
<path d="M458.69 83.4 A52 52 0 0 1 478.9 83.59" fill="none" stroke="#333" stroke-width="0.6"/>
<path d="M445.28 68.92 A69.5 69.5 0 0 1 465.31 65.06" fill="none" stroke="#333" stroke-width="0.6"/>
<path d="M438.3 52.83 A87 87 0 0 1 440.67 52" fill="none" stroke="#333" stroke-width="0.6"/>
<path d="M446.04 50.4 A87 87 0 0 1 451.56 49.13" fill="none" stroke="#333" stroke-width="0.6"/>
<path d="M472.77 47.61 A87 87 0 0 1 477.7 48.01" fill="none" stroke="#333" stroke-width="0.6"/>
<path d="M460.72 30.78 A104 104 0 0 1 467.08 30.51" fill="none" stroke="#333" stroke-width="0.6"/>
<path d="M470.19 30.52 A104 104 0 0 1 476.87 30.85" fill="none" stroke="#333" stroke-width="0.6"/>
<path d="M483.33 31.59 A104 104 0 0 1 486.33 32.08" fill="none" stroke="#333" stroke-width="0.6"/>
<path d="M480.25 83.89 A52 52 0 0 1 482.32 84.43" fill="none" stroke="#333" stroke-width="0.6"/>
<path d="M495.17 34.03 A104 104 0 0 1 497.51 34.69" fill="none" stroke="#333" stroke-width="0.6"/>
<path d="M484.99 85.25 A52 52 0 0 1 511.43 105.45" fill="none" stroke="#333" stroke-width="0.6"/>
<path d="M496.25 70.87 A69.5 69.5 0 0 1 503.73 74.71" fill="none" stroke="#333" stroke-width="0.6"/>
<path d="M516.12 84.07 A69.5 69.5 0 0 1 518.91 86.87" fill="none" stroke="#333" stroke-width="0.6"/>
<path d="M495.03 51.71 A87 87 0 0 1 497.41 52.51" fill="none" stroke="#333" stroke-width="0.6"/>
<path d="M501.57 54.11 A87 87 0 0 1 504.99 55.61" fill="none" stroke="#333" stroke-width="0.6"/>
<path d="M515.06 61.13 A87 87 0 0 1 517.2 62.54" fill="none" stroke="#333" stroke-width="0.6"/>
<path d="M533.64 77.06 A87 87 0 0 1 539.05 83.87" fill="none" stroke="#333" stroke-width="0.6"/>
<path d="M506.49 37.77 A104 104 0 0 1 509.64 39.07" fill="none" stroke="#333" stroke-width="0.6"/>
<path d="M515.91 42.04 A104 104 0 0 1 518.36 43.34" fill="none" stroke="#333" stroke-width="0.6"/>
<path d="M529.39 50.33 A104 104 0 0 1 532.32 52.54" fill="none" stroke="#333" stroke-width="0.6"/>
<path d="M548.42 68.19 A104 104 0 0 1 550.55 70.85" fill="none" stroke="#333" stroke-width="0.6"/>
<path d="M513.4 108.62 A52 52 0 0 1 519.89 127.95" fill="none" stroke="#333" stroke-width="0.6"/>
<path d="M527.02 97.32 A69.5 69.5 0 0 1 530.4 103.28" fill="none" stroke="#333" stroke-width="0.6"/>
<path d="M532.16 107.07 A69.5 69.5 0 0 1 535.76 117.8" fill="none" stroke="#333" stroke-width="0.6"/>
<path d="M537.03 124.18 A69.5 69.5 0 0 1 537.43 127.32" fill="none" stroke="#333" stroke-width="0.6"/>
<path d="M549.41 103.04 A87 87 0 0 1 550.69 106.57" fill="none" stroke="#333" stroke-width="0.6"/>
<path d="M552.06 110.98 A87 87 0 0 1 553.37 116.29" fill="none" stroke="#333" stroke-width="0.6"/>
<path d="M554.67 124.08 A87 87 0 0 1 554.97 126.93" fill="none" stroke="#333" stroke-width="0.6"/>
<path d="M559.62 84.73 A104 104 0 0 1 562.73 90.92" fill="none" stroke="#333" stroke-width="0.6"/>
<path d="M566.25 99.55 A104 104 0 0 1 567.31 102.68" fill="none" stroke="#333" stroke-width="0.6"/>
<circle cx="572.14" cy="128.71" r="2.59" fill="#80b2b7" stroke="#152729" stroke-width="0.75" />
<circle cx="572.27" cy="131.83" r="2.55" fill="#c9656c" stroke="#152729" stroke-width="0.75" />
<circle cx="572.3" cy="135.19" r="2.74" fill="#346a6f" stroke="#152729" stroke-width="0.75" />
<circle cx="572.24" cy="137.92" r="2.63" fill="#5e969c" stroke="#152729" stroke-width="0.75" />
<circle cx="572.09" cy="141.09" r="2.72" fill="#346a6f" stroke="#152729" stroke-width="0.75" />
<circle cx="571.75" cy="145.15" r="2.72" fill="#5e969c" stroke="#152729" stroke-width="0.75" />
<circle cx="571.38" cy="148.29" r="2.32" fill="#80b2b7" stroke="#152729" stroke-width="0.75" />
<circle cx="570.96" cy="151.14" r="2.52" fill="#6fa5ab" stroke="#152729" stroke-width="0.75" />
<circle cx="570.55" cy="153.52" r="2.51" fill="#6fa5ab" stroke="#152729" stroke-width="0.75" />
<circle cx="569.94" cy="156.54" r="2.68" fill="#6fa5ab" stroke="#152729" stroke-width="0.75" />
<circle cx="569.33" cy="159.19" r="2.45" fill="#92bfc3" stroke="#152729" stroke-width="0.75" />
<circle cx="568.69" cy="161.68" r="2.75" fill="#3f767b" stroke="#152729" stroke-width="0.75" />
<circle cx="567.87" cy="164.52" r="2.37" fill="#4d858b" stroke="#152729" stroke-width="0.75" />
<circle cx="566.96" cy="167.4" r="2.48" fill="#346a6f" stroke="#152729" stroke-width="0.75" />
<circle cx="565.65" cy="171.09" r="2.51" fill="#92bfc3" stroke="#152729" stroke-width="0.75" />
<circle cx="564.6" cy="173.77" r="2.34" fill="#ffffff" stroke="#152729" stroke-width="0.75" />
<circle cx="563.15" cy="177.15" r="2.55" fill="#346a6f" stroke="#152729" stroke-width="0.75" />
<circle cx="561.98" cy="179.68" r="2.36" fill="#346a6f" stroke="#152729" stroke-width="0.75" />
<circle cx="560.27" cy="183.06" r="2.37" fill="#4d858b" stroke="#152729" stroke-width="0.75" />
<circle cx="558.76" cy="185.81" r="2.37" fill="#92bfc3" stroke="#152729" stroke-width="0.75" />
<circle cx="557.55" cy="187.89" r="2.51" fill="#c9656c" stroke="#152729" stroke-width="0.75" />
<circle cx="555.73" cy="190.81" r="2.72" fill="#346a6f" stroke="#152729" stroke-width="0.75" />
<circle cx="553.55" cy="194.07" r="2.52" fill="#346a6f" stroke="#152729" stroke-width="0.75" />
<circle cx="551.91" cy="196.35" r="2.44" fill="#3f767b" stroke="#152729" stroke-width="0.75" />
<circle cx="549.64" cy="199.31" r="2.78" fill="#3f767b" stroke="#152729" stroke-width="0.75" />
<circle cx="547.95" cy="201.37" r="2.32" fill="#e3ab3c" stroke="#152729" stroke-width="0.75" />
<circle cx="546.04" cy="203.58" r="2.52" fill="#5e969c" stroke="#152729" stroke-width="0.75" />
<circle cx="543.48" cy="206.36" r="2.6" fill="#e3ab3c" stroke="#152729" stroke-width="0.75" />
<circle cx="541.1" cy="208.77" r="2.32" fill="#80b2b7" stroke="#152729" stroke-width="0.75" />
<circle cx="539.12" cy="210.66" r="2.73" fill="#80b2b7" stroke="#152729" stroke-width="0.75" />
<circle cx="536.85" cy="212.71" r="2.4" fill="#c9656c" stroke="#152729" stroke-width="0.75" />
<circle cx="534.2" cy="214.96" r="2.31" fill="#346a6f" stroke="#152729" stroke-width="0.75" />
<circle cx="531.17" cy="217.34" r="2.5" fill="#6fa5ab" stroke="#152729" stroke-width="0.75" />
<circle cx="528.73" cy="219.14" r="2.59" fill="#e3ab3c" stroke="#152729" stroke-width="0.75" />
<circle cx="526.58" cy="220.63" r="2.61" fill="#92bfc3" stroke="#152729" stroke-width="0.75" />
<circle cx="523.77" cy="222.47" r="2.56" fill="#3f767b" stroke="#152729" stroke-width="0.75" />
<circle cx="521.13" cy="224.08" r="2.44" fill="#6fa5ab" stroke="#152729" stroke-width="0.75" />
<circle cx="518.35" cy="225.67" r="2.67" fill="#5e969c" stroke="#152729" stroke-width="0.75" />
<circle cx="514.85" cy="227.5" r="2.75" fill="#ffffff" stroke="#152729" stroke-width="0.75" />
<circle cx="512.48" cy="228.65" r="2.78" fill="#6fa5ab" stroke="#152729" stroke-width="0.75" />
<circle cx="509.18" cy="230.13" r="2.7" fill="#c9656c" stroke="#152729" stroke-width="0.75" />
<circle cx="506.29" cy="231.31" r="2.67" fill="#3f767b" stroke="#152729" stroke-width="0.75" />
<circle cx="503.49" cy="232.36" r="2.61" fill="#e3ab3c" stroke="#152729" stroke-width="0.75" />
<circle cx="499.93" cy="233.57" r="2.35" fill="#5e969c" stroke="#152729" stroke-width="0.75" />
<circle cx="497.39" cy="234.35" r="2.75" fill="#5e969c" stroke="#152729" stroke-width="0.75" />
<circle cx="493.79" cy="235.33" r="2.48" fill="#346a6f" stroke="#152729" stroke-width="0.75" />
<circle cx="491.14" cy="235.96" r="2.62" fill="#5e969c" stroke="#152729" stroke-width="0.75" />
<circle cx="487.68" cy="236.68" r="2.6" fill="#3f767b" stroke="#152729" stroke-width="0.75" />
<circle cx="484.69" cy="237.2" r="2.41" fill="#4d858b" stroke="#152729" stroke-width="0.75" />
<circle cx="481.43" cy="237.67" r="2.49" fill="#5e969c" stroke="#152729" stroke-width="0.75" />
<circle cx="477.54" cy="238.09" r="2.8" fill="#5e969c" stroke="#152729" stroke-width="0.75" />
<circle cx="474.48" cy="238.32" r="2.66" fill="#e3ab3c" stroke="#152729" stroke-width="0.75" />
<circle cx="471.73" cy="238.44" r="2.31" fill="#ffffff" stroke="#152729" stroke-width="0.75" />
<circle cx="467.93" cy="238.5" r="2.52" fill="#3f767b" stroke="#152729" stroke-width="0.75" />
<circle cx="465.34" cy="238.46" r="2.45" fill="#346a6f" stroke="#152729" stroke-width="0.75" />
<circle cx="461.93" cy="238.3" r="2.58" fill="#3f767b" stroke="#152729" stroke-width="0.75" />
<circle cx="458.26" cy="238.01" r="2.7" fill="#6fa5ab" stroke="#152729" stroke-width="0.75" />
<circle cx="455.25" cy="237.68" r="2.36" fill="#4d858b" stroke="#152729" stroke-width="0.75" />
<circle cx="452.57" cy="237.3" r="2.78" fill="#e3ab3c" stroke="#152729" stroke-width="0.75" />
<circle cx="448.53" cy="236.6" r="2.59" fill="#80b2b7" stroke="#152729" stroke-width="0.75" />
<circle cx="446.09" cy="236.1" r="2.54" fill="#3f767b" stroke="#152729" stroke-width="0.75" />
<circle cx="442.9" cy="235.35" r="2.34" fill="#e3ab3c" stroke="#152729" stroke-width="0.75" />
<circle cx="439.3" cy="234.37" r="2.44" fill="#e3ab3c" stroke="#152729" stroke-width="0.75" />
<circle cx="436.61" cy="233.55" r="2.39" fill="#c9656c" stroke="#152729" stroke-width="0.75" />
<circle cx="433.57" cy="232.53" r="2.56" fill="#e3ab3c" stroke="#152729" stroke-width="0.75" />
<circle cx="430.74" cy="231.48" r="2.62" fill="#3f767b" stroke="#152729" stroke-width="0.75" />
<circle cx="427.73" cy="230.26" r="2.69" fill="#5e969c" stroke="#152729" stroke-width="0.75" />
<circle cx="424.33" cy="228.75" r="2.45" fill="#92bfc3" stroke="#152729" stroke-width="0.75" />
<circle cx="421.72" cy="227.48" r="2.56" fill="#e3ab3c" stroke="#152729" stroke-width="0.75" />
<circle cx="418.54" cy="225.82" r="2.35" fill="#6fa5ab" stroke="#152729" stroke-width="0.75" />
<circle cx="415.92" cy="224.34" r="2.61" fill="#346a6f" stroke="#152729" stroke-width="0.75" />
<circle cx="413.08" cy="222.63" r="2.4" fill="#e3ab3c" stroke="#152729" stroke-width="0.75" />
<circle cx="409.96" cy="220.59" r="2.68" fill="#92bfc3" stroke="#152729" stroke-width="0.75" />
<circle cx="407.68" cy="219.01" r="2.58" fill="#ffffff" stroke="#152729" stroke-width="0.75" />
<circle cx="405.01" cy="217.02" r="2.37" fill="#3f767b" stroke="#152729" stroke-width="0.75" />
<circle cx="402.25" cy="214.84" r="2.8" fill="#80b2b7" stroke="#152729" stroke-width="0.75" />
<circle cx="400.29" cy="213.18" r="2.52" fill="#c9656c" stroke="#152729" stroke-width="0.75" />
<circle cx="397.89" cy="211.04" r="2.46" fill="#346a6f" stroke="#152729" stroke-width="0.75" />
<circle cx="395.02" cy="208.3" r="2.61" fill="#80b2b7" stroke="#152729" stroke-width="0.75" />
<circle cx="392.82" cy="206.05" r="2.8" fill="#346a6f" stroke="#152729" stroke-width="0.75" />
<circle cx="391" cy="204.08" r="2.62" fill="#92bfc3" stroke="#152729" stroke-width="0.75" />
<circle cx="388.91" cy="201.68" r="2.73" fill="#e3ab3c" stroke="#152729" stroke-width="0.75" />
<circle cx="386.53" cy="198.76" r="2.73" fill="#4d858b" stroke="#152729" stroke-width="0.75" />
<circle cx="384.45" cy="196.03" r="2.51" fill="#80b2b7" stroke="#152729" stroke-width="0.75" />
<circle cx="382.99" cy="193.98" r="2.67" fill="#3f767b" stroke="#152729" stroke-width="0.75" />
<circle cx="380.78" cy="190.68" r="2.48" fill="#e3ab3c" stroke="#152729" stroke-width="0.75" />
<circle cx="379.11" cy="187.99" r="2.75" fill="#e3ab3c" stroke="#152729" stroke-width="0.75" />
<circle cx="377.62" cy="185.42" r="2.66" fill="#e3ab3c" stroke="#152729" stroke-width="0.75" />
<circle cx="376.16" cy="182.73" r="2.56" fill="#4d858b" stroke="#152729" stroke-width="0.75" />
<circle cx="374.84" cy="180.12" r="2.63" fill="#3f767b" stroke="#152729" stroke-width="0.75" />
<circle cx="373.49" cy="177.25" r="2.79" fill="#80b2b7" stroke="#152729" stroke-width="0.75" />
<circle cx="371.87" cy="173.45" r="2.33" fill="#5e969c" stroke="#152729" stroke-width="0.75" />
<circle cx="370.95" cy="171.09" r="2.73" fill="#ffffff" stroke="#152729" stroke-width="0.75" />
<circle cx="369.71" cy="167.61" r="2.44" fill="#3f767b" stroke="#152729" stroke-width="0.75" />
<circle cx="368.86" cy="164.94" r="2.57" fill="#3f767b" stroke="#152729" stroke-width="0.75" />
<circle cx="367.83" cy="161.36" r="2.3" fill="#80b2b7" stroke="#152729" stroke-width="0.75" />
<circle cx="367.07" cy="158.35" r="2.46" fill="#3f767b" stroke="#152729" stroke-width="0.75" />
<circle cx="366.42" cy="155.4" r="2.64" fill="#3f767b" stroke="#152729" stroke-width="0.75" />
<circle cx="365.89" cy="152.62" r="2.74" fill="#c9656c" stroke="#152729" stroke-width="0.75" />
<circle cx="365.44" cy="149.88" r="2.63" fill="#6fa5ab" stroke="#152729" stroke-width="0.75" />
<circle cx="365.09" cy="147.3" r="2.55" fill="#5e969c" stroke="#152729" stroke-width="0.75" />
<circle cx="364.76" cy="144.31" r="2.52" fill="#3f767b" stroke="#152729" stroke-width="0.75" />
<circle cx="364.54" cy="141.59" r="2.75" fill="#92bfc3" stroke="#152729" stroke-width="0.75" />
<circle cx="364.35" cy="137.64" r="2.54" fill="#346a6f" stroke="#152729" stroke-width="0.75" />
<circle cx="364.3" cy="135.13" r="2.39" fill="#92bfc3" stroke="#152729" stroke-width="0.75" />
<circle cx="364.33" cy="132.04" r="2.57" fill="#e3ab3c" stroke="#152729" stroke-width="0.75" />
<circle cx="364.45" cy="128.86" r="2.42" fill="#80b2b7" stroke="#152729" stroke-width="0.75" />
<circle cx="364.69" cy="125.49" r="2.55" fill="#3f767b" stroke="#152729" stroke-width="0.75" />
<circle cx="364.95" cy="122.87" r="2.73" fill="#346a6f" stroke="#152729" stroke-width="0.75" />
<circle cx="365.47" cy="118.93" r="2.8" fill="#80b2b7" stroke="#152729" stroke-width="0.75" />
<circle cx="366.04" cy="115.53" r="2.59" fill="#3f767b" stroke="#152729" stroke-width="0.75" />
<circle cx="366.61" cy="112.71" r="2.52" fill="#5e969c" stroke="#152729" stroke-width="0.75" />
<circle cx="367.51" cy="108.86" r="2.67" fill="#4d858b" stroke="#152729" stroke-width="0.75" />
<circle cx="368.46" cy="105.39" r="2.3" fill="#ffffff" stroke="#152729" stroke-width="0.75" />
<circle cx="369.31" cy="102.6" r="2.71" fill="#4d858b" stroke="#152729" stroke-width="0.75" />
<circle cx="370.56" cy="98.96" r="2.7" fill="#4d858b" stroke="#152729" stroke-width="0.75" />
<circle cx="371.99" cy="95.26" r="2.73" fill="#e3ab3c" stroke="#152729" stroke-width="0.75" />
<circle cx="373.37" cy="92.01" r="2.38" fill="#e3ab3c" stroke="#152729" stroke-width="0.75" />
<circle cx="374.64" cy="89.3" r="2.32" fill="#80b2b7" stroke="#152729" stroke-width="0.75" />
<circle cx="376.23" cy="86.14" r="2.71" fill="#92bfc3" stroke="#152729" stroke-width="0.75" />
<circle cx="377.65" cy="83.53" r="2.73" fill="#4d858b" stroke="#152729" stroke-width="0.75" />
<circle cx="379.33" cy="80.65" r="2.64" fill="#6fa5ab" stroke="#152729" stroke-width="0.75" />
<circle cx="380.88" cy="78.16" r="2.48" fill="#80b2b7" stroke="#152729" stroke-width="0.75" />
<circle cx="382.53" cy="75.69" r="2.77" fill="#5e969c" stroke="#152729" stroke-width="0.75" />
<circle cx="384.29" cy="73.19" r="2.38" fill="#80b2b7" stroke="#152729" stroke-width="0.75" />
<circle cx="386.09" cy="70.8" r="2.43" fill="#4d858b" stroke="#152729" stroke-width="0.75" />
<circle cx="388.42" cy="67.9" r="2.61" fill="#ffffff" stroke="#152729" stroke-width="0.75" />
<circle cx="390.03" cy="66.01" r="2.46" fill="#4d858b" stroke="#152729" stroke-width="0.75" />
<circle cx="392.64" cy="63.14" r="2.41" fill="#3f767b" stroke="#152729" stroke-width="0.75" />
<circle cx="394.76" cy="60.96" r="2.43" fill="#4d858b" stroke="#152729" stroke-width="0.75" />
<circle cx="396.5" cy="59.26" r="2.47" fill="#80b2b7" stroke="#152729" stroke-width="0.75" />
<circle cx="398.89" cy="57.05" r="2.4" fill="#6fa5ab" stroke="#152729" stroke-width="0.75" />
<circle cx="401.61" cy="54.69" r="2.34" fill="#4d858b" stroke="#152729" stroke-width="0.75" />
<circle cx="403.71" cy="52.99" r="2.73" fill="#4d858b" stroke="#152729" stroke-width="0.75" />
<circle cx="406.08" cy="51.16" r="2.57" fill="#6fa5ab" stroke="#152729" stroke-width="0.75" />
<circle cx="409.2" cy="48.92" r="2.7" fill="#6fa5ab" stroke="#152729" stroke-width="0.75" />
<circle cx="411.49" cy="47.38" r="2.37" fill="#3f767b" stroke="#152729" stroke-width="0.75" />
<circle cx="414.45" cy="45.53" r="2.61" fill="#3f767b" stroke="#152729" stroke-width="0.75" />
<circle cx="416.62" cy="44.25" r="2.4" fill="#80b2b7" stroke="#152729" stroke-width="0.75" />
<circle cx="419.61" cy="42.6" r="2.7" fill="#346a6f" stroke="#152729" stroke-width="0.75" />
<circle cx="422.68" cy="41.04" r="2.71" fill="#4d858b" stroke="#152729" stroke-width="0.75" />
<circle cx="426.01" cy="39.48" r="2.55" fill="#3f767b" stroke="#152729" stroke-width="0.75" />
<circle cx="429.27" cy="38.1" r="2.42" fill="#e3ab3c" stroke="#152729" stroke-width="0.75" />
<circle cx="432.44" cy="36.88" r="2.48" fill="#92bfc3" stroke="#152729" stroke-width="0.75" />
<circle cx="435.27" cy="35.88" r="2.78" fill="#346a6f" stroke="#152729" stroke-width="0.75" />
<circle cx="438.29" cy="34.92" r="2.3" fill="#6fa5ab" stroke="#152729" stroke-width="0.75" />
<circle cx="441.69" cy="33.96" r="2.36" fill="#6fa5ab" stroke="#152729" stroke-width="0.75" />
<circle cx="444.34" cy="33.3" r="2.65" fill="#e3ab3c" stroke="#152729" stroke-width="0.75" />
<circle cx="448.29" cy="32.44" r="2.56" fill="#ffffff" stroke="#152729" stroke-width="0.75" />
<circle cx="451.35" cy="31.89" r="2.49" fill="#4d858b" stroke="#152729" stroke-width="0.75" />
<circle cx="454.42" cy="31.43" r="2.7" fill="#e3ab3c" stroke="#152729" stroke-width="0.75" />
<circle cx="457.75" cy="31.04" r="2.72" fill="#3f767b" stroke="#152729" stroke-width="0.75" />
<circle cx="460.72" cy="30.78" r="2.42" fill="#5e969c" stroke="#152729" stroke-width="0.75" />
<circle cx="463.7" cy="30.6" r="2.46" fill="#92bfc3" stroke="#152729" stroke-width="0.75" />
<circle cx="467.08" cy="30.51" r="2.64" fill="#346a6f" stroke="#152729" stroke-width="0.75" />
<circle cx="470.19" cy="30.52" r="2.48" fill="#80b2b7" stroke="#152729" stroke-width="0.75" />
<circle cx="473.85" cy="30.65" r="2.55" fill="#e3ab3c" stroke="#152729" stroke-width="0.75" />
<circle cx="476.87" cy="30.85" r="2.45" fill="#80b2b7" stroke="#152729" stroke-width="0.75" />
<circle cx="479.53" cy="31.11" r="2.34" fill="#ffffff" stroke="#152729" stroke-width="0.75" />
<circle cx="483.33" cy="31.59" r="2.59" fill="#80b2b7" stroke="#152729" stroke-width="0.75" />
<circle cx="486.33" cy="32.08" r="2.41" fill="#c9656c" stroke="#152729" stroke-width="0.75" />
<circle cx="489.51" cy="32.68" r="2.31" fill="#6fa5ab" stroke="#152729" stroke-width="0.75" />
<circle cx="492.19" cy="33.28" r="2.48" fill="#e3ab3c" stroke="#152729" stroke-width="0.75" />
<circle cx="495.17" cy="34.03" r="2.67" fill="#4d858b" stroke="#152729" stroke-width="0.75" />
<circle cx="497.51" cy="34.69" r="2.57" fill="#80b2b7" stroke="#152729" stroke-width="0.75" />
<circle cx="500.25" cy="35.53" r="2.41" fill="#346a6f" stroke="#152729" stroke-width="0.75" />
<circle cx="503.1" cy="36.49" r="2.71" fill="#4d858b" stroke="#152729" stroke-width="0.75" />
<circle cx="506.49" cy="37.77" r="2.7" fill="#3f767b" stroke="#152729" stroke-width="0.75" />
<circle cx="509.64" cy="39.07" r="2.56" fill="#346a6f" stroke="#152729" stroke-width="0.75" />
<circle cx="512.16" cy="40.2" r="2.39" fill="#3f767b" stroke="#152729" stroke-width="0.75" />
<circle cx="515.91" cy="42.04" r="2.55" fill="#92bfc3" stroke="#152729" stroke-width="0.75" />
<circle cx="518.36" cy="43.34" r="2.58" fill="#80b2b7" stroke="#152729" stroke-width="0.75" />
<circle cx="521.32" cy="45.03" r="2.53" fill="#6fa5ab" stroke="#152729" stroke-width="0.75" />
<circle cx="524.19" cy="46.8" r="2.74" fill="#346a6f" stroke="#152729" stroke-width="0.75" />
<circle cx="526.76" cy="48.48" r="2.74" fill="#3f767b" stroke="#152729" stroke-width="0.75" />
<circle cx="529.39" cy="50.33" r="2.56" fill="#4d858b" stroke="#152729" stroke-width="0.75" />
<circle cx="532.32" cy="52.54" r="2.63" fill="#3f767b" stroke="#152729" stroke-width="0.75" />
<circle cx="534.82" cy="54.55" r="2.37" fill="#6fa5ab" stroke="#152729" stroke-width="0.75" />
<circle cx="537.11" cy="56.52" r="2.51" fill="#6fa5ab" stroke="#152729" stroke-width="0.75" />
<circle cx="539.86" cy="59.04" r="2.76" fill="#e3ab3c" stroke="#152729" stroke-width="0.75" />
<circle cx="541.93" cy="61.05" r="2.37" fill="#3f767b" stroke="#152729" stroke-width="0.75" />
<circle cx="544.03" cy="63.22" r="2.52" fill="#92bfc3" stroke="#152729" stroke-width="0.75" />
<circle cx="546.41" cy="65.83" r="2.75" fill="#e3ab3c" stroke="#152729" stroke-width="0.75" />
<circle cx="548.42" cy="68.19" r="2.58" fill="#3f767b" stroke="#152729" stroke-width="0.75" />
<circle cx="550.55" cy="70.85" r="2.79" fill="#80b2b7" stroke="#152729" stroke-width="0.75" />
<circle cx="552.87" cy="73.98" r="2.56" fill="#5e969c" stroke="#152729" stroke-width="0.75" />
<circle cx="554.55" cy="76.39" r="2.72" fill="#3f767b" stroke="#152729" stroke-width="0.75" />
<circle cx="556.16" cy="78.86" r="2.7" fill="#6fa5ab" stroke="#152729" stroke-width="0.75" />
<circle cx="557.89" cy="81.68" r="2.3" fill="#80b2b7" stroke="#152729" stroke-width="0.75" />
<circle cx="559.62" cy="84.73" r="2.57" fill="#4d858b" stroke="#152729" stroke-width="0.75" />
<circle cx="561.21" cy="87.78" r="2.76" fill="#346a6f" stroke="#152729" stroke-width="0.75" />
<circle cx="562.73" cy="90.92" r="2.64" fill="#92bfc3" stroke="#152729" stroke-width="0.75" />
<circle cx="563.86" cy="93.45" r="2.74" fill="#ffffff" stroke="#152729" stroke-width="0.75" />
<circle cx="565.26" cy="96.9" r="2.45" fill="#92bfc3" stroke="#152729" stroke-width="0.75" />
<circle cx="566.25" cy="99.55" r="2.56" fill="#5e969c" stroke="#152729" stroke-width="0.75" />
<circle cx="567.31" cy="102.68" r="2.75" fill="#346a6f" stroke="#152729" stroke-width="0.75" />
<circle cx="568.43" cy="106.38" r="2.49" fill="#346a6f" stroke="#152729" stroke-width="0.75" />
<circle cx="569.24" cy="109.44" r="2.67" fill="#5e969c" stroke="#152729" stroke-width="0.75" />
<circle cx="570" cy="112.73" r="2.53" fill="#3f767b" stroke="#152729" stroke-width="0.75" />
<circle cx="570.59" cy="115.7" r="2.6" fill="#3f767b" stroke="#152729" stroke-width="0.75" />
<circle cx="571.15" cy="119.05" r="2.51" fill="#92bfc3" stroke="#152729" stroke-width="0.75" />
<circle cx="571.55" cy="122.05" r="2.33" fill="#5e969c" stroke="#152729" stroke-width="0.75" />
<circle cx="571.91" cy="125.45" r="2.56" fill="#4d858b" stroke="#152729" stroke-width="0.75" />
<circle cx="555.17" cy="129.66" r="2.65" fill="#92bfc3" stroke="#152729" stroke-width="0.75" />
<circle cx="555.27" cy="132.27" r="2.6" fill="#6fa5ab" stroke="#152729" stroke-width="0.75" />
<circle cx="555.3" cy="135.08" r="2.58" fill="#346a6f" stroke="#152729" stroke-width="0.75" />
<circle cx="555.25" cy="137.36" r="2.61" fill="#3f767b" stroke="#152729" stroke-width="0.75" />
<circle cx="555.13" cy="140.02" r="2.63" fill="#80b2b7" stroke="#152729" stroke-width="0.75" />
<circle cx="554.54" cy="145.96" r="2.47" fill="#ffffff" stroke="#152729" stroke-width="0.75" />
<circle cx="553.83" cy="150.41" r="2.63" fill="#92bfc3" stroke="#152729" stroke-width="0.75" />
<circle cx="553.32" cy="152.94" r="2.47" fill="#4d858b" stroke="#152729" stroke-width="0.75" />
<circle cx="552.81" cy="155.15" r="2.67" fill="#92bfc3" stroke="#152729" stroke-width="0.75" />
<circle cx="552.28" cy="157.24" r="2.55" fill="#3f767b" stroke="#152729" stroke-width="0.75" />
<circle cx="551.6" cy="159.61" r="2.53" fill="#ffffff" stroke="#152729" stroke-width="0.75" />
<circle cx="550.83" cy="162.03" r="2.69" fill="#92bfc3" stroke="#152729" stroke-width="0.75" />
<circle cx="549.74" cy="165.11" r="2.78" fill="#e3ab3c" stroke="#152729" stroke-width="0.75" />
<circle cx="548.27" cy="168.77" r="2.84" fill="#5e969c" stroke="#152729" stroke-width="0.75" />
<circle cx="545.32" cy="174.96" r="2.39" fill="#c9656c" stroke="#152729" stroke-width="0.75" />
<circle cx="542.96" cy="179.16" r="2.5" fill="#ffffff" stroke="#152729" stroke-width="0.75" />
<circle cx="541.44" cy="181.61" r="2.47" fill="#e3ab3c" stroke="#152729" stroke-width="0.75" />
<circle cx="539.62" cy="184.33" r="2.47" fill="#e3ab3c" stroke="#152729" stroke-width="0.75" />
<circle cx="538.24" cy="186.24" r="2.68" fill="#e3ab3c" stroke="#152729" stroke-width="0.75" />
<circle cx="534.88" cy="190.5" r="2.75" fill="#e3ab3c" stroke="#152729" stroke-width="0.75" />
<circle cx="531.19" cy="194.62" r="2.43" fill="#5e969c" stroke="#152729" stroke-width="0.75" />
<circle cx="527.48" cy="198.27" r="2.8" fill="#346a6f" stroke="#152729" stroke-width="0.75" />
<circle cx="523.43" cy="201.81" r="2.48" fill="#80b2b7" stroke="#152729" stroke-width="0.75" />
<circle cx="519.88" cy="204.56" r="2.55" fill="#4d858b" stroke="#152729" stroke-width="0.75" />
<circle cx="517.06" cy="206.55" r="2.35" fill="#80b2b7" stroke="#152729" stroke-width="0.75" />
<circle cx="514.7" cy="208.09" r="2.66" fill="#c9656c" stroke="#152729" stroke-width="0.75" />
<circle cx="512.49" cy="209.44" r="2.73" fill="#c9656c" stroke="#152729" stroke-width="0.75" />
<circle cx="510.17" cy="210.76" r="2.56" fill="#346a6f" stroke="#152729" stroke-width="0.75" />
<circle cx="507.24" cy="212.3" r="2.37" fill="#c9656c" stroke="#152729" stroke-width="0.75" />
<circle cx="501.41" cy="214.95" r="2.83" fill="#e3ab3c" stroke="#152729" stroke-width="0.75" />
<circle cx="494.76" cy="217.38" r="2.7" fill="#e3ab3c" stroke="#152729" stroke-width="0.75" />
<circle cx="492.64" cy="218.03" r="2.64" fill="#5e969c" stroke="#152729" stroke-width="0.75" />
<circle cx="488.52" cy="219.12" r="2.48" fill="#e3ab3c" stroke="#152729" stroke-width="0.75" />
<circle cx="484.51" cy="219.98" r="2.84" fill="#ffffff" stroke="#152729" stroke-width="0.75" />
<circle cx="482.01" cy="220.41" r="2.47" fill="#92bfc3" stroke="#152729" stroke-width="0.75" />
<circle cx="479.29" cy="220.8" r="2.68" fill="#346a6f" stroke="#152729" stroke-width="0.75" />
<circle cx="476.03" cy="221.16" r="2.51" fill="#80b2b7" stroke="#152729" stroke-width="0.75" />
<circle cx="472.32" cy="221.41" r="2.77" fill="#346a6f" stroke="#152729" stroke-width="0.75" />
<circle cx="467.99" cy="221.5" r="2.39" fill="#c9656c" stroke="#152729" stroke-width="0.75" />
<circle cx="465.83" cy="221.46" r="2.43" fill="#e3ab3c" stroke="#152729" stroke-width="0.75" />
<circle cx="462.97" cy="221.34" r="2.43" fill="#e3ab3c" stroke="#152729" stroke-width="0.75" />
<circle cx="459.9" cy="221.09" r="2.4" fill="#c9656c" stroke="#152729" stroke-width="0.75" />
<circle cx="457.38" cy="220.81" r="2.61" fill="#5e969c" stroke="#152729" stroke-width="0.75" />
<circle cx="455.14" cy="220.5" r="2.69" fill="#80b2b7" stroke="#152729" stroke-width="0.75" />
<circle cx="451.76" cy="219.91" r="2.38" fill="#e3ab3c" stroke="#152729" stroke-width="0.75" />
<circle cx="449.72" cy="219.49" r="2.6" fill="#e3ab3c" stroke="#152729" stroke-width="0.75" />
<circle cx="447.05" cy="218.87" r="2.75" fill="#3f767b" stroke="#152729" stroke-width="0.75" />
<circle cx="444.04" cy="218.05" r="2.5" fill="#e3ab3c" stroke="#152729" stroke-width="0.75" />
<circle cx="441.79" cy="217.36" r="2.7" fill="#c9656c" stroke="#152729" stroke-width="0.75" />
<circle cx="439.25" cy="216.51" r="2.44" fill="#92bfc3" stroke="#152729" stroke-width="0.75" />
<circle cx="436.88" cy="215.63" r="2.56" fill="#5e969c" stroke="#152729" stroke-width="0.75" />
<circle cx="434.36" cy="214.61" r="2.71" fill="#346a6f" stroke="#152729" stroke-width="0.75" />
<circle cx="431.52" cy="213.34" r="2.83" fill="#3f767b" stroke="#152729" stroke-width="0.75" />
<circle cx="429.33" cy="212.28" r="2.41" fill="#e3ab3c" stroke="#152729" stroke-width="0.75" />
<circle cx="426.67" cy="210.9" r="2.42" fill="#c9656c" stroke="#152729" stroke-width="0.75" />
<circle cx="424.48" cy="209.66" r="2.83" fill="#92bfc3" stroke="#152729" stroke-width="0.75" />
<circle cx="420.79" cy="207.38" r="2.62" fill="#c9656c" stroke="#152729" stroke-width="0.75" />
<circle cx="417.59" cy="205.19" r="2.64" fill="#80b2b7" stroke="#152729" stroke-width="0.75" />
<circle cx="415.36" cy="203.53" r="2.59" fill="#e3ab3c" stroke="#152729" stroke-width="0.75" />
<circle cx="413.05" cy="201.7" r="2.75" fill="#6fa5ab" stroke="#152729" stroke-width="0.75" />
<circle cx="411.4" cy="200.32" r="2.52" fill="#6fa5ab" stroke="#152729" stroke-width="0.75" />
<circle cx="409.4" cy="198.53" r="2.37" fill="#c9656c" stroke="#152729" stroke-width="0.75" />
<circle cx="407" cy="196.24" r="2.84" fill="#3f767b" stroke="#152729" stroke-width="0.75" />
<circle cx="405.16" cy="194.35" r="2.86" fill="#c9656c" stroke="#152729" stroke-width="0.75" />
<circle cx="403.64" cy="192.7" r="2.76" fill="#3f767b" stroke="#152729" stroke-width="0.75" />
<circle cx="400.88" cy="189.49" r="2.57" fill="#80b2b7" stroke="#152729" stroke-width="0.75" />
<circle cx="397.54" cy="185.12" r="2.39" fill="#80b2b7" stroke="#152729" stroke-width="0.75" />
<circle cx="395.09" cy="181.5" r="2.68" fill="#e3ab3c" stroke="#152729" stroke-width="0.75" />
<circle cx="393.06" cy="178.18" r="2.59" fill="#3f767b" stroke="#152729" stroke-width="0.75" />
<circle cx="391.22" cy="174.85" r="2.78" fill="#92bfc3" stroke="#152729" stroke-width="0.75" />
<circle cx="390.12" cy="172.66" r="2.71" fill="#e3ab3c" stroke="#152729" stroke-width="0.75" />
<circle cx="388.99" cy="170.26" r="2.59" fill="#3f767b" stroke="#152729" stroke-width="0.75" />
<circle cx="387.63" cy="167.08" r="2.51" fill="#3f767b" stroke="#152729" stroke-width="0.75" />
<circle cx="386.33" cy="163.66" r="2.84" fill="#80b2b7" stroke="#152729" stroke-width="0.75" />
<circle cx="385.11" cy="159.97" r="2.73" fill="#92bfc3" stroke="#152729" stroke-width="0.75" />
<circle cx="384.25" cy="156.97" r="2.58" fill="#3f767b" stroke="#152729" stroke-width="0.75" />
<circle cx="383.62" cy="154.45" r="2.7" fill="#4d858b" stroke="#152729" stroke-width="0.75" />
<circle cx="383.08" cy="151.99" r="2.6" fill="#4d858b" stroke="#152729" stroke-width="0.75" />
<circle cx="382.63" cy="149.66" r="2.8" fill="#c9656c" stroke="#152729" stroke-width="0.75" />
<circle cx="382.1" cy="146.29" r="2.76" fill="#6fa5ab" stroke="#152729" stroke-width="0.75" />
<circle cx="381.69" cy="142.71" r="2.61" fill="#5e969c" stroke="#152729" stroke-width="0.75" />
<circle cx="381.5" cy="140.43" r="2.5" fill="#80b2b7" stroke="#152729" stroke-width="0.75" />
<circle cx="381.34" cy="137.13" r="2.61" fill="#c9656c" stroke="#152729" stroke-width="0.75" />
<circle cx="381.3" cy="135.02" r="2.66" fill="#92bfc3" stroke="#152729" stroke-width="0.75" />
<circle cx="381.32" cy="132.45" r="2.83" fill="#e3ab3c" stroke="#152729" stroke-width="0.75" />
<circle cx="381.43" cy="129.79" r="2.4" fill="#5e969c" stroke="#152729" stroke-width="0.75" />
<circle cx="381.73" cy="125.86" r="2.58" fill="#6fa5ab" stroke="#152729" stroke-width="0.75" />
<circle cx="382.28" cy="121.48" r="2.6" fill="#6fa5ab" stroke="#152729" stroke-width="0.75" />
<circle cx="382.76" cy="118.63" r="2.36" fill="#92bfc3" stroke="#152729" stroke-width="0.75" />
<circle cx="383.23" cy="116.27" r="2.45" fill="#92bfc3" stroke="#152729" stroke-width="0.75" />
<circle cx="384.37" cy="111.6" r="2.56" fill="#4d858b" stroke="#152729" stroke-width="0.75" />
<circle cx="385.49" cy="107.82" r="2.68" fill="#92bfc3" stroke="#152729" stroke-width="0.75" />
<circle cx="386.54" cy="104.77" r="2.7" fill="#4d858b" stroke="#152729" stroke-width="0.75" />
<circle cx="387.73" cy="101.67" r="2.49" fill="#92bfc3" stroke="#152729" stroke-width="0.75" />
<circle cx="388.89" cy="98.96" r="2.65" fill="#92bfc3" stroke="#152729" stroke-width="0.75" />
<circle cx="389.95" cy="96.69" r="2.49" fill="#c9656c" stroke="#152729" stroke-width="0.75" />
<circle cx="391.28" cy="94.05" r="2.7" fill="#346a6f" stroke="#152729" stroke-width="0.75" />
<circle cx="393.81" cy="89.55" r="2.38" fill="#92bfc3" stroke="#152729" stroke-width="0.75" />
<circle cx="396.55" cy="85.3" r="2.63" fill="#80b2b7" stroke="#152729" stroke-width="0.75" />
<circle cx="398.03" cy="83.21" r="2.55" fill="#92bfc3" stroke="#152729" stroke-width="0.75" />
<circle cx="399.53" cy="81.21" r="2.7" fill="#346a6f" stroke="#152729" stroke-width="0.75" />
<circle cx="403.08" cy="76.92" r="2.78" fill="#92bfc3" stroke="#152729" stroke-width="0.75" />
<circle cx="406.78" cy="72.98" r="2.76" fill="#80b2b7" stroke="#152729" stroke-width="0.75" />
<circle cx="408.24" cy="71.56" r="2.35" fill="#6fa5ab" stroke="#152729" stroke-width="0.75" />
<circle cx="411.37" cy="68.72" r="2.85" fill="#92bfc3" stroke="#152729" stroke-width="0.75" />
<circle cx="414.27" cy="66.31" r="2.42" fill="#346a6f" stroke="#152729" stroke-width="0.75" />
<circle cx="416.25" cy="64.78" r="2.57" fill="#80b2b7" stroke="#152729" stroke-width="0.75" />
<circle cx="418.86" cy="62.91" r="2.78" fill="#4d858b" stroke="#152729" stroke-width="0.75" />
<circle cx="424.14" cy="59.54" r="2.63" fill="#92bfc3" stroke="#152729" stroke-width="0.75" />
<circle cx="430.13" cy="56.32" r="2.73" fill="#346a6f" stroke="#152729" stroke-width="0.75" />
<circle cx="434.28" cy="54.43" r="2.73" fill="#4d858b" stroke="#152729" stroke-width="0.75" />
<circle cx="438.3" cy="52.83" r="2.58" fill="#92bfc3" stroke="#152729" stroke-width="0.75" />
<circle cx="440.67" cy="52" r="2.85" fill="#ffffff" stroke="#152729" stroke-width="0.75" />
<circle cx="443.2" cy="51.2" r="2.57" fill="#c9656c" stroke="#152729" stroke-width="0.75" />
<circle cx="446.04" cy="50.4" r="2.57" fill="#346a6f" stroke="#152729" stroke-width="0.75" />
<circle cx="448.25" cy="49.84" r="2.52" fill="#c9656c" stroke="#152729" stroke-width="0.75" />
<circle cx="451.56" cy="49.13" r="2.65" fill="#92bfc3" stroke="#152729" stroke-width="0.75" />
<circle cx="454.12" cy="48.66" r="2.63" fill="#346a6f" stroke="#152729" stroke-width="0.75" />
<circle cx="456.69" cy="48.28" r="2.45" fill="#92bfc3" stroke="#152729" stroke-width="0.75" />
<circle cx="459.47" cy="47.95" r="2.57" fill="#e3ab3c" stroke="#152729" stroke-width="0.75" />
<circle cx="464.56" cy="47.58" r="2.48" fill="#ffffff" stroke="#152729" stroke-width="0.75" />
<circle cx="472.77" cy="47.61" r="2.72" fill="#6fa5ab" stroke="#152729" stroke-width="0.75" />
<circle cx="477.7" cy="48.01" r="2.83" fill="#92bfc3" stroke="#152729" stroke-width="0.75" />
<circle cx="482.13" cy="48.61" r="2.73" fill="#346a6f" stroke="#152729" stroke-width="0.75" />
<circle cx="486.04" cy="49.33" r="2.78" fill="#80b2b7" stroke="#152729" stroke-width="0.75" />
<circle cx="488.29" cy="49.83" r="2.35" fill="#346a6f" stroke="#152729" stroke-width="0.75" />
<circle cx="491.76" cy="50.72" r="2.45" fill="#e3ab3c" stroke="#152729" stroke-width="0.75" />
<circle cx="495.03" cy="51.71" r="2.57" fill="#ffffff" stroke="#152729" stroke-width="0.75" />
<circle cx="497.41" cy="52.51" r="2.35" fill="#3f767b" stroke="#152729" stroke-width="0.75" />
<circle cx="501.57" cy="54.11" r="2.62" fill="#80b2b7" stroke="#152729" stroke-width="0.75" />
<circle cx="504.99" cy="55.61" r="2.63" fill="#6fa5ab" stroke="#152729" stroke-width="0.75" />
<circle cx="509.16" cy="57.69" r="2.41" fill="#3f767b" stroke="#152729" stroke-width="0.75" />
<circle cx="512.65" cy="59.65" r="2.59" fill="#3f767b" stroke="#152729" stroke-width="0.75" />
<circle cx="515.06" cy="61.13" r="2.86" fill="#5e969c" stroke="#152729" stroke-width="0.75" />
<circle cx="517.2" cy="62.54" r="2.66" fill="#92bfc3" stroke="#152729" stroke-width="0.75" />
<circle cx="520.64" cy="65" r="2.85" fill="#3f767b" stroke="#152729" stroke-width="0.75" />
<circle cx="523.94" cy="67.62" r="2.72" fill="#3f767b" stroke="#152729" stroke-width="0.75" />
<circle cx="525.87" cy="69.27" r="2.66" fill="#6fa5ab" stroke="#152729" stroke-width="0.75" />
<circle cx="528.17" cy="71.37" r="2.75" fill="#6fa5ab" stroke="#152729" stroke-width="0.75" />
<circle cx="529.89" cy="73.06" r="2.52" fill="#5e969c" stroke="#152729" stroke-width="0.75" />
<circle cx="531.65" cy="74.87" r="2.82" fill="#80b2b7" stroke="#152729" stroke-width="0.75" />
<circle cx="533.64" cy="77.06" r="2.74" fill="#346a6f" stroke="#152729" stroke-width="0.75" />
<circle cx="536.22" cy="80.14" r="2.62" fill="#6fa5ab" stroke="#152729" stroke-width="0.75" />
<circle cx="539.05" cy="83.87" r="2.86" fill="#80b2b7" stroke="#152729" stroke-width="0.75" />
<circle cx="540.45" cy="85.89" r="2.79" fill="#4d858b" stroke="#152729" stroke-width="0.75" />
<circle cx="541.8" cy="87.95" r="2.56" fill="#3f767b" stroke="#152729" stroke-width="0.75" />
<circle cx="543.25" cy="90.32" r="2.74" fill="#4d858b" stroke="#152729" stroke-width="0.75" />
<circle cx="546.03" cy="95.42" r="2.5" fill="#ffffff" stroke="#152729" stroke-width="0.75" />
<circle cx="548.24" cy="100.16" r="2.49" fill="#6fa5ab" stroke="#152729" stroke-width="0.75" />
<circle cx="549.41" cy="103.04" r="2.39" fill="#92bfc3" stroke="#152729" stroke-width="0.75" />
<circle cx="550.69" cy="106.57" r="2.38" fill="#346a6f" stroke="#152729" stroke-width="0.75" />
<circle cx="552.06" cy="110.98" r="2.43" fill="#346a6f" stroke="#152729" stroke-width="0.75" />
<circle cx="552.74" cy="113.54" r="2.62" fill="#346a6f" stroke="#152729" stroke-width="0.75" />
<circle cx="553.37" cy="116.29" r="2.4" fill="#5e969c" stroke="#152729" stroke-width="0.75" />
<circle cx="553.87" cy="118.78" r="2.67" fill="#5e969c" stroke="#152729" stroke-width="0.75" />
<circle cx="554.33" cy="121.58" r="2.65" fill="#80b2b7" stroke="#152729" stroke-width="0.75" />
<circle cx="554.67" cy="124.08" r="2.56" fill="#3f767b" stroke="#152729" stroke-width="0.75" />
<circle cx="554.97" cy="126.93" r="2.37" fill="#4d858b" stroke="#152729" stroke-width="0.75" />
<circle cx="537.74" cy="131.67" r="2.42" fill="#80b2b7" stroke="#152729" stroke-width="0.75" />
<circle cx="537.8" cy="134.96" r="2.5" fill="#3f767b" stroke="#152729" stroke-width="0.75" />
<circle cx="537.76" cy="136.78" r="2.5" fill="#346a6f" stroke="#152729" stroke-width="0.75" />
<circle cx="537.47" cy="141.28" r="2.46" fill="#6fa5ab" stroke="#152729" stroke-width="0.75" />
<circle cx="536.63" cy="147.21" r="2.39" fill="#92bfc3" stroke="#152729" stroke-width="0.75" />
<circle cx="536.22" cy="149.23" r="2.43" fill="#6fa5ab" stroke="#152729" stroke-width="0.75" />
<circle cx="535.81" cy="151" r="2.42" fill="#80b2b7" stroke="#152729" stroke-width="0.75" />
<circle cx="535.38" cy="152.66" r="2.49" fill="#4d858b" stroke="#152729" stroke-width="0.75" />
<circle cx="534.17" cy="156.68" r="2.77" fill="#ffffff" stroke="#152729" stroke-width="0.75" />
<circle cx="532.18" cy="161.88" r="2.55" fill="#92bfc3" stroke="#152729" stroke-width="0.75" />
<circle cx="528.91" cy="168.51" r="2.67" fill="#e3ab3c" stroke="#152729" stroke-width="0.75" />
<circle cx="526.01" cy="173.23" r="2.69" fill="#e3ab3c" stroke="#152729" stroke-width="0.75" />
<circle cx="521.47" cy="179.25" r="2.76" fill="#c9656c" stroke="#152729" stroke-width="0.75" />
<circle cx="515.57" cy="185.44" r="2.83" fill="#5e969c" stroke="#152729" stroke-width="0.75" />
<circle cx="512.34" cy="188.27" r="2.6" fill="#4d858b" stroke="#152729" stroke-width="0.75" />
<circle cx="508.38" cy="191.28" r="2.44" fill="#5e969c" stroke="#152729" stroke-width="0.75" />
<circle cx="502.55" cy="194.97" r="2.75" fill="#92bfc3" stroke="#152729" stroke-width="0.75" />
<circle cx="494.75" cy="198.77" r="2.63" fill="#5e969c" stroke="#152729" stroke-width="0.75" />
<circle cx="489.44" cy="200.71" r="2.64" fill="#6fa5ab" stroke="#152729" stroke-width="0.75" />
<circle cx="487.74" cy="201.22" r="2.72" fill="#e3ab3c" stroke="#152729" stroke-width="0.75" />
<circle cx="476.61" cy="203.5" r="2.5" fill="#5e969c" stroke="#152729" stroke-width="0.75" />
<circle cx="463.99" cy="203.87" r="2.7" fill="#5e969c" stroke="#152729" stroke-width="0.75" />
<circle cx="459.58" cy="203.45" r="2.85" fill="#346a6f" stroke="#152729" stroke-width="0.75" />
<circle cx="454.41" cy="202.6" r="2.9" fill="#92bfc3" stroke="#152729" stroke-width="0.75" />
<circle cx="448.02" cy="200.97" r="2.7" fill="#92bfc3" stroke="#152729" stroke-width="0.75" />
<circle cx="445.09" cy="200.01" r="2.53" fill="#80b2b7" stroke="#152729" stroke-width="0.75" />
<circle cx="442.19" cy="198.91" r="2.51" fill="#c9656c" stroke="#152729" stroke-width="0.75" />
<circle cx="434.91" cy="195.46" r="2.42" fill="#4d858b" stroke="#152729" stroke-width="0.75" />
<circle cx="425.18" cy="189" r="2.73" fill="#e3ab3c" stroke="#152729" stroke-width="0.75" />
<circle cx="420.28" cy="184.74" r="2.53" fill="#3f767b" stroke="#152729" stroke-width="0.75" />
<circle cx="417.86" cy="182.31" r="2.72" fill="#c9656c" stroke="#152729" stroke-width="0.75" />
<circle cx="416.64" cy="181" r="2.59" fill="#ffffff" stroke="#152729" stroke-width="0.75" />
<circle cx="414.44" cy="178.43" r="2.55" fill="#c9656c" stroke="#152729" stroke-width="0.75" />
<circle cx="411.77" cy="174.94" r="2.51" fill="#c9656c" stroke="#152729" stroke-width="0.75" />
<circle cx="406.44" cy="166.19" r="2.62" fill="#5e969c" stroke="#152729" stroke-width="0.75" />
<circle cx="402.32" cy="156.32" r="2.77" fill="#5e969c" stroke="#152729" stroke-width="0.75" />
<circle cx="401.16" cy="152.45" r="2.65" fill="#6fa5ab" stroke="#152729" stroke-width="0.75" />
<circle cx="400.65" cy="150.44" r="2.87" fill="#4d858b" stroke="#152729" stroke-width="0.75" />
<circle cx="400.22" cy="148.47" r="2.57" fill="#6fa5ab" stroke="#152729" stroke-width="0.75" />
<circle cx="399.64" cy="145.26" r="2.81" fill="#80b2b7" stroke="#152729" stroke-width="0.75" />
<circle cx="399.11" cy="141.05" r="2.45" fill="#6fa5ab" stroke="#152729" stroke-width="0.75" />
<circle cx="398.96" cy="139.24" r="2.64" fill="#4d858b" stroke="#152729" stroke-width="0.75" />
<circle cx="398.83" cy="136.6" r="2.7" fill="#92bfc3" stroke="#152729" stroke-width="0.75" />
<circle cx="398.8" cy="134.92" r="2.58" fill="#e3ab3c" stroke="#152729" stroke-width="0.75" />
<circle cx="398.82" cy="132.86" r="2.39" fill="#e3ab3c" stroke="#152729" stroke-width="0.75" />
<circle cx="398.9" cy="130.73" r="2.84" fill="#3f767b" stroke="#152729" stroke-width="0.75" />
<circle cx="399.14" cy="127.6" r="2.63" fill="#3f767b" stroke="#152729" stroke-width="0.75" />
<circle cx="399.58" cy="124.1" r="2.54" fill="#3f767b" stroke="#152729" stroke-width="0.75" />
<circle cx="399.97" cy="121.83" r="2.69" fill="#6fa5ab" stroke="#152729" stroke-width="0.75" />
<circle cx="400.34" cy="119.94" r="2.72" fill="#e3ab3c" stroke="#152729" stroke-width="0.75" />
<circle cx="401.25" cy="116.2" r="2.5" fill="#80b2b7" stroke="#152729" stroke-width="0.75" />
<circle cx="402.15" cy="113.18" r="2.65" fill="#6fa5ab" stroke="#152729" stroke-width="0.75" />
<circle cx="402.98" cy="110.75" r="2.44" fill="#6fa5ab" stroke="#152729" stroke-width="0.75" />
<circle cx="403.94" cy="108.28" r="2.43" fill="#3f767b" stroke="#152729" stroke-width="0.75" />
<circle cx="404.86" cy="106.11" r="2.82" fill="#92bfc3" stroke="#152729" stroke-width="0.75" />
<circle cx="405.71" cy="104.29" r="2.65" fill="#346a6f" stroke="#152729" stroke-width="0.75" />
<circle cx="406.77" cy="102.18" r="2.88" fill="#346a6f" stroke="#152729" stroke-width="0.75" />
<circle cx="408.8" cy="98.59" r="2.74" fill="#4d858b" stroke="#152729" stroke-width="0.75" />
<circle cx="410.98" cy="95.2" r="2.91" fill="#c9656c" stroke="#152729" stroke-width="0.75" />
<circle cx="412.16" cy="93.53" r="2.58" fill="#346a6f" stroke="#152729" stroke-width="0.75" />
<circle cx="413.36" cy="91.93" r="2.5" fill="#5e969c" stroke="#152729" stroke-width="0.75" />
<circle cx="416.2" cy="88.5" r="2.77" fill="#92bfc3" stroke="#152729" stroke-width="0.75" />
<circle cx="419.16" cy="85.35" r="2.87" fill="#4d858b" stroke="#152729" stroke-width="0.75" />
<circle cx="423.7" cy="81.2" r="2.54" fill="#346a6f" stroke="#152729" stroke-width="0.75" />
<circle cx="428.81" cy="77.31" r="2.64" fill="#6fa5ab" stroke="#152729" stroke-width="0.75" />
<circle cx="433.03" cy="74.62" r="2.86" fill="#3f767b" stroke="#152729" stroke-width="0.75" />
<circle cx="437.81" cy="72.04" r="2.43" fill="#92bfc3" stroke="#152729" stroke-width="0.75" />
<circle cx="441.13" cy="70.53" r="2.53" fill="#346a6f" stroke="#152729" stroke-width="0.75" />
<circle cx="445.28" cy="68.92" r="2.53" fill="#c9656c" stroke="#152729" stroke-width="0.75" />
<circle cx="448.25" cy="67.96" r="2.48" fill="#e3ab3c" stroke="#152729" stroke-width="0.75" />
<circle cx="452.57" cy="66.8" r="2.69" fill="#ffffff" stroke="#152729" stroke-width="0.75" />
<circle cx="456.97" cy="65.93" r="2.46" fill="#c9656c" stroke="#152729" stroke-width="0.75" />
<circle cx="459.03" cy="65.62" r="2.75" fill="#4d858b" stroke="#152729" stroke-width="0.75" />
<circle cx="461.25" cy="65.36" r="2.84" fill="#c9656c" stroke="#152729" stroke-width="0.75" />
<circle cx="465.31" cy="65.06" r="2.53" fill="#c9656c" stroke="#152729" stroke-width="0.75" />
<circle cx="473.84" cy="65.22" r="2.74" fill="#c9656c" stroke="#152729" stroke-width="0.75" />
<circle cx="479.35" cy="65.88" r="2.78" fill="#3f767b" stroke="#152729" stroke-width="0.75" />
<circle cx="482.47" cy="66.46" r="2.78" fill="#ffffff" stroke="#152729" stroke-width="0.75" />
<circle cx="484.27" cy="66.86" r="2.65" fill="#4d858b" stroke="#152729" stroke-width="0.75" />
<circle cx="487.04" cy="67.57" r="2.65" fill="#346a6f" stroke="#152729" stroke-width="0.75" />
<circle cx="490.61" cy="68.68" r="2.46" fill="#80b2b7" stroke="#152729" stroke-width="0.75" />
<circle cx="496.25" cy="70.87" r="2.4" fill="#6fa5ab" stroke="#152729" stroke-width="0.75" />
<circle cx="500.94" cy="73.14" r="2.73" fill="#ffffff" stroke="#152729" stroke-width="0.75" />
<circle cx="503.73" cy="74.71" r="2.49" fill="#92bfc3" stroke="#152729" stroke-width="0.75" />
<circle cx="506.51" cy="76.45" r="2.75" fill="#4d858b" stroke="#152729" stroke-width="0.75" />
<circle cx="510.11" cy="78.98" r="2.55" fill="#6fa5ab" stroke="#152729" stroke-width="0.75" />
<circle cx="512.75" cy="81.07" r="2.69" fill="#4d858b" stroke="#152729" stroke-width="0.75" />
<circle cx="514.29" cy="82.39" r="2.73" fill="#92bfc3" stroke="#152729" stroke-width="0.75" />
<circle cx="516.12" cy="84.07" r="2.71" fill="#3f767b" stroke="#152729" stroke-width="0.75" />
<circle cx="517.5" cy="85.42" r="2.71" fill="#346a6f" stroke="#152729" stroke-width="0.75" />
<circle cx="518.91" cy="86.87" r="2.78" fill="#346a6f" stroke="#152729" stroke-width="0.75" />
<circle cx="522.67" cy="91.21" r="2.87" fill="#5e969c" stroke="#152729" stroke-width="0.75" />
<circle cx="525.94" cy="95.67" r="2.51" fill="#3f767b" stroke="#152729" stroke-width="0.75" />
<circle cx="527.02" cy="97.32" r="2.89" fill="#e3ab3c" stroke="#152729" stroke-width="0.75" />
<circle cx="528.17" cy="99.21" r="2.83" fill="#80b2b7" stroke="#152729" stroke-width="0.75" />
<circle cx="530.4" cy="103.28" r="2.86" fill="#6fa5ab" stroke="#152729" stroke-width="0.75" />
<circle cx="532.16" cy="107.07" r="2.51" fill="#4d858b" stroke="#152729" stroke-width="0.75" />
<circle cx="533.62" cy="110.77" r="2.79" fill="#4d858b" stroke="#152729" stroke-width="0.75" />
<circle cx="535.76" cy="117.8" r="2.91" fill="#4d858b" stroke="#152729" stroke-width="0.75" />
<circle cx="536.66" cy="121.94" r="2.67" fill="#6fa5ab" stroke="#152729" stroke-width="0.75" />
<circle cx="537.03" cy="124.18" r="2.86" fill="#80b2b7" stroke="#152729" stroke-width="0.75" />
<circle cx="537.43" cy="127.32" r="2.73" fill="#6fa5ab" stroke="#152729" stroke-width="0.75" />
<circle cx="520.26" cy="132.39" r="3.05" fill="#5e969c" stroke="#152729" stroke-width="0.75" />
<circle cx="520.3" cy="134.84" r="3.04" fill="#5e969c" stroke="#152729" stroke-width="0.75" />
<circle cx="520.27" cy="136.21" r="2.63" fill="#80b2b7" stroke="#152729" stroke-width="0.75" />
<circle cx="520.05" cy="139.58" r="3.1" fill="#346a6f" stroke="#152729" stroke-width="0.75" />
<circle cx="519.42" cy="144.01" r="2.74" fill="#346a6f" stroke="#152729" stroke-width="0.75" />
<circle cx="519.12" cy="145.52" r="2.76" fill="#92bfc3" stroke="#152729" stroke-width="0.75" />
<circle cx="518.66" cy="147.47" r="2.76" fill="#5e969c" stroke="#152729" stroke-width="0.75" />
<circle cx="509.72" cy="165.94" r="2.76" fill="#e3ab3c" stroke="#152729" stroke-width="0.75" />
<circle cx="491.05" cy="181.26" r="2.81" fill="#e3ab3c" stroke="#152729" stroke-width="0.75" />
<circle cx="473.74" cy="186.21" r="2.94" fill="#c9656c" stroke="#152729" stroke-width="0.75" />
<circle cx="453.97" cy="184.49" r="2.75" fill="#e3ab3c" stroke="#152729" stroke-width="0.75" />
<circle cx="446.01" cy="181.48" r="2.71" fill="#92bfc3" stroke="#152729" stroke-width="0.75" />
<circle cx="427.3" cy="166.48" r="3.14" fill="#c9656c" stroke="#152729" stroke-width="0.75" />
<circle cx="417.87" cy="147.18" r="2.63" fill="#e3ab3c" stroke="#152729" stroke-width="0.75" />
<circle cx="417.36" cy="144.95" r="2.94" fill="#5e969c" stroke="#152729" stroke-width="0.75" />
<circle cx="416.93" cy="142.55" r="3.09" fill="#4d858b" stroke="#152729" stroke-width="0.75" />
<circle cx="416.53" cy="139.4" r="2.64" fill="#5e969c" stroke="#152729" stroke-width="0.75" />
<circle cx="416.42" cy="138.04" r="2.86" fill="#e3ab3c" stroke="#152729" stroke-width="0.75" />
<circle cx="416.32" cy="136.07" r="2.81" fill="#346a6f" stroke="#152729" stroke-width="0.75" />
<circle cx="416.3" cy="134.04" r="2.94" fill="#e3ab3c" stroke="#152729" stroke-width="0.75" />
<circle cx="416.38" cy="131.68" r="2.64" fill="#6fa5ab" stroke="#152729" stroke-width="0.75" />
<circle cx="416.56" cy="129.34" r="2.68" fill="#5e969c" stroke="#152729" stroke-width="0.75" />
<circle cx="417.02" cy="125.87" r="3.05" fill="#5e969c" stroke="#152729" stroke-width="0.75" />
<circle cx="417.45" cy="123.6" r="3.02" fill="#6fa5ab" stroke="#152729" stroke-width="0.75" />
<circle cx="418.13" cy="120.81" r="2.65" fill="#3f767b" stroke="#152729" stroke-width="0.75" />
<circle cx="418.81" cy="118.55" r="2.98" fill="#4d858b" stroke="#152729" stroke-width="0.75" />
<circle cx="419.43" cy="116.73" r="2.84" fill="#6fa5ab" stroke="#152729" stroke-width="0.75" />
<circle cx="420.14" cy="114.88" r="3.11" fill="#346a6f" stroke="#152729" stroke-width="0.75" />
<circle cx="420.84" cy="113.26" r="2.91" fill="#c9656c" stroke="#152729" stroke-width="0.75" />
<circle cx="421.47" cy="111.9" r="2.62" fill="#5e969c" stroke="#152729" stroke-width="0.75" />
<circle cx="422.26" cy="110.32" r="2.99" fill="#92bfc3" stroke="#152729" stroke-width="0.75" />
<circle cx="423.78" cy="107.63" r="3.04" fill="#4d858b" stroke="#152729" stroke-width="0.75" />
<circle cx="425.41" cy="105.09" r="3.19" fill="#6fa5ab" stroke="#152729" stroke-width="0.75" />
<circle cx="426.3" cy="103.84" r="3.06" fill="#80b2b7" stroke="#152729" stroke-width="0.75" />
<circle cx="429.3" cy="100.11" r="2.66" fill="#92bfc3" stroke="#152729" stroke-width="0.75" />
<circle cx="434.93" cy="94.62" r="3.09" fill="#346a6f" stroke="#152729" stroke-width="0.75" />
<circle cx="438.75" cy="91.71" r="2.75" fill="#92bfc3" stroke="#152729" stroke-width="0.75" />
<circle cx="441.91" cy="89.7" r="2.8" fill="#ffffff" stroke="#152729" stroke-width="0.75" />
<circle cx="445.49" cy="87.77" r="2.84" fill="#e3ab3c" stroke="#152729" stroke-width="0.75" />
<circle cx="447.97" cy="86.64" r="3.17" fill="#80b2b7" stroke="#152729" stroke-width="0.75" />
<circle cx="458.69" cy="83.4" r="2.69" fill="#346a6f" stroke="#152729" stroke-width="0.75" />
<circle cx="472.44" cy="82.67" r="3.06" fill="#e3ab3c" stroke="#152729" stroke-width="0.75" />
<circle cx="476.57" cy="83.16" r="2.66" fill="#3f767b" stroke="#152729" stroke-width="0.75" />
<circle cx="478.9" cy="83.59" r="2.97" fill="#346a6f" stroke="#152729" stroke-width="0.75" />
<circle cx="480.25" cy="83.89" r="2.93" fill="#80b2b7" stroke="#152729" stroke-width="0.75" />
<circle cx="482.32" cy="84.43" r="2.87" fill="#92bfc3" stroke="#152729" stroke-width="0.75" />
<circle cx="484.99" cy="85.25" r="3.05" fill="#6fa5ab" stroke="#152729" stroke-width="0.75" />
<circle cx="492.28" cy="88.36" r="2.93" fill="#346a6f" stroke="#152729" stroke-width="0.75" />
<circle cx="496.89" cy="91.06" r="2.95" fill="#80b2b7" stroke="#152729" stroke-width="0.75" />
<circle cx="499.58" cy="92.96" r="3.12" fill="#6fa5ab" stroke="#152729" stroke-width="0.75" />
<circle cx="501.56" cy="94.53" r="2.9" fill="#3f767b" stroke="#152729" stroke-width="0.75" />
<circle cx="502.71" cy="95.51" r="2.95" fill="#6fa5ab" stroke="#152729" stroke-width="0.75" />
<circle cx="505.13" cy="97.79" r="3.08" fill="#346a6f" stroke="#152729" stroke-width="0.75" />
<circle cx="508.98" cy="102.11" r="2.65" fill="#92bfc3" stroke="#152729" stroke-width="0.75" />
<circle cx="511.43" cy="105.45" r="2.79" fill="#4d858b" stroke="#152729" stroke-width="0.75" />
<circle cx="513.4" cy="108.62" r="3.13" fill="#92bfc3" stroke="#152729" stroke-width="0.75" />
<circle cx="517.46" cy="117.54" r="3.06" fill="#346a6f" stroke="#152729" stroke-width="0.75" />
<circle cx="519.44" cy="125.1" r="3.07" fill="#80b2b7" stroke="#152729" stroke-width="0.75" />
<circle cx="519.89" cy="127.95" r="3.02" fill="#6fa5ab" stroke="#152729" stroke-width="0.75" />
<circle cx="502.79" cy="133.91" r="4.3" fill="#80b2b7" stroke="#152729" stroke-width="0.75" />
<circle cx="502.78" cy="135.63" r="4.3" fill="#3f767b" stroke="#152729" stroke-width="0.75" />
<circle cx="502.64" cy="137.87" r="3.3" fill="#6fa5ab" stroke="#152729" stroke-width="0.75" />
<circle cx="502.12" cy="141.31" r="2.8" fill="#4d858b" stroke="#152729" stroke-width="0.75" />
<circle cx="501.71" cy="143.1" r="2.8" fill="#5e969c" stroke="#152729" stroke-width="0.75" />
<circle cx="467.43" cy="168.99" r="3.3" fill="#4d858b" stroke="#152729" stroke-width="0.75" />
<circle cx="434.66" cy="142.18" r="3.8" fill="#4d858b" stroke="#152729" stroke-width="0.75" />
<circle cx="434.22" cy="139.84" r="4.3" fill="#80b2b7" stroke="#152729" stroke-width="0.75" />
<circle cx="433.91" cy="137.3" r="3.8" fill="#80b2b7" stroke="#152729" stroke-width="0.75" />
<circle cx="433.82" cy="135.54" r="3.3" fill="#3f767b" stroke="#152729" stroke-width="0.75" />
<circle cx="433.8" cy="134.2" r="3.3" fill="#e3ab3c" stroke="#152729" stroke-width="0.75" />
<circle cx="434.1" cy="129.93" r="3.8" fill="#92bfc3" stroke="#152729" stroke-width="0.75" />
<circle cx="435.43" cy="124.01" r="2.8" fill="#4d858b" stroke="#152729" stroke-width="0.75" />
<circle cx="436.35" cy="121.48" r="3.8" fill="#5e969c" stroke="#152729" stroke-width="0.75" />
<circle cx="436.81" cy="120.41" r="2.8" fill="#5e969c" stroke="#152729" stroke-width="0.75" />
<circle cx="437.23" cy="119.5" r="4.3" fill="#80b2b7" stroke="#152729" stroke-width="0.75" />
<circle cx="439.15" cy="116.04" r="3.8" fill="#3f767b" stroke="#152729" stroke-width="0.75" />
<circle cx="446.87" cy="107.47" r="3.3" fill="#4d858b" stroke="#152729" stroke-width="0.75" />
<circle cx="453.98" cy="103.11" r="4.3" fill="#3f767b" stroke="#152729" stroke-width="0.75" />
<circle cx="470.53" cy="100.07" r="3.8" fill="#4d858b" stroke="#152729" stroke-width="0.75" />
<circle cx="476.92" cy="101.09" r="3.8" fill="#6fa5ab" stroke="#152729" stroke-width="0.75" />
<circle cx="489.98" cy="107.66" r="3.8" fill="#ffffff" stroke="#152729" stroke-width="0.75" />
<circle cx="501.36" cy="124.62" r="3.8" fill="#92bfc3" stroke="#152729" stroke-width="0.75" />
<line x1="447.3" y1="134.5" x2="433.8" y2="134.5" stroke="#333" stroke-width="0.7" />
<line x1="488.3" y1="134.5" x2="502.8" y2="134.5" stroke="#333" stroke-width="0.7" />
<circle cx="450.8" cy="134.5" r="3.5" fill="#fff" stroke="#333" stroke-width="0.7" />
<circle cx="485.8" cy="134.5" r="2.4" fill="#fff" stroke="#333" stroke-width="0.7" />
<circle cx="468.3" cy="134.5" r="0.8" fill="#222" stroke="none" stroke-width="0" />
<text x="0" y="0" font-size="6.6" text-anchor="middle" fill="#222" transform="translate(459.35 23.26) rotate(-4.6)" dominant-baseline="central">e</text>
<text x="0" y="0" font-size="6.6" text-anchor="middle" fill="#222" transform="translate(495.3 26.21) rotate(14)" dominant-baseline="central">d</text>
<text x="0" y="0" font-size="6.6" text-anchor="middle" fill="#222" transform="translate(538.38 47.65) rotate(38.9)" dominant-baseline="central">c</text>
<text x="0" y="0" font-size="6.6" text-anchor="middle" fill="#222" transform="translate(575.84 104.68) rotate(74.5)" dominant-baseline="central">b</text>
<text x="0" y="0" font-size="6.6" text-anchor="middle" fill="#222" transform="translate(579.9 133.53) rotate(89.5)" dominant-baseline="central">av</text>
<text x="0" y="0" font-size="6.6" text-anchor="middle" fill="#222" transform="translate(579.07 148.1) rotate(97)" dominant-baseline="central">u</text>
<text x="0" y="0" font-size="6.6" text-anchor="middle" fill="#222" transform="translate(576.95 159.98) rotate(103.2)" dominant-baseline="central">t s</text>
<text x="0" y="0" font-size="6.6" text-anchor="middle" fill="#222" transform="translate(468.3 246.1) rotate(180)" dominant-baseline="central">r</text>
<text x="0" y="0" font-size="6.6" text-anchor="middle" fill="#222" transform="translate(359.69 160.17) rotate(256.7)" dominant-baseline="central">q</text>
<text x="0" y="0" font-size="6.6" text-anchor="middle" fill="#222" transform="translate(358.01 151.57) rotate(261.2)" dominant-baseline="central">p</text>
<text x="0" y="0" font-size="6.6" text-anchor="middle" fill="#222" transform="translate(356.77 138.39) rotate(268)" dominant-baseline="central">o n m</text>
<text x="0" y="0" font-size="6.6" text-anchor="middle" fill="#222" transform="translate(357.58 120.51) rotate(277.2)" dominant-baseline="central">l</text>
<text x="0" y="0" font-size="6.6" text-anchor="middle" fill="#222" transform="translate(361.46 102.24) rotate(286.8)" dominant-baseline="central">k</text>
<text x="0" y="0" font-size="6.6" text-anchor="middle" fill="#222" transform="translate(367.16 87.34) rotate(295)" dominant-baseline="central">j i h</text>
<text x="0" y="0" font-size="6.6" text-anchor="middle" fill="#222" transform="translate(399.59 46.56) rotate(322)" dominant-baseline="central">g</text>
<text x="0" y="0" font-size="6.6" text-anchor="middle" fill="#222" transform="translate(425.59 31.4) rotate(337.5)" dominant-baseline="central">f</text>
<text x="435.8" y="8.3" font-size="11.3" text-anchor="start" fill="#000" textLength="57.2" lengthAdjust="spacingAndGlyphs" >Cladogram</text>
<rect x="594" y="3.1" width="12.8" height="4.6" fill="#7fa5aa" />
<text x="611.8" y="8" font-size="7.5" text-anchor="start" fill="#000" >a: Euryarchaeota</text>
<rect x="594" y="11.92" width="12.8" height="4.6" fill="#3d6e70" />
<text x="611.8" y="16.82" font-size="7.5" text-anchor="start" fill="#000" >b: Acidobacteria</text>
<rect x="594" y="20.74" width="12.8" height="4.6" fill="#7fa5aa" />
<text x="611.8" y="25.64" font-size="7.5" text-anchor="start" fill="#000" >c: Actinobacteria</text>
<rect x="594" y="29.56" width="12.8" height="4.6" fill="#3d6e70" />
<text x="611.8" y="34.46" font-size="7.5" text-anchor="start" fill="#000" >d: Armatimonadetes</text>
<rect x="594" y="38.38" width="12.8" height="4.6" fill="#c4707a" />
<text x="611.8" y="43.28" font-size="7.5" text-anchor="start" fill="#000" >e: Bacteroidetes</text>
<rect x="594" y="47.2" width="12.8" height="4.6" fill="#3d6e70" />
<text x="611.8" y="52.1" font-size="7.5" text-anchor="start" fill="#000" >f: Chlamydiae</text>
<rect x="594" y="56.02" width="12.8" height="4.6" fill="#7fa5aa" />
<text x="611.8" y="60.92" font-size="7.5" text-anchor="start" fill="#000" >g: Chloroflexi</text>
<rect x="594" y="64.84" width="12.8" height="4.6" fill="#7fa5aa" />
<text x="611.8" y="69.74" font-size="7.5" text-anchor="start" fill="#000" >h: Dependentiae</text>
<rect x="594" y="73.66" width="12.8" height="4.6" fill="#7fa5aa" />
<text x="611.8" y="78.56" font-size="7.5" text-anchor="start" fill="#000" >i: Entotheonellaeota</text>
<rect x="594" y="82.48" width="12.8" height="4.6" fill="#3d6e70" />
<text x="611.8" y="87.38" font-size="7.5" text-anchor="start" fill="#000" >j: Fibrobacteres</text>
<rect x="594" y="91.3" width="12.8" height="4.6" fill="#7fa5aa" />
<text x="611.8" y="96.2" font-size="7.5" text-anchor="start" fill="#000" >k: Firmicutes</text>
<rect x="594" y="100.12" width="12.8" height="4.6" fill="#3d6e70" />
<text x="611.8" y="105.02" font-size="7.5" text-anchor="start" fill="#000" >l: Gemmatimonadetes</text>
<rect x="594" y="108.94" width="12.8" height="4.6" fill="#e2ac48" />
<text x="611.8" y="113.84" font-size="7.5" text-anchor="start" fill="#000" >m: Hydrogenedentes</text>
<rect x="594" y="117.76" width="12.8" height="4.6" fill="#7fa5aa" />
<text x="611.8" y="122.66" font-size="7.5" text-anchor="start" fill="#000" >n: Latescibacteria</text>
<rect x="594" y="126.58" width="12.8" height="4.6" fill="#7fa5aa" />
<text x="611.8" y="131.48" font-size="7.5" text-anchor="start" fill="#000" >o: Nitrospirae</text>
<rect x="594" y="135.4" width="12.8" height="4.6" fill="#c4707a" />
<text x="611.8" y="140.3" font-size="7.5" text-anchor="start" fill="#000" >p: Patescibacteria</text>
<rect x="594" y="144.22" width="12.8" height="4.6" fill="#3d6e70" />
<text x="611.8" y="149.12" font-size="7.5" text-anchor="start" fill="#000" >q: Planctomycetes</text>
<rect x="594" y="153.04" width="12.8" height="4.6" fill="#c4707a" />
<text x="611.8" y="157.94" font-size="7.5" text-anchor="start" fill="#000" >r: Proteobacteria</text>
<rect x="594" y="161.86" width="12.8" height="4.6" fill="#7fa5aa" />
<text x="611.8" y="166.76" font-size="7.5" text-anchor="start" fill="#000" >s: Rokubacteria</text>
<rect x="594" y="170.68" width="12.8" height="4.6" fill="#3d6e70" />
<text x="611.8" y="175.58" font-size="7.5" text-anchor="start" fill="#000" >t: Spirochaetes</text>
<rect x="594" y="179.5" width="12.8" height="4.6" fill="#3d6e70" />
<text x="611.8" y="184.4" font-size="7.5" text-anchor="start" fill="#000" >u: Verrucomicrobia</text>
<rect x="594" y="188.32" width="12.8" height="4.6" fill="#7fa5aa" />
<text x="611.8" y="193.22" font-size="7.5" text-anchor="start" fill="#000" >v: WS2</text>
<rect x="593" y="203.8" width="19" height="6.4" fill="#7fa8ad" />
<text x="616.3" y="210.4" font-size="9.7" text-anchor="start" fill="#000" font-style="italic" >Aigeiros</text>
<rect x="593" y="217.3" width="19" height="6.4" fill="#c76d76" />
<text x="616.3" y="223.9" font-size="9.7" text-anchor="start" fill="#000" font-style="italic" >Leuce</text>
<rect x="593" y="230.8" width="19" height="6.4" fill="#e2ad4a" />
<text x="616.3" y="237.4" font-size="9.7" text-anchor="start" fill="#000" font-style="italic" >Tacamahaca</text>
<rect x="593" y="244.3" width="19" height="6.4" fill="#3e7071" />
<text x="616.3" y="250.9" font-size="9.7" text-anchor="start" fill="#000" font-style="italic" >Turanga</text>
<ellipse cx="0" cy="0" rx="21.8" ry="5.2" fill="#e3a93c" fill-opacity="0.19" transform="translate(95.2 316.5) rotate(70.5)"/>
<ellipse cx="0" cy="0" rx="27" ry="22" fill="#659fa5" fill-opacity="0.23" transform="translate(83.8 356.7) rotate(-25)"/>
<ellipse cx="0" cy="0" rx="71.4" ry="13.8" fill="#c9636a" fill-opacity="0.21" transform="translate(148.3 358.7) rotate(62.5)"/>
<circle cx="91.9" cy="310.2" r="2.05" fill="#e3a93c" stroke="none" stroke-width="0" />
<circle cx="94.8" cy="309.6" r="2.05" fill="#e3a93c" stroke="none" stroke-width="0" />
<circle cx="94.1" cy="311.8" r="2.05" fill="#e3a93c" stroke="none" stroke-width="0" />
<circle cx="97" cy="321.9" r="2.05" fill="#e3a93c" stroke="none" stroke-width="0" />
<circle cx="98" cy="321.2" r="2.05" fill="#e3a93c" stroke="none" stroke-width="0" />
<circle cx="81.2" cy="349.4" r="2.05" fill="#659fa5" stroke="none" stroke-width="0" />
<circle cx="79.1" cy="353.5" r="2.05" fill="#659fa5" stroke="none" stroke-width="0" />
<circle cx="91.2" cy="351.6" r="2.05" fill="#659fa5" stroke="none" stroke-width="0" />
<circle cx="79.8" cy="358.3" r="2.05" fill="#659fa5" stroke="none" stroke-width="0" />
<circle cx="96.4" cy="358.3" r="2.05" fill="#659fa5" stroke="none" stroke-width="0" />
<circle cx="75.6" cy="368" r="2.05" fill="#659fa5" stroke="none" stroke-width="0" />
<circle cx="52.8" cy="403" r="2.05" fill="#2f6a6c" stroke="none" stroke-width="0" />
<circle cx="57" cy="400.5" r="2.05" fill="#2f6a6c" stroke="none" stroke-width="0" />
<circle cx="58.8" cy="400.9" r="2.05" fill="#2f6a6c" stroke="none" stroke-width="0" />
<circle cx="116.6" cy="317.3" r="2.05" fill="#c9636a" stroke="none" stroke-width="0" />
<circle cx="141.2" cy="339.8" r="2.05" fill="#c9636a" stroke="none" stroke-width="0" />
<circle cx="143.2" cy="339.3" r="2.05" fill="#c9636a" stroke="none" stroke-width="0" />
<circle cx="139.9" cy="340.6" r="2.05" fill="#c9636a" stroke="none" stroke-width="0" />
<circle cx="142.5" cy="343.1" r="2.05" fill="#c9636a" stroke="none" stroke-width="0" />
<circle cx="146.9" cy="343.9" r="2.05" fill="#c9636a" stroke="none" stroke-width="0" />
<circle cx="151.5" cy="373.6" r="2.05" fill="#c9636a" stroke="none" stroke-width="0" />
<circle cx="153.3" cy="376" r="2.05" fill="#c9636a" stroke="none" stroke-width="0" />
<circle cx="158.7" cy="380.1" r="2.05" fill="#c9636a" stroke="none" stroke-width="0" />
<circle cx="159.8" cy="381.4" r="2.05" fill="#c9636a" stroke="none" stroke-width="0" />
<circle cx="161.3" cy="387.8" r="2.05" fill="#c9636a" stroke="none" stroke-width="0" />
<rect x="46.3" y="286.8" width="142" height="141.9" fill="none" stroke="#352d2d" stroke-width="1.15"/>
<line x1="43.7" y1="316.5" x2="46.3" y2="316.5" stroke="#352d2d" stroke-width="1" />
<text x="41.7" y="319.95" font-size="9.5" text-anchor="end" fill="#111" >0.25</text>
<line x1="43.7" y1="353.4" x2="46.3" y2="353.4" stroke="#352d2d" stroke-width="1" />
<text x="41.7" y="356.85" font-size="9.5" text-anchor="end" fill="#111" >0.00</text>
<line x1="43.7" y1="390.3" x2="46.3" y2="390.3" stroke="#352d2d" stroke-width="1" />
<text x="41.7" y="393.75" font-size="9.5" text-anchor="end" fill="#111" >−0.25</text>
<line x1="43.7" y1="427.2" x2="46.3" y2="427.2" stroke="#352d2d" stroke-width="1" />
<text x="41.7" y="430.65" font-size="9.5" text-anchor="end" fill="#111" >−0.50</text>
<line x1="75.3" y1="428.7" x2="75.3" y2="431.1" stroke="#352d2d" stroke-width="1" />
<text x="73.5" y="441.3" font-size="9.5" text-anchor="middle" fill="#111" >−0.2</text>
<line x1="111.5" y1="428.7" x2="111.5" y2="431.1" stroke="#352d2d" stroke-width="1" />
<text x="111.5" y="441.3" font-size="9.5" text-anchor="middle" fill="#111" >0.0</text>
<line x1="147.9" y1="428.7" x2="147.9" y2="431.1" stroke="#352d2d" stroke-width="1" />
<text x="147.9" y="441.3" font-size="9.5" text-anchor="middle" fill="#111" >0.2</text>
<line x1="184.1" y1="428.7" x2="184.1" y2="431.1" stroke="#352d2d" stroke-width="1" />
<text x="184.1" y="441.3" font-size="9.5" text-anchor="middle" fill="#111" >0.4</text>
<text x="129.4" y="456.6" font-size="11.8" text-anchor="middle" fill="#111" >PC1 (40.06%)</text>
<text x="0" y="0" font-size="11.8" text-anchor="middle" fill="#111" transform="translate(13.4 356.8) rotate(-90)">PC2 (22.90%)</text>
<text x="54.2" y="297.3" font-size="9.1" fill="#111" textLength="117.4" lengthAdjust="spacingAndGlyphs">adoni R<tspan font-size="5.5" dy="-3.6">2</tspan><tspan dy="3.6">: 0.52; P-value: 0.001</tspan></text>
<ellipse cx="0" cy="0" rx="47.8" ry="6.4" fill="#659fa5" fill-opacity="0.23" transform="translate(314 359.5) rotate(-9.3)"/>
<ellipse cx="0" cy="0" rx="36.8" ry="11.5" fill="#c9636a" fill-opacity="0.21" transform="translate(356 350.3) rotate(-23.9)"/>
<ellipse cx="0" cy="0" rx="43.9" ry="11.5" fill="#e3a93c" fill-opacity="0.19" transform="translate(291.4 391) rotate(45)"/>
<circle cx="266" cy="292.8" r="2.05" fill="#2f6a6c" stroke="none" stroke-width="0" />
<circle cx="261.6" cy="307.8" r="2.05" fill="#2f6a6c" stroke="none" stroke-width="0" />
<circle cx="262.9" cy="310.3" r="2.05" fill="#2f6a6c" stroke="none" stroke-width="0" />
<circle cx="262.2" cy="309" r="2.05" fill="#2f6a6c" stroke="none" stroke-width="0" />
<circle cx="299.1" cy="360.8" r="2.05" fill="#659fa5" stroke="none" stroke-width="0" />
<circle cx="301.7" cy="360" r="2.05" fill="#659fa5" stroke="none" stroke-width="0" />
<circle cx="303" cy="362" r="2.05" fill="#659fa5" stroke="none" stroke-width="0" />
<circle cx="323.2" cy="360" r="2.05" fill="#659fa5" stroke="none" stroke-width="0" />
<circle cx="327.6" cy="354.3" r="2.05" fill="#659fa5" stroke="none" stroke-width="0" />
<circle cx="329.4" cy="357.9" r="2.05" fill="#659fa5" stroke="none" stroke-width="0" />
<circle cx="356.8" cy="341.4" r="2.05" fill="#c9636a" stroke="none" stroke-width="0" />
<circle cx="376.2" cy="341.9" r="2.05" fill="#c9636a" stroke="none" stroke-width="0" />
<circle cx="373.6" cy="345.8" r="2.05" fill="#c9636a" stroke="none" stroke-width="0" />
<circle cx="370.2" cy="347.1" r="2.05" fill="#c9636a" stroke="none" stroke-width="0" />
<circle cx="351.4" cy="347.8" r="2.05" fill="#c9636a" stroke="none" stroke-width="0" />
<circle cx="354" cy="349.1" r="2.05" fill="#c9636a" stroke="none" stroke-width="0" />
<circle cx="347.5" cy="350.4" r="2.05" fill="#c9636a" stroke="none" stroke-width="0" />
<circle cx="341.8" cy="357.4" r="2.05" fill="#c9636a" stroke="none" stroke-width="0" />
<circle cx="343.6" cy="360" r="2.05" fill="#c9636a" stroke="none" stroke-width="0" />
<circle cx="354.7" cy="356.1" r="2.05" fill="#c9636a" stroke="none" stroke-width="0" />
<circle cx="342.5" cy="358.5" r="2.05" fill="#c9636a" stroke="none" stroke-width="0" />
<circle cx="277.9" cy="384" r="2.05" fill="#e3a93c" stroke="none" stroke-width="0" />
<circle cx="284.9" cy="380.7" r="2.05" fill="#e3a93c" stroke="none" stroke-width="0" />
<circle cx="288.3" cy="384" r="2.05" fill="#e3a93c" stroke="none" stroke-width="0" />
<circle cx="298.4" cy="400.9" r="2.05" fill="#e3a93c" stroke="none" stroke-width="0" />
<circle cx="300.4" cy="398.8" r="2.05" fill="#e3a93c" stroke="none" stroke-width="0" />
<circle cx="301.7" cy="398.3" r="2.05" fill="#e3a93c" stroke="none" stroke-width="0" />
<rect x="253.9" y="286.5" width="141.5" height="142.5" fill="none" stroke="#352d2d" stroke-width="1.15"/>
<line x1="251.3" y1="290.3" x2="253.9" y2="290.3" stroke="#352d2d" stroke-width="1" />
<text x="249.3" y="293.75" font-size="9.5" text-anchor="end" fill="#111" >0.50</text>
<line x1="251.3" y1="323.6" x2="253.9" y2="323.6" stroke="#352d2d" stroke-width="1" />
<text x="249.3" y="327.05" font-size="9.5" text-anchor="end" fill="#111" >0.25</text>
<line x1="251.3" y1="356.6" x2="253.9" y2="356.6" stroke="#352d2d" stroke-width="1" />
<text x="249.3" y="360.05" font-size="9.5" text-anchor="end" fill="#111" >0.00</text>
<line x1="251.3" y1="389.7" x2="253.9" y2="389.7" stroke="#352d2d" stroke-width="1" />
<text x="249.3" y="393.15" font-size="9.5" text-anchor="end" fill="#111" >−0.25</text>
<line x1="251.3" y1="423" x2="253.9" y2="423" stroke="#352d2d" stroke-width="1" />
<text x="249.3" y="426.45" font-size="9.5" text-anchor="end" fill="#111" >−0.50</text>
<line x1="285.9" y1="429" x2="285.9" y2="431.4" stroke="#352d2d" stroke-width="1" />
<text x="284.1" y="441.6" font-size="9.5" text-anchor="middle" fill="#111" >−0.2</text>
<line x1="322.1" y1="429" x2="322.1" y2="431.4" stroke="#352d2d" stroke-width="1" />
<text x="322.1" y="441.6" font-size="9.5" text-anchor="middle" fill="#111" >0.0</text>
<line x1="358.3" y1="429" x2="358.3" y2="431.4" stroke="#352d2d" stroke-width="1" />
<text x="358.3" y="441.6" font-size="9.5" text-anchor="middle" fill="#111" >0.2</text>
<line x1="394.3" y1="429" x2="394.3" y2="431.4" stroke="#352d2d" stroke-width="1" />
<text x="394.3" y="441.6" font-size="9.5" text-anchor="middle" fill="#111" >0.4</text>
<text x="330.8" y="456.6" font-size="11.8" text-anchor="middle" fill="#111" >PC1 (65.86%)</text>
<text x="0" y="0" font-size="11.8" text-anchor="middle" fill="#111" transform="translate(221.7 352.4) rotate(-90)">PC2 (17.36%)</text>
<text x="273.8" y="297.3" font-size="9.1" fill="#111" textLength="116.5" lengthAdjust="spacingAndGlyphs">adoni R<tspan font-size="5.5" dy="-3.6">2</tspan><tspan dy="3.6">: 0.92; P-value: 0.001</tspan></text>
<ellipse cx="0" cy="0" rx="29.4" ry="11.5" fill="#c9636a" fill-opacity="0.21" transform="translate(486.5 348.4) rotate(56.6)"/>
<ellipse cx="0" cy="0" rx="47" ry="18.5" fill="#e3a93c" fill-opacity="0.19" transform="translate(524 339.7) rotate(113.5)"/>
<ellipse cx="0" cy="0" rx="30.7" ry="16.5" fill="#659fa5" fill-opacity="0.23" transform="translate(573.8 324.5) rotate(-40.8)"/>
<circle cx="476" cy="327.7" r="2.05" fill="#c9636a" stroke="none" stroke-width="0" />
<circle cx="476.8" cy="339.3" r="2.05" fill="#c9636a" stroke="none" stroke-width="0" />
<circle cx="482.8" cy="336.7" r="2.05" fill="#c9636a" stroke="none" stroke-width="0" />
<circle cx="490.3" cy="340.6" r="2.05" fill="#c9636a" stroke="none" stroke-width="0" />
<circle cx="480.2" cy="346.5" r="2.05" fill="#c9636a" stroke="none" stroke-width="0" />
<circle cx="482" cy="353.5" r="2.05" fill="#c9636a" stroke="none" stroke-width="0" />
<circle cx="487.9" cy="355.3" r="2.05" fill="#c9636a" stroke="none" stroke-width="0" />
<circle cx="489.7" cy="353.5" r="2.05" fill="#c9636a" stroke="none" stroke-width="0" />
<circle cx="491" cy="356.1" r="2.05" fill="#c9636a" stroke="none" stroke-width="0" />
<circle cx="493.6" cy="351.7" r="2.05" fill="#c9636a" stroke="none" stroke-width="0" />
<circle cx="494.4" cy="356.1" r="2.05" fill="#c9636a" stroke="none" stroke-width="0" />
<circle cx="518.2" cy="331.5" r="2.05" fill="#e3a93c" stroke="none" stroke-width="0" />
<circle cx="531.1" cy="326.4" r="2.05" fill="#e3a93c" stroke="none" stroke-width="0" />
<circle cx="536.3" cy="323.8" r="2.05" fill="#e3a93c" stroke="none" stroke-width="0" />
<circle cx="522.1" cy="342.4" r="2.05" fill="#e3a93c" stroke="none" stroke-width="0" />
<circle cx="518.2" cy="351.7" r="2.05" fill="#e3a93c" stroke="none" stroke-width="0" />
<circle cx="524.1" cy="355.3" r="2.05" fill="#e3a93c" stroke="none" stroke-width="0" />
<circle cx="566" cy="322.8" r="2.05" fill="#659fa5" stroke="none" stroke-width="0" />
<circle cx="573.8" cy="317.8" r="2.05" fill="#659fa5" stroke="none" stroke-width="0" />
<circle cx="586.7" cy="316.5" r="2.05" fill="#659fa5" stroke="none" stroke-width="0" />
<circle cx="573" cy="329" r="2.05" fill="#659fa5" stroke="none" stroke-width="0" />
<circle cx="571.2" cy="331.5" r="2.05" fill="#659fa5" stroke="none" stroke-width="0" />
<circle cx="568.6" cy="333.4" r="2.05" fill="#659fa5" stroke="none" stroke-width="0" />
<circle cx="554.9" cy="405.5" r="2.05" fill="#2f6a6c" stroke="none" stroke-width="0" />
<circle cx="562.7" cy="418.2" r="2.05" fill="#2f6a6c" stroke="none" stroke-width="0" />
<circle cx="553.6" cy="422.6" r="2.05" fill="#2f6a6c" stroke="none" stroke-width="0" />
<rect x="461.9" y="286.8" width="142" height="142.1" fill="none" stroke="#352d2d" stroke-width="1.15"/>
<line x1="459.3" y1="292.5" x2="461.9" y2="292.5" stroke="#352d2d" stroke-width="1" />
<text x="457.3" y="295.95" font-size="9.5" text-anchor="end" fill="#111" >0.4</text>
<line x1="459.3" y1="320.2" x2="461.9" y2="320.2" stroke="#352d2d" stroke-width="1" />
<text x="457.3" y="323.65" font-size="9.5" text-anchor="end" fill="#111" >0.2</text>
<line x1="459.3" y1="348.2" x2="461.9" y2="348.2" stroke="#352d2d" stroke-width="1" />
<text x="457.3" y="351.65" font-size="9.5" text-anchor="end" fill="#111" >0.0</text>
<line x1="459.3" y1="375.7" x2="461.9" y2="375.7" stroke="#352d2d" stroke-width="1" />
<text x="457.3" y="379.15" font-size="9.5" text-anchor="end" fill="#111" >−0.2</text>
<line x1="459.3" y1="403.7" x2="461.9" y2="403.7" stroke="#352d2d" stroke-width="1" />
<text x="457.3" y="407.15" font-size="9.5" text-anchor="end" fill="#111" >−0.4</text>
<line x1="484.3" y1="428.9" x2="484.3" y2="431.3" stroke="#352d2d" stroke-width="1" />
<text x="482.5" y="441.5" font-size="9.5" text-anchor="middle" fill="#111" >−0.2</text>
<line x1="522.2" y1="428.9" x2="522.2" y2="431.3" stroke="#352d2d" stroke-width="1" />
<text x="522.2" y="441.5" font-size="9.5" text-anchor="middle" fill="#111" >0.0</text>
<line x1="560.1" y1="428.9" x2="560.1" y2="431.3" stroke="#352d2d" stroke-width="1" />
<text x="560.1" y="441.5" font-size="9.5" text-anchor="middle" fill="#111" >0.2</text>
<line x1="598" y1="428.9" x2="598" y2="431.3" stroke="#352d2d" stroke-width="1" />
<text x="598" y="441.5" font-size="9.5" text-anchor="middle" fill="#111" >0.4</text>
<text x="540.6" y="456.6" font-size="11.8" text-anchor="middle" fill="#111" >PC1 (46.48%)</text>
<text x="0" y="0" font-size="11.8" text-anchor="middle" fill="#111" transform="translate(434 352.4) rotate(-90)">PC2 (23.96%)</text>
<text x="470.9" y="297.3" font-size="9.1" fill="#111" textLength="117.6" lengthAdjust="spacingAndGlyphs">adoni R<tspan font-size="5.5" dy="-3.6">2</tspan><tspan dy="3.6">: 0.69; P-value: 0.001</tspan></text>
<rect x="611.8" y="298.8" width="10.1" height="8.6" fill="#d06b73" />
<text x="624.8" y="306.4" font-size="9.7" text-anchor="start" fill="#111" font-style="italic" >Leuce</text>
<rect x="611.8" y="310.6" width="10.1" height="8.6" fill="#76a9ad" />
<text x="624.8" y="318.2" font-size="9.7" text-anchor="start" fill="#111" font-style="italic" >Aigeiros</text>
<rect x="611.8" y="322.4" width="10.1" height="8.6" fill="#e9b44d" />
<text x="624.8" y="330" font-size="9.7" text-anchor="start" fill="#111" font-style="italic" >Tacamahaca</text>
<rect x="611.8" y="334.2" width="10.1" height="8.6" fill="#3e7172" />
<text x="624.8" y="341.8" font-size="9.7" text-anchor="start" fill="#111" font-style="italic" >Turanga</text>
<line x1="33.1" y1="481.8" x2="109.6" y2="481.8" stroke="#000" stroke-width="1.45" stroke-linecap="square"/>
<line x1="33.1" y1="481.8" x2="33.1" y2="550.2" stroke="#000" stroke-width="1.45" stroke-linecap="square"/>
<line x1="109.6" y1="481.8" x2="109.6" y2="485.4" stroke="#000" stroke-width="1.45" stroke-linecap="square"/>
<line x1="69.7" y1="485.4" x2="149.9" y2="485.4" stroke="#000" stroke-width="1.45" stroke-linecap="square"/>
<line x1="69.7" y1="485.4" x2="69.7" y2="497.4" stroke="#000" stroke-width="1.45" stroke-linecap="square"/>
<line x1="149.9" y1="485.4" x2="149.9" y2="489.3" stroke="#000" stroke-width="1.45" stroke-linecap="square"/>
<line x1="52.5" y1="497.4" x2="87.3" y2="497.4" stroke="#000" stroke-width="1.45" stroke-linecap="square"/>
<line x1="52.5" y1="497.4" x2="52.5" y2="550.2" stroke="#000" stroke-width="1.45" stroke-linecap="square"/>
<line x1="87.3" y1="497.4" x2="87.3" y2="500.5" stroke="#000" stroke-width="1.45" stroke-linecap="square"/>
<line x1="72.5" y1="500.5" x2="102.4" y2="500.5" stroke="#000" stroke-width="1.45" stroke-linecap="square"/>
<line x1="72.5" y1="500.5" x2="72.5" y2="550.2" stroke="#000" stroke-width="1.45" stroke-linecap="square"/>
<line x1="102.4" y1="500.5" x2="102.4" y2="501.6" stroke="#000" stroke-width="1.45" stroke-linecap="square"/>
<line x1="92.3" y1="501.6" x2="112.3" y2="501.6" stroke="#000" stroke-width="1.45" stroke-linecap="square"/>
<line x1="92.3" y1="501.6" x2="92.3" y2="550.2" stroke="#000" stroke-width="1.45" stroke-linecap="square"/>
<line x1="112.3" y1="501.6" x2="112.3" y2="550.2" stroke="#000" stroke-width="1.45" stroke-linecap="square"/>
<line x1="131.9" y1="489.3" x2="167.5" y2="489.3" stroke="#000" stroke-width="1.45" stroke-linecap="square"/>
<line x1="131.9" y1="489.3" x2="131.9" y2="550.2" stroke="#000" stroke-width="1.45" stroke-linecap="square"/>
<line x1="167.5" y1="489.3" x2="167.5" y2="493" stroke="#000" stroke-width="1.45" stroke-linecap="square"/>
<line x1="152" y1="493" x2="182.3" y2="493" stroke="#000" stroke-width="1.45" stroke-linecap="square"/>
<line x1="152" y1="493" x2="152" y2="550.2" stroke="#000" stroke-width="1.45" stroke-linecap="square"/>
<line x1="182.3" y1="493" x2="182.3" y2="494" stroke="#000" stroke-width="1.45" stroke-linecap="square"/>
<line x1="171.8" y1="494" x2="192" y2="494" stroke="#000" stroke-width="1.45" stroke-linecap="square"/>
<line x1="171.8" y1="494" x2="171.8" y2="550.2" stroke="#000" stroke-width="1.45" stroke-linecap="square"/>
<line x1="192" y1="494" x2="192" y2="550.2" stroke="#000" stroke-width="1.45" stroke-linecap="square"/>
<rect x="24.3" y="505.3" width="16.5" height="44.9" fill="#618489" opacity="0.6"/>
<rect x="45" y="505.3" width="75.1" height="44.9" fill="#cb8489" opacity="0.6"/>
<rect x="124.8" y="505.3" width="36" height="44.9" fill="#8fb4bb" opacity="0.6"/>
<rect x="164.6" y="505.3" width="35.6" height="44.9" fill="#e1bb67" opacity="0.6"/>
<text x="28.3" y="560.9" font-size="8.7" text-anchor="middle" fill="#111" textLength="22.2" lengthAdjust="spacingAndGlyphs" >Peu-H</text>
<text x="51.4" y="560.9" font-size="8.7" text-anchor="middle" fill="#111" textLength="18.9" lengthAdjust="spacingAndGlyphs" >Pal-Y</text>
<text x="74.3" y="560.9" font-size="8.7" text-anchor="middle" fill="#111" textLength="21.4" lengthAdjust="spacingAndGlyphs" >Pto-M</text>
<text x="93" y="560.9" font-size="8.7" text-anchor="middle" fill="#111" textLength="13.6" lengthAdjust="spacingAndGlyphs" >84K</text>
<text x="113" y="560.9" font-size="8.7" text-anchor="middle" fill="#111" textLength="19.9" lengthAdjust="spacingAndGlyphs" >LM50</text>
<text x="132.5" y="560.9" font-size="8.7" text-anchor="middle" fill="#111" textLength="12.9" lengthAdjust="spacingAndGlyphs" >107</text>
<text x="152.8" y="560.9" font-size="8.7" text-anchor="middle" fill="#111" textLength="17.3" lengthAdjust="spacingAndGlyphs" >H3-1</text>
<text x="174.5" y="560.9" font-size="8.7" text-anchor="middle" fill="#111" textLength="21.5" lengthAdjust="spacingAndGlyphs" >Pot-M</text>
<text x="198.5" y="560.9" font-size="8.7" text-anchor="middle" fill="#111" textLength="19.7" lengthAdjust="spacingAndGlyphs" >Psz-Z</text>
<line x1="17" y1="488.8" x2="17" y2="549.8" stroke="#000" stroke-width="1.35" />
<line x1="14" y1="489.4" x2="17" y2="489.4" stroke="#000" stroke-width="1.2" />
<line x1="14" y1="501.3" x2="17" y2="501.3" stroke="#000" stroke-width="1.2" />
<line x1="14" y1="513.4" x2="17" y2="513.4" stroke="#000" stroke-width="1.2" />
<line x1="14" y1="525.4" x2="17" y2="525.4" stroke="#000" stroke-width="1.2" />
<line x1="14" y1="537.3" x2="17" y2="537.3" stroke="#000" stroke-width="1.2" />
<line x1="14" y1="549.2" x2="17" y2="549.2" stroke="#000" stroke-width="1.2" />
<text x="0" y="0" font-size="9.3" text-anchor="middle" fill="#000" transform="translate(9.6 548.6) rotate(-90)">0</text>
<text x="0" y="0" font-size="9.3" text-anchor="middle" fill="#000" transform="translate(9.6 514.9) rotate(-90)">150</text>
<line x1="260.3" y1="481.8" x2="349.6" y2="481.8" stroke="#000" stroke-width="1.45" stroke-linecap="square"/>
<line x1="260.3" y1="481.8" x2="260.3" y2="535.3" stroke="#000" stroke-width="1.45" stroke-linecap="square"/>
<line x1="349.6" y1="481.8" x2="349.6" y2="519.2" stroke="#000" stroke-width="1.45" stroke-linecap="square"/>
<line x1="242.7" y1="535.3" x2="278.3" y2="535.3" stroke="#000" stroke-width="1.45" stroke-linecap="square"/>
<line x1="242.7" y1="535.3" x2="242.7" y2="550.6" stroke="#000" stroke-width="1.45" stroke-linecap="square"/>
<line x1="278.3" y1="535.3" x2="278.3" y2="539.5" stroke="#000" stroke-width="1.45" stroke-linecap="square"/>
<line x1="262.8" y1="539.5" x2="293.5" y2="539.5" stroke="#000" stroke-width="1.45" stroke-linecap="square"/>
<line x1="262.8" y1="539.5" x2="262.8" y2="550.6" stroke="#000" stroke-width="1.45" stroke-linecap="square"/>
<line x1="293.5" y1="539.5" x2="293.5" y2="542.6" stroke="#000" stroke-width="1.45" stroke-linecap="square"/>
<line x1="290.2" y1="542.6" x2="310.4" y2="542.6" stroke="#000" stroke-width="1.45" stroke-linecap="square"/>
<line x1="290.2" y1="542.6" x2="290.2" y2="550.6" stroke="#000" stroke-width="1.45" stroke-linecap="square"/>
<line x1="310.4" y1="542.6" x2="310.4" y2="550.6" stroke="#000" stroke-width="1.45" stroke-linecap="square"/>
<line x1="323.7" y1="519.2" x2="375.3" y2="519.2" stroke="#000" stroke-width="1.45" stroke-linecap="square"/>
<line x1="323.7" y1="519.2" x2="323.7" y2="550.6" stroke="#000" stroke-width="1.45" stroke-linecap="square"/>
<line x1="375.3" y1="519.2" x2="375.3" y2="521.6" stroke="#000" stroke-width="1.45" stroke-linecap="square"/>
<line x1="354.7" y1="521.6" x2="395.4" y2="521.6" stroke="#000" stroke-width="1.45" stroke-linecap="square"/>
<line x1="354.7" y1="521.6" x2="354.7" y2="537.1" stroke="#000" stroke-width="1.45" stroke-linecap="square"/>
<line x1="395.4" y1="521.6" x2="395.4" y2="537.1" stroke="#000" stroke-width="1.45" stroke-linecap="square"/>
<line x1="344.3" y1="537.1" x2="364.7" y2="537.1" stroke="#000" stroke-width="1.45" stroke-linecap="square"/>
<line x1="344.3" y1="537.1" x2="344.3" y2="550.6" stroke="#000" stroke-width="1.45" stroke-linecap="square"/>
<line x1="364.7" y1="537.1" x2="364.7" y2="550.6" stroke="#000" stroke-width="1.45" stroke-linecap="square"/>
<line x1="384.8" y1="537.1" x2="406.4" y2="537.1" stroke="#000" stroke-width="1.45" stroke-linecap="square"/>
<line x1="384.8" y1="537.1" x2="384.8" y2="550.6" stroke="#000" stroke-width="1.45" stroke-linecap="square"/>
<line x1="406.4" y1="537.1" x2="406.4" y2="550.6" stroke="#000" stroke-width="1.45" stroke-linecap="square"/>
<rect x="240" y="521.2" width="73" height="29.6" fill="#cb8489" opacity="0.6"/>
<rect x="316.9" y="521.2" width="15" height="29.6" fill="#618489" opacity="0.6"/>
<rect x="337.4" y="521.2" width="35.6" height="29.6" fill="#8fb4bb" opacity="0.6"/>
<rect x="379" y="521.2" width="33.2" height="29.6" fill="#e1bb67" opacity="0.6"/>
<text x="245.6" y="560.9" font-size="8.7" text-anchor="middle" fill="#111" textLength="19.9" lengthAdjust="spacingAndGlyphs" >LM50</text>
<text x="266.6" y="560.9" font-size="8.7" text-anchor="middle" fill="#111" textLength="18.7" lengthAdjust="spacingAndGlyphs" >Pal-Y</text>
<text x="289.9" y="560.9" font-size="8.7" text-anchor="middle" fill="#111" textLength="20.8" lengthAdjust="spacingAndGlyphs" >Pto-M</text>
<text x="308.5" y="560.9" font-size="8.7" text-anchor="middle" fill="#111" textLength="14.8" lengthAdjust="spacingAndGlyphs" >84K</text>
<text x="328.5" y="560.9" font-size="8.7" text-anchor="middle" fill="#111" textLength="22.1" lengthAdjust="spacingAndGlyphs" >Peu-H</text>
<text x="350" y="560.9" font-size="8.7" text-anchor="middle" fill="#111" textLength="17.8" lengthAdjust="spacingAndGlyphs" >H3-1</text>
<text x="365.8" y="560.9" font-size="8.7" text-anchor="middle" fill="#111" textLength="13.3" lengthAdjust="spacingAndGlyphs" >107</text>
<text x="387" y="560.9" font-size="8.7" text-anchor="middle" fill="#111" textLength="21.3" lengthAdjust="spacingAndGlyphs" >Pot-M</text>
<text x="413.2" y="560.9" font-size="8.7" text-anchor="middle" fill="#111" textLength="20.9" lengthAdjust="spacingAndGlyphs" >Psz-Z</text>
<line x1="231.4" y1="489.2" x2="231.4" y2="550" stroke="#000" stroke-width="1.35" />
<line x1="228.4" y1="489.8" x2="231.4" y2="489.8" stroke="#000" stroke-width="1.2" />
<line x1="228.4" y1="501.8" x2="231.4" y2="501.8" stroke="#000" stroke-width="1.2" />
<line x1="228.4" y1="513.6" x2="231.4" y2="513.6" stroke="#000" stroke-width="1.2" />
<line x1="228.4" y1="525.5" x2="231.4" y2="525.5" stroke="#000" stroke-width="1.2" />
<line x1="228.4" y1="537.4" x2="231.4" y2="537.4" stroke="#000" stroke-width="1.2" />
<line x1="228.4" y1="549.3" x2="231.4" y2="549.3" stroke="#000" stroke-width="1.2" />
<text x="0" y="0" font-size="9.3" text-anchor="middle" fill="#000" transform="translate(226.7 549.3) rotate(-90)">0</text>
<text x="0" y="0" font-size="9.3" text-anchor="middle" fill="#000" transform="translate(226.7 525.5) rotate(-90)">4</text>
<text x="0" y="0" font-size="9.3" text-anchor="middle" fill="#000" transform="translate(226.7 501.8) rotate(-90)">8</text>
<line x1="492.6" y1="482.2" x2="572.7" y2="482.2" stroke="#000" stroke-width="1.45" stroke-linecap="square"/>
<line x1="492.6" y1="482.2" x2="492.6" y2="509.7" stroke="#000" stroke-width="1.45" stroke-linecap="square"/>
<line x1="572.7" y1="482.2" x2="572.7" y2="500.4" stroke="#000" stroke-width="1.45" stroke-linecap="square"/>
<line x1="471.4" y1="509.7" x2="514.1" y2="509.7" stroke="#000" stroke-width="1.45" stroke-linecap="square"/>
<line x1="471.4" y1="509.7" x2="471.4" y2="525.5" stroke="#000" stroke-width="1.45" stroke-linecap="square"/>
<line x1="514.1" y1="509.7" x2="514.1" y2="519.8" stroke="#000" stroke-width="1.45" stroke-linecap="square"/>
<line x1="460.7" y1="525.5" x2="482.2" y2="525.5" stroke="#000" stroke-width="1.45" stroke-linecap="square"/>
<line x1="460.7" y1="525.5" x2="460.7" y2="551" stroke="#000" stroke-width="1.45" stroke-linecap="square"/>
<line x1="482.2" y1="525.5" x2="482.2" y2="551" stroke="#000" stroke-width="1.45" stroke-linecap="square"/>
<line x1="503.4" y1="519.8" x2="524.5" y2="519.8" stroke="#000" stroke-width="1.45" stroke-linecap="square"/>
<line x1="503.4" y1="519.8" x2="503.4" y2="551" stroke="#000" stroke-width="1.45" stroke-linecap="square"/>
<line x1="524.5" y1="519.8" x2="524.5" y2="551" stroke="#000" stroke-width="1.45" stroke-linecap="square"/>
<line x1="546.2" y1="500.4" x2="599.6" y2="500.4" stroke="#000" stroke-width="1.45" stroke-linecap="square"/>
<line x1="546.2" y1="500.4" x2="546.2" y2="551" stroke="#000" stroke-width="1.45" stroke-linecap="square"/>
<line x1="599.6" y1="500.4" x2="599.6" y2="502.7" stroke="#000" stroke-width="1.45" stroke-linecap="square"/>
<line x1="577.8" y1="502.7" x2="620.9" y2="502.7" stroke="#000" stroke-width="1.45" stroke-linecap="square"/>
<line x1="577.8" y1="502.7" x2="577.8" y2="530.2" stroke="#000" stroke-width="1.45" stroke-linecap="square"/>
<line x1="620.9" y1="502.7" x2="620.9" y2="509" stroke="#000" stroke-width="1.45" stroke-linecap="square"/>
<line x1="567.3" y1="530.2" x2="588.6" y2="530.2" stroke="#000" stroke-width="1.45" stroke-linecap="square"/>
<line x1="567.3" y1="530.2" x2="567.3" y2="551" stroke="#000" stroke-width="1.45" stroke-linecap="square"/>
<line x1="588.6" y1="530.2" x2="588.6" y2="551" stroke="#000" stroke-width="1.45" stroke-linecap="square"/>
<line x1="609.7" y1="509" x2="631.5" y2="509" stroke="#000" stroke-width="1.45" stroke-linecap="square"/>
<line x1="609.7" y1="509" x2="609.7" y2="551" stroke="#000" stroke-width="1.45" stroke-linecap="square"/>
<line x1="631.5" y1="509" x2="631.5" y2="551" stroke="#000" stroke-width="1.45" stroke-linecap="square"/>
<rect x="452.4" y="505.9" width="80.5" height="45.2" fill="#cb8489" opacity="0.6"/>
<rect x="537.2" y="505.9" width="17.5" height="45.2" fill="#618489" opacity="0.6"/>
<rect x="559.2" y="505.9" width="37.6" height="45.2" fill="#8fb4bb" opacity="0.6"/>
<rect x="601.5" y="505.9" width="38.3" height="45.2" fill="#e1bb67" opacity="0.6"/>
<text x="462" y="560.9" font-size="8.7" text-anchor="middle" fill="#111" textLength="15" lengthAdjust="spacingAndGlyphs" >84K</text>
<text x="481.1" y="560.9" font-size="8.7" text-anchor="middle" fill="#111" textLength="20.2" lengthAdjust="spacingAndGlyphs" >Pal-Y</text>
<text x="503.6" y="560.9" font-size="8.7" text-anchor="middle" fill="#111" textLength="22.4" lengthAdjust="spacingAndGlyphs" >Pto-M</text>
<text x="525.7" y="560.9" font-size="8.7" text-anchor="middle" fill="#111" textLength="20.9" lengthAdjust="spacingAndGlyphs" >LM50</text>
<text x="548.2" y="560.9" font-size="8.7" text-anchor="middle" fill="#111" textLength="22.9" lengthAdjust="spacingAndGlyphs" >Peu-H</text>
<text x="570.6" y="560.9" font-size="8.7" text-anchor="middle" fill="#111" textLength="16.2" lengthAdjust="spacingAndGlyphs" >H3-1</text>
<text x="589.3" y="560.9" font-size="8.7" text-anchor="middle" fill="#111" textLength="13.4" lengthAdjust="spacingAndGlyphs" >107</text>
<text x="610.7" y="560.9" font-size="8.7" text-anchor="middle" fill="#111" textLength="22.5" lengthAdjust="spacingAndGlyphs" >Pot-M</text>
<text x="633.5" y="560.9" font-size="8.7" text-anchor="middle" fill="#111" textLength="20.6" lengthAdjust="spacingAndGlyphs" >Psz-Z</text>
<line x1="446.5" y1="490.65" x2="446.5" y2="551.2" stroke="#000" stroke-width="1.35" />
<line x1="443.5" y1="491.25" x2="446.5" y2="491.25" stroke="#000" stroke-width="1.2" />
<line x1="443.5" y1="506.1" x2="446.5" y2="506.1" stroke="#000" stroke-width="1.2" />
<line x1="443.5" y1="521" x2="446.5" y2="521" stroke="#000" stroke-width="1.2" />
<line x1="443.5" y1="535.8" x2="446.5" y2="535.8" stroke="#000" stroke-width="1.2" />
<line x1="443.5" y1="550.6" x2="446.5" y2="550.6" stroke="#000" stroke-width="1.2" />
<text x="0" y="0" font-size="9.3" text-anchor="middle" fill="#000" transform="translate(441.1 550.4) rotate(-90)">0</text>
<text x="0" y="0" font-size="9.3" text-anchor="middle" fill="#000" transform="translate(441.1 520.9) rotate(-90)">200</text>
<text x="0" y="0" font-size="9.3" text-anchor="middle" fill="#000" transform="translate(441.1 491.5) rotate(-90)">400</text>
</svg>
</body></html>
